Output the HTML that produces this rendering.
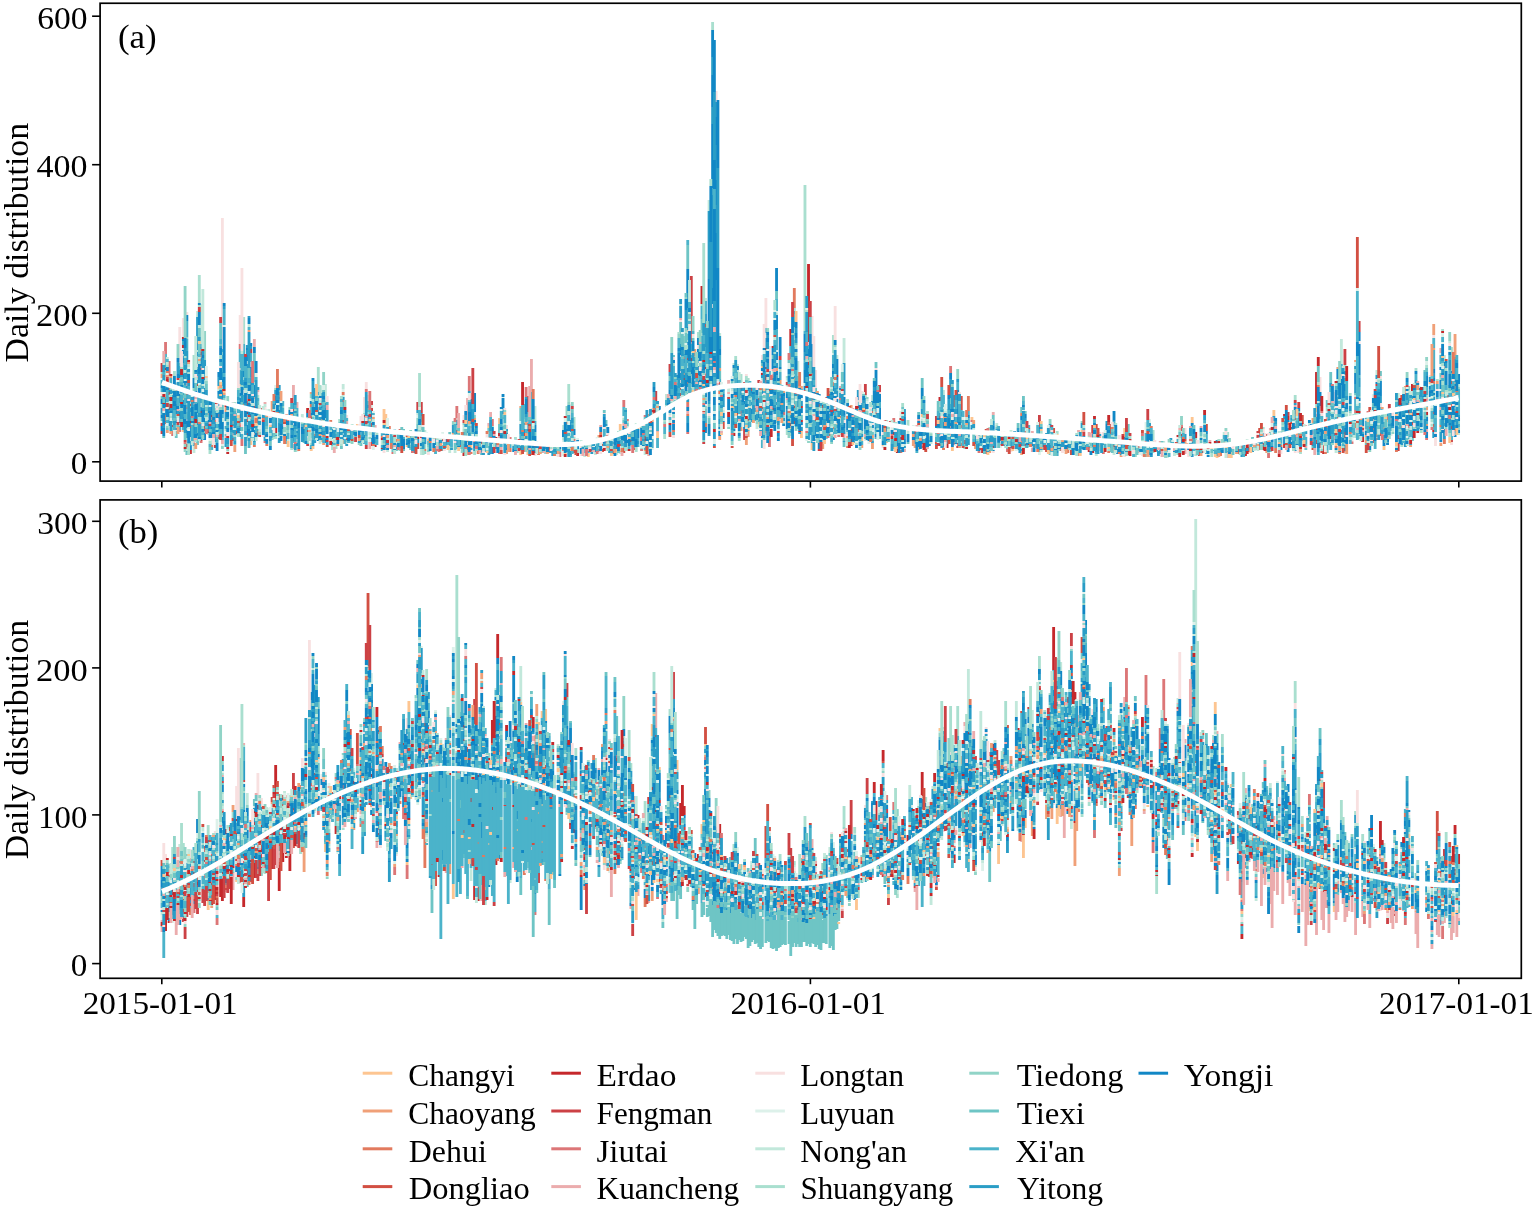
<!DOCTYPE html>
<html lang="en"><head><meta charset="utf-8"><title>Daily distribution</title>
<style>
html,body{margin:0;padding:0;background:#fff}
body{width:1534px;height:1210px;overflow:hidden}
svg{display:block}
text{font-family:"Liberation Serif","DejaVu Serif",serif;fill:#000}
</style></head><body>
<svg width="1534" height="1210" viewBox="0 0 1534 1210">
<rect width="1534" height="1210" fill="#fff"/>
<g transform="translate(162.00 0) scale(1.77616 1)" fill="none" stroke-width="1.6">
<path stroke="#FDC591" d="M12 398v2m0 30v2m6 6v2m4-74v2m4 45v2m6-29v3m8 32v3m4-40v2m6 52v7m10-33v2m20 13v2m4 20v2m12-27v2m6 14v4m8-20v4m16-14v11m0 4v2m12 14v2m4-15v7m8 0v2m24-15v2m0 17v3m8-11v5m2-16v2m6-10v6m0 17v3m12 6v5m2-19v2m2 12v5m24-13v2m0 4v3m10 2v4m16-8v3m2-28v6m0 21v1m6-24v3m4-4v2m32-73v1m22 50v2m8-3v2m0 20v2m6-8v5m2-61v2m4 26v3m12-8v2m0 35v3m6 2v7m6 5v7m14-27v2m12-17v3m2 26v4m12 4v1m2-5v2m18 4v3m2-36v3m28 0v3m18 23v1m2-10v7m28-7v2m8 2v2m6-10v3m0 5v3m10 4v2m2 1v3m6-2v2m2-9v2m4-16v9m26 9v1m12-30v3m0 0v3m14 33v2m8-6v6m24-48v6m0 5v2m24-16v5m22 3v4m4 7v2m4 15v3m8 0v4m2-30v2m24-40v2m12 26v2m2-30v2"/>
<path stroke="#F0A078" d="M0 374v4m8 12v1m6 16v2m8-54v3m6 59v3m2-20v2m6 5v5m26-11v11m22-20v2m4 13v3m2 9v4m0 17v2m38-12v2m16 2v3m20-4v5m8 12v5m4-37v2m18 30v4m8-48v2m44 27v5m26 10v1m2-37v2m2 4v2m18-49v2m6-26v7m2 23v2m12-13v3m0 65v4m12-13v4m4 0v6m14-61v2m2-10v3m2 9v4m2 4v5m4 18v4m2-37v2m0 36v1m4-31v3m2 2v3m10 48v7m2-26v3m2-8v2m10 16v2m2-33v5m4 3v2m2 30v3m6-13v3m0 5v6m2-31v2m6 17v2m4 8v2m2-3v3m10-4v3m16-32v3m18 25v5m8 2v2m6-22v3m2 1v2m10 14v4m8-10v3m22-11v2m16 2v2m6 4v2m2-5v3m2 8v2m36-16v3m4 3v2m16-6v3m4 0v2m22 3v2m12-31v3m14-7v5m0 15v4m8-17v3m6-61v2m10-9v2m6 73v2m0 3v3m6-9v3m0 1v2m4-13v2m2 8v2m8-13v2m2-42v7m2 10v3m6-5v3m4 3v3m0 14v2m4-102v11m0 13v2m2 31v3m2 59v3m8-112v23m0 29v3"/>
<path stroke="#E27A5E" d="M2 397v2m0 16v6m0 1v2m20-75v3m6 93v2m18-43v5m6 15v2m0 19v2m2-16v5m16-22v5m14-15v3m2 27v2m16-44v3m22 41v2m4-12v3m4 10v3m16 7v2m6-16v4m18 1v2m2 10v2m4-4v4m18-6v4m8-5v5m4-3v6m4-6v6m6-3v1m10-31v2m60 6v2m8-50v2m0 18v2m0 10v2m10 7v4m8-36v3m20-9v3m22-100v20m2 85v3m8-23v2m8 24v3m2-2v2m2-20v4m0 27v2m0 12v2m4-13v2m4-2v3m0 27v2m4-23v2m26 23v3m24-6v3m10-7v3m4-50v15m2 20v2m28-20v3m0 25v2m26 4v6m16-19v3m54 1v4m16 10v4m2-14v4m32-1v2m24-2v1m18-23v5m44-47v3m4 41v2m2 12v5m4-46v2m2-43v2"/>
<path stroke="#D24F42" d="M4 388v2m10 2v3m2 9v2m10-8v2m4 2v2m0 16v2m4-33v3m10 31v2m42-3v2m12 13v3m36-11v2m4 1v5m6 6v6m14-14v2m10 8v2m26-6v2m10-2v2m6 1v3m18-4v3m4 4v3m16-9v2m0 3v3m2-15v2m4 12v3m6-6v5m4-13v2m2 6v2m6-10v2m14-10v5m6-49v2m0 3v3m24 26v7m20-31v2m18 23v3m2-5v3m14-20v3m4 19v2m2 6v2m16-7v3m8-21v2m26 10v2m4 23v4m6-10v2m0 1v4m10-54v12m4-11v14m2 30v3m12-14v6m0 14v5m24-26v1m10 18v5m4-24v5m0 13v2m4 1v2m6-1v5m14-31v5m8-5v10m10 17v4m8-25v3m24 6v2m12-17v7m18 18v5m12-26v6m0 11v3m0 0v2m8-17v5m10-16v2m6-9v8m6 25v2m14-33v2m16 26v8m2-46v5m2 28v3m4-10v3m12-41v5m28-19v3m0 20v3m2 22v2"/>
<path stroke="#C5282B" d="M2 368v2m2 22v3m0 13v2m8-73v2m0 6v3m2 96v3m2-26v2m0 27v4m4-70v2m2 25v2m2 13v2m2 3v2m2-18v2m4 20v2m4-38v6m8 18v2m4-15v2m0 5v3m16 6v5m10-24v2m6 7v3m2-13v5m0 17v2m2-16v3m18 1v2m2 16v2m10-25v2m4 25v4m2-1v2m4-9v2m0 8v1m20-12v2m26 13v4m18-19v2m2-6v3m14-3v3m2 6v1m12 1v7m16 2v3m38-20v4m14-17v2m8-47v2m2-22v2m2-2v3m6-75v18m2 63v2m8 13v2m8 49v3m2-23v2m4-33v4m2 33v2m8-48v2m2-27v2m0 25v5m4-34v2m0 60v2m10-81v17m2 60v2m4-2v2m0 12v2m2-32v1m2-127v78m0 20v3m8 40v3m2-11v2m6-24v2m8 62v7m4-40v2m18 13v4m2 7v3m2 14v4m2-35v2m0 17v2m8-10v5m14-37v4m0 15v3m0 25v2m4-2v4m20-15v2m0 13v5m6-7v2m20-4v1m34 2v5m2-1v2m8-13v2m4 3v2m4-5v3m4-1v2m6-4v6m16-5v3m6-11v2m2-3v2m8-4v6m4 13v2m4-11v2m4 1v2m16 7v2m10-13v2m0 1v4m2-16v2m10-22v2m0 28v4m2-32v4m6 8v2m2-7v3m8-54v32m0 24v2m4 16v8m4-18v3m8-20v1m0 16v2m8-27v2m2 24v5m26-32v3m0 12v3m2-44v7m0 24v1m0 6v3m8-13v3m4 9v3m0 3v2m8-37v3"/>
<path stroke="#CC4145" d="M0 363v7m0 0v2m0 51v3m0 5v3m6-9v2m10-1v2m2-4v2m4-74v3m0 13v2m0 70v1m2-13v3m2-2v2m4 14v3m10-10v3m2-10v3m6-33v4m0 28v2m2-86v4m2 53v3m4-1v4m26 32v2m20-46v2m16-1v4m0 3v3m0 12v5m10 1v1m16-28v8m0 22v2m2-32v11m0 22v3m12 1v2m4-4v3m4-10v2m4-12v3m10 18v3m26-48v16m6 36v1m24-6v2m22-1v2m10-21v2m8-17v2m2-21v10m8-37v8m12-96v66m6 39v2m2-59v3m20 61v1m2 40v11m4-55v6m4-11v3m2 24v2m2-42v2m0 44v2m2-26v2m6-35v4m4 22v3m12 9v3m4-4v2m0 24v2m2 28v2m18-22v2m8-47v11m6 17v2m2-29v7m32 24v10m12 17v5m4-5v1m34-13v3m0 10v2m8-31v12m30-2v9m30 7v3m20-17v4m10 21v4m24-10v2m2 0v2m2-2v4m4-12v2m18-30v4m4-16v3m0 15v2m2-18v6m10 32v4m2-1v5m14-99v16m0 67v4m8-115v11m2 96v2m4-3v2m4-45v2m0 26v3m12 20v4m0 4v8m20-39v2m6-15v1m4 26v3m0 11v2"/>
<path stroke="#DC7677" d="M2 342v12m2 7v15m2 9v3m0 43v5m4-6v2m12 9v2m10-29v3m12-73v5m0 69v3m10-13v3m4 30v2m72 9v2m26-18v2m0 11v3m10-46v12m8 20v2m2-1v3m10-23v4m0 0v3m4 26v2m2-16v4m4-5v4m28 11v5m2-7v1m2-20v3m4 5v2m14 8v3m4-13v4m10-43v7m2 12v2m8 16v4m0 8v2m2-36v2m16 6v1m6-67v2m2 45v3m0 25v2m8-44v2m2-18v2m20 35v5m14-36v3m0 48v2m2 3v11m8-35v3m16-17v3m2 15v3m12-16v2m2-7v2m12 15v1m2-7v2m16 7v4m16 24v2m16-82v7m2 69v3m4-20v3m6-8v2m4 29v2m16-4v3m40 1v3m2-20v2m12 14v2m22-21v3m2 8v2m20-21v2m34 16v3m62-4v2m2-47v2m0 11v3m10 15v2m8-14v4m10-27v2m4 17v3m8 23v2"/>
<path stroke="#EBACAD" d="M2 375v2m0 17v3m12-14v3m4 17v2m0 35v3m2-67v2m0 14v2m14 46v4m2-8v2m4-36v2m0 29v3m8-41v6m2 16v2m2-80v8m0 50v2m0 19v6m0 9v2m2-45v2m4 10v2m16-19v18m0 41v5m2-47v6m22 17v3m6-7v4m2 0v3m14-3v4m50 8v2m2-41v23m2-28v6m10 24v3m6 10v2m16-17v2m2-64v33m52 31v3m14 25v5m12-58v2m6-82v2m4 10v2m0 79v3m2-72v2m0 48v4m8-23v1m28 25v3m0 3v3m4 1v3m2 21v2m4-66v2m0 3v2m4 20v2m4 0v2m4 4v2m8-46v2m6 48v4m6 19v1m6-48v2m2 46v4m4-28v2m4 22v2m2-25v2m2 21v3m22 12v3m6-8v1m2-26v2m2 23v2m2-25v1m0 5v3m10-18v2m4 12v2m0 5v3m24-24v3m12 30v4m6-24v2m4 4v4m0 0v2m0 11v4m10-24v2m4 6v2m12-8v2m6 0v4m6 0v6m22 9v2m6-21v2m0 21v2m6-16v3m8 1v6m6-3v6m2-8v2m12-8v2m10 10v6m10-17v4m2-4v6m2-7v2m8 3v4m2-21v2m14-25v2m0 17v2m0 2v2m6-5v2m0 19v2m4-17v3m2-20v3m6 0v2m4 17v4m4-66v2m2 75v1m4-11v1m6-12v2m6-13v3m10-4v2m4-12v2m0 10v2m2-16v2m14-10v3m0 28v3m6-33v4m2-55v5m0 54v3m2-44v2"/>
<path stroke="#F8E0E0" d="M0 392v4m10-69v36m2-45v19m2-25v3m0 104v2m6-57v3m0 27v2m6 22v2m4-14v2m2-2v2m2-190v131m6 77v4m2-20v3m0 21v2m2-121v29m0 24v2m2 20v3m4-31v5m0 34v3m2 0v2m2-14v3m4 12v6m10 3v1m0 18v3m6-15v2m2 14v2m4-20v2m2 13v2m2 0v3m4-37v3m6 14v4m4 15v2m6-27v3m4 17v3m4-22v8m2-27v13m2-15v6m0 27v2m16 7v2m14-6v2m0 3v3m4-7v5m0 13v3m20-40v5m4 8v2m0 6v2m0 12v2m2-40v3m4 29v2m14-21v4m16 24v3m10-12v6m8 2v3m2-51v16m2 15v2m4 8v3m0 6v2m4-8v3m8-11v4m6 0v2m4-7v1m0 6v3m2-8v2m2-8v5m2 5v2m18-37v2m4 3v2m2-60v3m0 50v2m0 6v2m0 15v3m4-118v2m0 33v2m0 14v2m0 7v3m0 13v2m0 0v4m2-16v2m0 9v3m2-13v3m4-11v2m2-36v4m2 24v2m2 29v2m2 7v3m2-112v4m2-217v11m14 296v2m2 0v1m4 6v2m4-17v4m2-41v5m0 11v2m0 7v3m2-85v30m0 7v3m0 27v2m2-21v25m0 16v2m2 23v5m2-18v3m18-60v3m2-29v28m2 26v18m4 39v4m4-25v3m0 3v2m4-17v2m4 21v3m2 11v2m4-27v6m4-24v12m4 15v6m2-7v1m0 5v2m2-57v2m2 22v2m2 29v2m0 7v3m0 11v2m14-21v4m18-26v2m0 28v2m30 14v2m6-22v4m4 13v4m12-6v2m8-5v2m4-4v2m14-9v5m12-7v2m2-2v4m8 11v2m4 5v3m2-8v2m4-9v2m4 8v4m4-16v2m8 1v2m8-8v2m2-8v3m2-6v6m0 10v4m2-5v3m0 4v7m8-11v2m14-11v2m2 4v5m18-19v4m0 8v2m4-13v2m0 7v3m6 8v4m4-29v3m2 17v2m2-17v5m0 16v2m2-7v7m4-19v3m4-3v2m2-24v2m2-37v15m0 16v3m2 31v3m2-34v2m2 26v3m2-50v12m2 2v2m2-32v3m0 49v2m0 4v3m2-36v3m0 48v2m4-21v2m0 5v1m2-11v2m2-91v3m6 95v4m4-64v3m2-6v3m0 24v4m4 2v3m12 19v3m0 5v7m6-17v2m4-21v2m2-37v2m2-42v3m2 51v2m2 51v1m6-1v3"/>
<path stroke="#DDF1EA" d="M0 378v2m0 41v2m4-43v3m0 18v2m2-15v3m4-5v2m0 2v4m0 12v4m2-62v2m2 99v2m2-14v4m4-55v1m0 3v2m2 0v4m0 7v4m2-24v5m4 50v2m2-36v2m4 38v2m2-25v5m0 5v3m2-32v2m4 4v2m2-14v2m2-5v2m2-34v3m2 65v2m2-32v5m0 24v2m2-15v2m0 10v2m8-1v2m2-45v3m0 17v5m2-7v2m10 24v2m0 15v6m8-54v3m0 29v3m0 8v2m6-57v4m0 45v3m6 1v3m4-4v6m2-55v3m0 41v2m2 7v2m4-19v2m4-3v2m2-16v3m2-1v3m0 8v2m2-20v3m2 25v4m10-6v5m2-6v3m0 0v4m0 5v2m4-9v2m8-22v3m12 20v2m2-8v3m0 2v2m0 2v3m8-26v2m6 18v2m0 2v3m2-21v2m10 16v2m2 0v3m6-50v1m0 21v4m10-2v3m0 17v5m4-6v2m16 12v2m4-16v3m0 8v5m4-24v2m4 4v2m10 0v6m2-6v2m2 4v3m2-17v3m4 1v6m2-9v2m4-19v2m2 10v3m8 14v3m6-40v2m0 2v3m0 21v3m0 9v2m10-54v2m6-11v1m4-56v2m0 32v2m6-5v3m14 41v3m6-29v3m0 11v4m0 10v2m2 11v6m6-37v4m0 6v3m6-14v2m2 2v2m2-34v3m0 4v2m2 54v2m2-10v3m2-109v2m0 37v2m0 8v3m2 57v3m4-43v2m0 21v3m4 18v2m2-38v2m2 8v3m0 12v2m0 10v2m10-13v2m2 23v3m4-40v4m2-53v2m0 36v2m4 28v2m2-28v2m2 17v2m10 23v2m2 0v3m2-14v2m8-8v2m4 4v2m0 3v4m4-28v7m2 30v1m10-32v2m12-12v2m6 28v2m2-16v2m8-3v3m12 23v2m4-9v3m0 1v3m12-2v3m2-20v2m8 21v3m6-22v4m4 1v3m12 4v4m2-16v3m2 5v4m2-1v2m2-5v2m10-3v3m2-9v3m6 14v3m2-14v4m10-22v11m0 20v1m2-35v4m8 28v4m20-12v2m2 3v3m2-3v2m4-6v6m0 1v3m4-15v4m10 0v2m14-7v3m16-17v3m0 13v2m6-6v2m10 2v2m2-16v4m2 9v3m4-28v3m2 6v2m0 20v8m4-85v3m0 4v3m0 45v2m0 13v2m4-3v3m2-78v4m0 62v2m2-29v2m2 11v3m6-23v4m6 22v2m4 9v5m4-30v2m0 33v2m2-35v2m6-11v3m0 7v3m2 16v1m2-43v2m0 31v2m4-60v4m2 19v2m0 11v2m6-46v2m0 9v3m0 3v3m0 16v2m2 35v3m6-22v2"/>
<path stroke="#C2E8DB" d="M2 377v6m0 9v2m2-18v2m0 0v2m0 15v2m2 26v2m2-42v7m2-12v2m0 43v3m2-72v2m0 27v2m2 18v2m0 4v3m0 26v6m2-42v2m0 2v2m2 38v7m2-142v6m0 33v2m0 35v3m2-86v40m0 73v6m2-43v3m2 32v3m0 15v2m2 5v3m2-1v3m2-56v2m0 31v2m2-6v4m10-36v3m0 2v2m2-16v3m2 8v4m0 30v3m4-43v3m0 24v2m4 1v1m2-9v3m2 2v2m4 3v2m2 20v2m10 3v2m2-24v1m4 18v3m2-13v2m2-14v3m0 12v3m2-39v2m2-7v3m2-9v17m0 17v2m4 6v3m6-45v5m0 6v2m4 31v2m12-2v5m0 2v3m4-9v2m2 9v5m2-14v3m14 9v2m4-32v2m2 10v2m0 3v3m0 8v2m0 6v6m2-25v3m14 13v7m4-19v2m4-11v4m2 4v3m2-6v2m10 12v2m6-8v3m2-18v3m2 17v2m10-2v3m6-40v15m16 4v5m0 7v3m2 1v2m2-9v2m6 4v3m2 4v2m0 4v4m2-15v6m4 4v3m2-13v1m4-17v6m0 3v2m6 15v3m2-6v2m0 1v2m4-28v2m0 15v8m10 0v4m12-61v6m2 13v2m0 5v3m2-27v1m4-93v2m2 82v3m2-51v2m2 10v3m0 21v2m6-45v3m2-38v3m0 68v4m0 15v2m2-190v11m6 122v3m0 58v3m0 3v3m0 26v2m2-21v3m0 5v3m6-58v2m0 66v2m2-69v2m0 4v2m6 42v5m2-14v2m2 5v3m4-37v2m0 6v2m0 50v2m2-107v2m4 36v3m2-61v2m4 106v2m2-45v2m2 38v3m2-91v3m0 3v4m2 21v12m0 0v3m0 31v3m4-27v3m2 38v3m2-16v5m2-16v2m2 5v3m4-8v3m4-26v3m0 19v2m0 32v2m2-82v4m0 69v2m2-15v1m0 2v3m0 12v2m2-97v25m2 69v2m0 8v4m6-46v2m2 11v2m6-20v6m0 4v3m0 5v4m0 11v2m16-7v3m0 9v2m2 7v2m2-15v3m6-9v5m2-11v2m2 1v3m0 10v3m8-37v4m2-15v5m2 14v7m4-9v2m2 31v3m2-20v2m2-5v3m0 13v4m6-9v5m2 0v7m8-8v2m2-14v2m0 5v4m8-4v5m14 1v2m2 3v3m8-11v3m0 7v3m4-9v7m2 5v2m6-1v5m2-23v2m2-6v2m8 7v3m0 14v2m2-9v4m2-6v3m6-20v3m0 20v4m18-7v2m4-10v2m6-1v2m0 5v3m2 1v6m4-6v4m4-6v4m24-22v3m2 8v3m10-1v3m12-12v2m16-18v4m4 17v5m4-23v2m2 11v2m4-32v2m0 3v3m0 5v5m4 18v3m2-29v3m2-12v2m0 8v2m2-40v2m2-42v25m0 80v5m2-29v3m0 20v2m6-50v2m0 24v2m6-4v2m6-51v5m2 38v3m2 1v3m0 12v3m2-13v5m2-17v2m4-19v6m0 14v3m6-26v2m2-1v5m10 6v2m6 13v2m2-64v7m2 30v3m0 10v2m0 16v3m6-42v3m0 46v2"/>
<path stroke="#A9DFCF" d="M0 372v2m0 30v4m2-38v5m4 18v2m2 28v5m6 0v2m0 17v2m4-94v21m0 0v2m2 0v2m4 15v3m0 17v3m4 25v2m4-37v4m2-60v3m0 31v3m2 40v2m8-42v2m2-74v27m2 94v3m2-33v2m2 6v2m2-23v3m0 26v3m10 9v3m2-32v3m4 15v3m0 2v6m12 5v2m2-8v3m0 5v2m2-41v3m2-40v25m0 31v2m8 21v4m2-8v7m2-30v3m6 18v3m2-4v3m4-10v3m2-22v2m0 16v2m4-12v2m0 10v2m8-9v3m0 17v1m12-10v2m8 7v2m2-4v5m2-2v3m18-3v2m2-20v3m6-5v2m0 22v4m8-23v2m2-8v1m12 13v6m2 2v5m32-36v12m0 8v2m0 8v3m2-1v4m8-2v1m4-5v2m4-3v3m8-19v2m2-14v2m2 1v2m8 25v1m2-25v2m0 19v2m12-42v2m4-44v3m0 31v4m0 13v4m4-28v3m4-48v4m0 14v3m0 24v3m2-19v2m0 8v4m4-56v6m0 20v2m0 29v4m2-89v2m4 110v2m2-396v8m2 355v4m8-4v2m2-8v2m2 18v2m2-27v10m2 33v4m2-43v4m2 15v5m2 0v3m2-9v2m2 17v4m4-16v2m4-18v2m0 16v2m0 13v3m2-54v3m2 43v3m2-42v2m0 7v2m0 3v2m0 8v3m0 26v6m2-2v1m0 0v2m2-128v3m0 16v3m0 44v2m6-191v146m4 77v3m2 28v2m8-50v3m2-59v18m0 45v3m0 14v4m0 6v2m0 2v3m2-20v3m2-25v3m0 12v4m4-10v4m0 35v4m6-10v2m4-39v3m4 20v3m8-1v4m2 1v1m6-6v3m4-3v7m6 12v2m6-11v7m6-26v2m4 20v3m8-8v4m0 9v2m2-20v2m8 6v2m2 6v2m0 2v3m4-19v4m4-6v2m6 19v2m2-13v4m8-12v2m0 13v2m4-7v3m6-5v4m8-8v3m6 3v7m2 1v3m10-12v3m6 3v3m2 6v1m6-26v2m8 7v2m8 3v2m6-12v10m6 15v2m18-19v2m0 10v6m6-13v2m12-13v5m0 11v3m20-24v2m10 2v2m4 6v3m2-13v3m2-37v5m10 28v3m2-27v3m4 27v5m2-32v4m0 8v2m0 15v3m2-32v3m0 0v3m0 6v2m2 10v2m2-38v2m4-32v3m0 14v2m0 20v3m0 5v7m6 13v6m6-24v2m2 20v3m6-60v2m2 33v3m8 8v2m0 12v2m2-18v3m0 19v2m2-24v2m4-5v2m2-54v3m2 28v2m0 10v2m4-48v3m0 27v3m4-7v2m2-14v2m4 39v3m2-38v2m0 0v5m2-45v24m0 47v2m2-28v3m0 27v3"/>
<path stroke="#91D4C7" d="M2 407v2m4 18v4m2-17v3m2-54v3m4-29v2m0 30v1m0 35v2m0 5v2m4-26v5m2 20v2m4-84v29m0 71v2m6-25v3m2 20v4m2 11v3m14-35v3m4-6v2m10 25v2m2-52v2m0 43v2m4-29v2m2 20v2m2-23v3m10 7v3m2-26v4m0 35v2m4-10v3m4-27v2m6 29v2m6 6v2m4-4v1m6-6v2m10-4v2m2-8v1m8 22v3m6-21v4m0 11v2m4-29v6m2 3v3m2 21v3m2-9v2m0 3v2m14-31v4m2 0v5m4-7v2m0 14v5m4-12v4m2-21v3m0 7v2m0 2v3m4 7v2m0 5v2m12-34v3m12 2v4m2 11v6m10 9v5m6-9v3m6-42v16m4 23v2m6-6v2m12 0v2m2-9v3m18-17v6m4-10v2m4-14v2m10-7v2m2-23v3m4-47v18m4 24v4m6-21v3m2 33v4m0 5v3m8-21v3m22 27v2m4-26v3m0 18v4m2-18v2m0 20v2m12-66v4m0 58v2m2-90v3m0 51v2m8 12v3m0 37v2m2-21v2m2-17v2m0 27v2m2-18v2m2-23v6m2 16v2m4 0v2m2-10v3m14 13v3m18-6v2m2-6v3m16-14v8m2 16v3m0 2v2m4-10v3m6-7v3m2-35v6m4-35v10m0 51v2m4 12v5m14-2v3m6-6v1m16 0v2m8 0v3m4-31v5m8 14v2m6-1v3m2-3v2m2-20v2m4 19v2m8-8v2m6-7v3m12 16v7m10-6v2m16-37v9m8 15v5m6 0v3m26-6v4m2 2v2m16-31v2m8 9v3m8-10v2m4 7v4m2-12v2m18-57v4m0 40v2m6 14v2m0 6v3m2 10v2m18-31v2m4-37v4m0 2v3m0 39v2m6-46v2m2 10v4m2-49v4m0 54v2m4-22v2m4-20v3m0 50v2m6-53v2m0 9v3m2 16v3m2-25v2m0 32v3m0 3v3"/>
<path stroke="#6EC5C5" d="M0 396v3m0 19v3m4-18v5m2 12v3m2 8v7m2-58v6m0 2v2m0 13v3m0 4v2m2-47v9m0 21v3m2 16v5m0 33v3m2-43v4m4-60v8m0 3v2m0 56v8m0 3v9m8-46v3m6-2v7m0 0v3m2 24v2m6-23v5m4-32v4m4 20v4m2-61v29m2 19v7m10 2v4m2-24v2m0 13v2m0 25v4m2-7v6m8-2v6m4 2v2m2 0v1m2-37v6m0 6v2m12 23v2m4-24v2m2-9v5m10 15v4m0 3v4m4-45v4m0 3v4m0 13v3m4 15v2m6 3v2m4-2v4m2-8v3m0 2v2m2-20v3m2-5v6m0 14v2m4-17v2m0 11v3m2-9v5m2-22v8m2-10v3m2 8v4m2 4v4m8 0v6m4-19v5m4 8v4m18-21v4m6-8v9m0 11v8m2-35v2m0 7v6m2-1v2m2 8v4m6-37v13m2-17v15m0 19v3m0 5v1m2-35v9m0 10v3m4-2v4m4 15v2m10-9v3m0 2v3m26-32v4m2 15v2m2 1v2m0 2v5m4-19v7m2-19v3m2 0v3m10-9v4m2-5v2m0 26v7m6-41v1m4-4v3m2-34v5m2-26v2m2 26v3m2-64v22m4-99v24m0 65v6m2 42v2m2-16v2m2 5v4m2-60v14m0 25v3m0 3v5m2 7v3m0 30v7m2-12v3m0 11v6m6-53v8m0 26v6m0 13v3m8-59v4m0 12v3m0 38v4m4-34v3m4 10v2m8-47v3m0 30v11m2-36v4m0 22v3m4-45v4m0 26v3m0 9v3m0 10v2m2-121v8m0 95v5m0 8v13m2-36v2m0 25v5m2 7v1m4-48v10m0 20v5m2-71v7m0 33v3m2-7v5m0 36v3m2-29v3m0 21v5m4-28v2m0 27v3m0 3v5m2-57v3m0 54v3m2-47v5m0 4v3m6 5v4m0 24v6m6-50v2m0 40v3m2-7v3m2-13v3m0 18v3m0 1v5m6-20v9m6 1v2m4-7v3m0 3v3m2-79v6m0 46v4m0 2v2m0 9v3m2 2v1m0 0v2m8-17v6m0 11v2m4 1v5m4-5v2m6-32v3m2-37v10m0 11v10m0 12v4m2 0v2m6 2v5m2-27v4m2-2v3m0 7v3m2 14v3m2 1v4m2-23v10m6 3v2m2 1v2m14-24v6m2 6v2m4 11v3m2 5v1m4-12v7m2-21v5m2-21v6m2-2v3m0 7v4m0 21v2m6-4v1m2-9v5m0 3v3m6-17v3m0 18v4m16-14v4m0 4v4m2-12v4m2-6v2m4 6v4m10-3v4m10-28v11m8 1v4m2 14v3m2-31v3m4 22v1m12 0v3m42-18v3m8 9v2m2-19v7m0 10v3m6-9v2m8-4v4m2-34v2m2 25v3m2 3v2m0 2v2m4-4v2m2-14v6m6-40v7m0 43v3m2-81v11m2 21v3m0 4v3m2 18v4m2-12v4m2-50v4m0 16v3m4 20v4m2-32v2m2 1v2m0 10v3m0 6v2m0 16v4m4 4v2m2-13v4m2-33v4m0 30v3m2-51v2m0 35v8m2-63v5m0 31v6m2-3v4m4 6v3m4-13v3m0 19v3m4-22v6m2-24v3m0 30v3m2 7v3m4-25v3m2-29v6m2-28v4m0 33v2m8-34v4m0 50v3m2-62v26m2 4v7m2-32v3"/>
<path stroke="#4BB3CA" d="M0 380v6m0 2v4m0 21v2m2-61v14m2 29v4m0 9v2m4 5v3m2-54v4m0 56v4m2-89v4m0 18v2m0 20v4m0 38v3m2-109v16m0 2v12m0 26v4m2 11v5m0 0v5m2 3v13m0 27v1m2-50v7m0 12v5m2-50v18m0 0v4m0 31v14m2-15v4m2-26v8m2 16v3m0 2v4m0 14v3m2-36v6m0 8v3m2-12v3m2-73v3m0 3v17m0 10v4m0 28v4m0 19v3m2-14v3m2-25v1m2 19v2m0 10v2m2-32v2m0 17v3m2-79v19m0 2v10m2-36v27m0 9v2m0 13v7m2-34v20m0 4v3m0 40v3m2-85v9m0 42v4m0 19v2m2 13v3m2-47v3m4 12v22m4-15v5m2-9v2m2-5v3m0 2v5m2-22v5m0 2v8m2 25v1m0 0v2m4-19v3m0 13v2m2-35v6m0 5v10m6-2v3m0 2v4m2-15v5m0 19v3m2-24v4m0 11v2m2-44v7m0 10v9m0 5v4m2-34v3m0 2v3m0 2v3m0 12v5m2 4v7m6-5v3m2-13v2m2-20v9m2 3v3m0 11v6m4-11v5m6-15v4m0 17v6m4-26v3m2 16v2m4-6v3m0 9v3m0 1v2m6-15v12m4-10v10m2-11v2m4-3v7m6-27v6m0 26v1m8-3v8m6-9v3m2-8v4m8 0v5m2-28v10m0 5v2m4-16v3m2 12v6m2 9v3m2-13v6m0 0v1m2-15v4m0 8v6m8-20v6m4 7v3m4-7v5m2-12v7m2-16v4m4-37v44m0 0v13m2-28v4m4 19v5m8-1v3m6-27v5m0 8v4m2-5v6m0 2v4m0 7v2m8-8v4m2-2v2m2-13v3m8 2v1m2-3v5m4-13v3m2 2v4m2-37v9m0 27v5m4-17v9m0 2v3m2 2v1m2-10v3m0 3v3m4-21v10m0 6v3m0 2v3m2-21v10m2-24v5m0 19v9m2-47v5m0 2v6m6-14v5m2 12v3m2-54v30m0 36v3m4-78v14m2-17v3m0 6v6m2-129v5m0 63v19m0 45v3m0 18v4m2-53v8m0 3v3m0 30v4m2-35v3m0 21v4m2-25v3m0 22v4m2-83v13m0 34v5m0 17v3m0 5v7m2-89v13m0 33v20m0 19v2m0 28v7m4-235v7m0 192v3m4-35v13m0 11v3m0 29v8m2-28v3m6-22v7m0 20v8m2-35v5m0 9v2m2 12v11m0 10v2m2-31v8m0 4v10m2-17v4m0 9v4m0 7v2m0 7v1m2-17v5m2-31v11m2-16v4m2 53v8m2-29v8m2-56v16m0 4v3m0 33v5m2-39v4m0 23v3m0 3v2m2-129v12m0 18v21m0 25v12m0 2v5m2-34v7m0 5v8m0 6v10m0 2v7m0 11v3m6-73v13m0 6v4m0 22v15m2-92v7m0 39v2m0 0v12m0 9v4m0 9v8m0 4v8m2-35v7m2 1v2m2-60v3m0 26v3m2-18v4m0 7v4m0 8v4m0 25v4m0 3v2m2-5v7m0 16v3m0 8v7m2-29v3m0 5v5m2 5v12m2-23v5m0 6v4m4-37v2m0 14v4m0 10v5m2-78v9m0 4v3m0 48v4m0 9v3m2-10v3m2-28v5m0 18v4m0 3v3m2-30v5m2 22v2m2-14v11m2-14v6m0 19v3m2-41v4m0 5v2m0 2v7m2 19v4m2-34v4m0 14v5m2-8v3m0 3v4m4-14v3m0 0v2m0 2v2m0 6v2m2-37v6m2 27v6m2-10v6m4 4v6m2-20v3m14-5v2m4 13v2m4-5v5m2-10v3m2-40v12m4-3v5m0 4v10m2-11v5m2-35v8m2 20v2m0 4v7m0 14v4m2-16v9m2-23v4m0 3v4m8 19v2m0 3v2m2-13v8m0 4v2m2-18v7m0 5v4m2-5v4m4-12v3m2 7v2m8-9v2m0 4v5m2-28v4m0 8v5m2-3v2m2-11v3m0 1v8m6 13v2m4-15v6m2-6v8m2-9v5m0 7v3m0 0v5m2-3v1m0 0v2m8-16v5m0 3v2m6-5v2m2 1v2m6-21v5m0 18v2m4-16v3m4-7v6m0 3v5m2-27v5m0 11v5m6 0v2m0 3v4m2-14v3m0 6v3m6-1v3m4-18v8m0 5v2m0 2v3m2-11v10m2-10v9m4-7v7m4-1v2m6-13v9m8-21v11m2 7v4m6-15v9m0 7v4m2-10v3m4 0v6m4-18v7m2 9v1m16-10v6m2-11v2m4-1v3m8-8v10m2-19v11m2 1v3m0 3v6m2-33v3m0 2v2m0 10v8m2 5v5m2-17v13m2-13v3m2-9v5m0 5v7m2-19v2m2-2v3m4-14v5m4-6v4m0 11v8m0 9v5m2-63v20m0 6v3m0 5v2m0 20v7m2-27v8m2-42v6m0 2v4m0 7v9m2-53v10m0 11v9m0 0v24m2 7v3m4 2v3m0 2v2m2-38v11m0 9v2m2-46v3m0 9v9m0 7v5m0 5v4m2 15v2m2-18v3m0 2v8m2-7v5m2 6v4m2-51v3m2 27v8m2-2v5m2 0v3m0 12v1m2-14v2m4-4v5m2-32v3m0 7v7m0 13v8m2-43v11m0 13v4m2-25v2m2 5v4m0 16v6m2-57v6m0 10v8m2-6v3m0 9v7m0 10v8m4-42v8m0 26v3m2-25v3m2-64v10m0 2v19m0 49v6m0 3v3m2-46v5m0 8v2m2-44v9m0 32v8m0 15v6m2-18v13m0 3v3m4-50v3m0 5v3m0 13v4m0 3v3m0 19v11m2-51v3m0 33v4m0 4v2m2-46v26m0 9v3"/>
<path stroke="#2A9DC6" d="M0 408v5m2-30v6m0 24v2m0 6v1m2-5v6m2-32v2m0 6v21m2-29v4m0 3v6m2-34v5m0 23v5m2-25v5m0 6v6m0 11v11m2-66v18m0 1v7m0 11v4m0 3v6m0 34v3m0 13v1m2-44v4m0 4v5m0 20v5m4-129v26m0 26v7m0 44v3m0 12v1m2-92v3m0 53v3m0 34v3m2-80v7m0 0v13m0 23v7m2-2v5m2 0v2m2-4v3m0 17v11m2-65v9m0 8v9m0 9v2m0 3v2m0 8v4m0 4v2m2-65v7m0 50v8m2-25v9m0 17v9m4-35v9m0 9v3m2-15v7m0 3v3m2-51v4m0 25v5m0 13v4m2-49v4m2-41v3m0 2v5m0 9v4m2-22v3m0 28v5m0 8v11m0 18v8m2-14v3m0 19v7m2-55v3m0 21v4m0 2v7m0 5v2m4 6v4m4-29v8m0 5v3m0 2v8m2-48v6m0 22v6m0 0v4m0 7v1m2-51v5m0 2v5m0 2v4m0 20v9m0 6v3m0 0v2m2-21v4m4-10v3m2-16v6m0 2v12m0 8v4m0 0v6m2-27v5m4 15v3m0 0v4m2-21v7m4-39v9m0 31v3m0 10v2m2-51v3m0 37v7m2-46v5m0 3v2m0 35v2m2-37v5m0 12v12m4 1v6m4-3v2m2-41v3m0 2v4m0 16v11m2-5v4m0 12v2m2-16v5m8-10v6m2-26v3m4 31v4m6-9v6m0 7v1m12-9v4m4-4v2m0 5v3m0 0v4m2-43v3m0 26v4m2-30v3m2 23v5m6-5v3m2 2v5m4-6v2m2-1v2m2-21v8m2-13v2m4 10v5m2-6v2m0 14v3m2-2v2m2-18v2m0 14v3m6-2v3m2 0v3m4-8v2m6-20v2m0 2v8m0 4v3m4-2v3m4-25v10m2-11v2m2 18v5m4-1v5m6-5v2m2 2v1m2-2v1m0 0v5m6-13v7m2-16v3m0 9v6m2-32v2m0 29v4m6-2v1m6-11v4m0 2v2m0 1v2m4-11v4m4-23v2m2 22v5m4-11v3m6-14v4m4 6v6m2-6v3m2-9v2m2-16v3m2 0v5m0 10v5m4-30v2m8-44v4m0 5v9m0 17v2m0 21v2m2-29v7m2-35v5m0 6v2m0 3v11m0 0v2m2-105v5m0 2v12m0 26v2m0 27v7m0 3v4m2-28v4m0 17v6m0 5v6m2-37v3m0 21v3m0 10v5m0 14v7m2-56v3m2-10v8m0 2v9m0 6v6m0 1v3m4-59v17m0 16v4m0 5v3m2-67v4m0 0v6m0 3v20m0 43v4m2-183v68m0 122v3m0 30v2m2-379v18m0 32v17m0 71v65m0 0v28m2-186v15m0 28v35m0 25v28m0 47v105m2-49v13m0 70v5m2-37v4m0 6v10m6 4v10m2-44v9m0 32v4m2-6v3m0 4v4m2-37v2m2-3v2m0 13v2m0 17v5m2-35v4m0 5v3m2 3v4m0 7v2m2-21v5m0 15v2m2-62v3m0 12v3m0 10v3m0 21v3m0 6v5m0 0v3m2-101v5m0 5v10m0 2v12m0 29v3m0 6v5m2-8v4m2-23v5m0 5v2m0 10v2m2-39v5m0 34v3m4-9v16m0 6v3m2-34v3m0 2v2m0 15v6m2-52v2m0 8v3m0 10v3m0 40v4m2-122v3m0 7v6m0 20v13m0 16v2m0 14v4m2 14v7m0 3v3m0 0v6m2-28v5m0 21v4m2-79v8m0 3v7m2 11v6m0 19v15m0 11v8m2-62v3m0 4v5m0 26v6m0 5v5m0 10v1m2-48v2m0 5v5m0 2v4m2-16v4m2 7v3m2-2v5m2-20v4m0 27v3m2-54v5m0 24v7m2-30v9m0 2v6m0 8v3m2-15v5m0 11v2m2-48v32m0 20v2m0 11v6m0 7v1m2-35v7m4 7v4m2-35v6m0 29v4m0 7v4m2-21v5m0 0v7m0 3v3m2-39v5m2 26v3m2-31v4m0 16v2m0 18v2m2-16v2m12 1v8m2 1v3m2-33v8m0 7v15m0 7v2m6-6v2m2-14v9m2-30v5m8 30v1m2-32v3m0 3v8m0 16v1m2-30v2m2 0v14m0 9v5m2-65v19m0 38v4m2-31v3m0 19v6m2-58v3m0 50v8m2-28v4m4 6v15m0 2v6m2-20v3m8 15v4m4-26v5m0 3v6m0 2v5m2-13v1m6 11v5m4-15v3m0 0v3m0 7v1m2-17v3m0 17v2m2-26v3m0 0v5m0 5v4m0 2v3m0 3v2m2-33v3m2 16v7m4-6v3m2-8v3m0 11v3m4-17v4m2-13v4m4 23v2m2-9v3m2-7v9m6-1v2m4-27v5m0 19v2m2-4v3m2-9v3m4 8v2m2-18v2m2 7v2m2-24v3m0 14v2m8 13v2m2-18v5m6 2v6m4-8v8m4-27v3m0 3v3m0 20v3m4-12v7m0 0v1m8-13v7m0 0v1m6-10v4m2-6v5m4 5v3m0 6v4m2-8v1m2-5v7m8-2v1m2-11v5m0 8v3m2-10v6m6-4v4m6-4v3m0 0v6m2-5v2m2-7v1m2-1v5m4-18v3m2-4v5m4 4v7m2-33v5m6-5v3m0 2v3m2 4v8m2-18v2m2-17v2m0 9v4m0 8v2m0 22v1m2-32v9m2-2v7m2-1v2m4 8v4m2-29v8m0 5v4m2 8v1m2-13v4m0 5v3m4-59v4m0 36v13m2-27v2m0 22v3m2-55v8m0 12v5m0 13v4m0 2v4m0 13v3m2-24v3m0 13v6m2-72v4m0 16v7m4 18v5m0 4v5m2-64v3m0 15v9m2-15v9m0 32v8m0 5v2m8-27v9m0 6v2m0 6v3m2-58v4m0 12v2m2 3v7m0 21v9m2-4v3m0 3v4m2-9v7m2-25v6m0 5v6m4-7v3m2-8v4m0 17v2m0 0v5m2-39v3m0 16v4m0 2v3m0 4v9m2-34v12m0 11v3m2-43v3m0 3v3m0 26v5m2-56v10m0 8v6m0 16v8m0 1v2m6-59v4m0 25v4m2-28v3m0 9v2m2-18v5m0 6v4m0 0v3m0 6v12m0 5v4m0 14v6m4-47v5m0 8v3m0 3v7m0 15v8m2-46v5m0 33v7m2-25v6m2-27v5m0 22v6m2-67v23m0 17v8m0 13v2m0 9v2m2-18v2"/>
<path stroke="#1187C5" d="M0 386v2m0 11v5m0 11v3m0 8v5m2-42v3m0 7v8m0 2v4m2-30v5m0 2v2m0 20v5m0 6v3m2-31v4m2-4v3m0 6v10m0 6v3m0 5v2m2-55v3m0 16v4m0 14v11m2-84v2m0 9v4m0 2v7m0 11v4m0 22v6m0 11v10m2-112v6m0 60v2m0 3v2m0 13v2m0 18v7m0 2v5m2-12v3m0 2v9m0 9v4m2-72v10m0 5v7m0 0v3m0 15v6m0 2v12m0 5v2m2-102v7m0 2v4m0 24v4m0 19v4m0 0v6m0 10v2m0 8v2m2-88v2m0 9v8m0 30v4m0 7v4m0 2v4m2-29v7m0 3v5m0 7v5m0 3v4m0 11v1m0 0v6m2-20v9m2-27v2m0 0v6m0 0v3m0 7v4m0 3v2m0 4v5m2-16v6m2-56v5m0 14v3m0 9v3m0 18v3m2-48v3m0 10v8m0 10v4m0 8v7m6-25v8m4-19v3m0 2v11m0 5v4m0 3v2m0 9v5m2-66v6m0 25v2m2-56v2m0 5v6m0 44v7m0 5v2m0 6v8m2-90v3m0 21v10m0 5v8m0 24v3m0 14v7m2-91v6m0 32v12m0 29v2m0 2v3m6 2v2m2-26v1m4-16v9m2-8v2m0 11v3m0 3v2m2-1v5m0 4v3m2-10v6m0 11v5m2-31v5m2 13v3m2 0v2m0 10v3m4-23v4m0 2v5m2-21v4m2-16v3m0 9v3m0 10v2m0 20v1m2-52v7m0 3v9m0 3v3m0 14v3m2-29v4m0 25v2m2-35v2m0 3v8m0 9v7m2-27v10m0 21v4m4-14v4m0 9v2m2-16v4m2-6v2m0 0v8m2-1v5m2-15v3m2 7v5m2-8v3m4-9v6m0 7v3m2-21v4m0 10v3m2-23v8m2-12v7m0 20v4m2-13v4m6 7v6m6 1v2m2-15v4m2 1v10m2-6v2m8-2v3m2-9v2m6 3v3m2-5v4m4-8v7m6-21v3m0 7v2m0 2v9m2-8v2m0 0v6m2 4v3m2-7v2m2-48v12m0 0v13m0 16v5m2-52v12m0 0v7m0 8v2m0 12v5m0 3v6m2-5v7m2-2v4m4-14v4m2-15v17m0 3v5m0 0v2m2-15v8m4-53v3m0 1v16m2 34v2m4-1v3m2-6v2m2-2v4m2-21v4m2-10v8m0 17v2m4-25v7m0 4v8m0 8v1m2-9v4m2 1v2m2-7v3m6 4v3m2-7v2m2-19v7m2-8v2m2-9v10m2-3v4m0 0v2m0 6v4m2-5v7m0 0v2m2-1v5m2-10v4m4 0v2m2-3v6m8-11v2m4-5v4m0 3v4m4-23v15m2-1v3m4-16v2m0 0v12m2-12v6m0 0v3m2-10v7m0 6v4m4-25v4m2-2v14m4-30v4m0 1v3m6-24v6m0 4v7m0 2v4m0 12v5m2-70v3m0 49v2m0 6v3m0 1v6m2-42v3m2-45v9m2 14v4m0 2v3m2-109v39m0 19v3m0 12v3m0 4v9m0 10v4m0 3v7m0 25v4m0 12v9m2-71v6m0 3v4m2 17v1m2-54v7m0 4v9m0 8v9m0 6v4m4-6v7m0 8v3m0 4v3m0 23v6m2-154v30m0 0v92m0 6v6m0 11v5m0 0v5m2-404v27m0 18v32m0 17v64m0 100v16m0 4v17m0 0v62m2-270v16m0 0v12m0 35v25m0 28v47m2 69v6m0 29v4m0 9v3m0 3v2m0 22v2m0 2v5m2-42v3m0 16v5m0 3v1m6-57v3m0 19v8m0 26v4m0 4v2m2-65v4m0 18v11m0 2v12m0 2v3m2-34v4m0 1v6m0 24v2m2-35v4m0 11v3m0 10v3m0 4v8m2-47v4m0 0v3m0 6v2m2-6v2m0 16v5m0 5v3m2-7v4m2-32v3m0 15v13m2-50v3m0 12v3m0 5v3m0 25v2m0 8v9m2-55v8m0 14v8m0 14v4m2-26v13m0 0v5m0 9v4m2-88v7m0 4v10m0 14v2m0 5v3m0 9v6m0 15v3m2-158v5m0 0v18m0 24v14m0 23v8m0 11v4m2-38v2m0 0v17m0 11v2m0 36v6m2-18v3m0 28v2m2-32v4m0 8v3m0 6v5m0 0v9m2-60v4m0 42v3m2-29v3m0 25v4m2-31v3m0 3v11m2-13v4m0 10v5m0 9v3m2-91v18m0 18v13m0 3v4m2-41v7m0 9v3m0 4v9m0 6v5m2-48v29m0 8v4m0 5v8m2 28v10m2-42v3m0 4v3m0 12v4m0 2v9m0 12v6m2-38v9m0 5v2m0 8v4m2-25v7m0 7v5m2-24v3m0 8v5m2-61v4m0 3v3m0 12v5m0 2v5m0 12v3m0 24v3m2-81v16m0 2v3m0 19v4m0 5v4m0 6v5m0 7v1m2-43v2m0 21v4m2-18v6m0 5v7m0 8v5m2-25v4m0 12v11m2-18v6m0 13v8m2-3v4m2-44v4m0 22v3m2-22v8m0 5v3m2-16v6m0 6v14m2-5v2m0 10v5m2-33v3m0 14v3m2-58v42m0 22v3m2-43v8m0 6v28m2-11v7m0 9v4m2-19v5m0 8v2m6-3v8m2-20v9m0 12v2m2-32v7m0 15v5m2-10v8m4-8v3m0 0v5m2-27v4m0 2v2m0 18v6m2-59v11m0 28v17m2-14v5m0 3v10m2-4v2m4-20v3m2-2v5m0 5v6m2-21v12m0 0v7m0 0v6m4-74v6m0 30v4m0 10v3m0 2v5m2-16v4m0 18v3m2-52v33m0 2v5m2 2v5m4-22v3m2 10v3m2 5v8m2-11v3m0 7v3m0 0v5m2-16v4m4-1v5m0 7v1m2-25v3m0 21v1m4-14v4m2-4v3m4-1v9m4-17v6m0 2v4m2-27v4m2-6v4m0 18v2m0 0v4m4-2v6m2-5v3m2-17v6m2 6v8m2-2v2m2-2v6m4-10v10m2-4v2m4-5v3m4-5v6m8-2v1m2-13v7m0 2v4m2-7v3m0 0v5m0 0v2m6-26v14m4-27v2m0 0v8m0 21v3m2 4v3m0 0v2m2-9v8m2-9v3m10 3v2m4-18v6m6 11v3m2-9v3m2-2v4m4 1v1m2-4v3m0 0v1m2-12v9m0 0v1m4-2v2m2-27v4m0 15v2m0 5v4m8-22v3m12 5v4m6 2v4m4 1v2m8-13v6m2 0v1m2-5v4m4-22v10m4 14v3m2-15v4m0 0v5m2-24v2m0 26v4m2-25v2m0 13v3m2-38v7m0 21v6m2-33v3m0 2v6m6 1v3m0 4v2m4-4v3m2-36v14m0 18v8m0 4v4m4-19v4m2 17v1m2-24v4m2-54v6m0 0v4m0 50v3m0 4v6m2-63v6m0 33v3m0 9v4m2-50v7m0 16v5m0 16v4m0 8v3m0 2v6m6-78v11m2-52v9m0 3v22m0 0v9m0 23v3m0 26v5m2-15v9m0 8v3m2-6v4m2-23v10m0 7v3m0 14v4m2-52v3m0 0v2m0 13v3m0 5v4m2-46v2m0 9v19m0 3v11m2-45v15m2 43v7m2-34v4m0 23v3m0 1v2m6-46v7m0 10v4m2-17v3m0 22v2m2-21v4m0 16v2m0 3v4m2-38v3m0 3v4m2 6v4m0 16v2m2-67v3m0 30v16m2-32v2m0 5v4m0 14v3m2-29v3m0 6v6m2-26v11m0 30v4m0 5v3m0 3v6m2-58v2m0 4v3m0 2v6m2-28v4m0 5v3m0 12v2m0 14v3m2-21v6m2-30v3m0 10v9m0 51v2m2-80v4m0 34v7m0 22v3m2-25v7m0 6v3m2-52v2m0 14v3m0 22v6m2-34v2m0 9v4m0 13v8m0 15v2m2-63v8m0 0v2m0 33v4m0 9v3"/>
<path stroke="#FDC591" d="M21 341v3m4 32v2m8 4v3m0 9v2m2-5v2m8 22v3m10-2v2m0 5v3m8-1v2m10 14v6m10-22v2m4 19v3m2-65v12m30 23v2m8-12v11m0 3v2m2 6v2m12 3v2m22 7v5m6-19v2m0 14v4m4-31v4m12 27v2m10-41v3m30 29v3m4 6v1m26-1v3m10-19v2m16-7v6m20-87v2m0 37v2m6-8v2m10 26v4m0 17v2m6-29v2m2 5v3m6 9v2m10-40v4m16 0v2m2-82v11m16 118v4m8-27v2m8 23v3m6-37v2m18 37v5m24-32v4m8 23v4m18-19v5m2 15v3m14-6v2m8-14v2m8-18v3m0 5v2m4 19v4m18-1v3m8-31v3m8 19v2m58-5v5m2 5v3m6-14v5m2 6v4m12-11v6m16-11v2m10-35v7m4 24v4m18-15v4m0 10v3m18-27v3m10-5v2m6-5v2m0 26v4m8-33v2m2-17v2m16-44v2m0 34v2m4 43v6m2-50v3m2 32v7"/>
<path stroke="#F0A078" d="M3 375v2m0 53v3m2-57v2m0 53v3m4-7v7m6-72v2m4 79v6m2-90v2m12 24v3m2 5v2m6 50v7m8-122v2m10 82v3m8-26v10m6 13v3m10 13v2m6 2v2m2 7v2m20-7v3m8-24v2m8 16v3m6 1v2m24 2v3m16-25v3m0 21v2m4-10v1m18 6v3m0 0v5m10-30v3m0 8v3m8 16v2m4-11v4m0 5v2m6-3v3m24-17v2m4 7v2m4 1v4m22-40v4m2-11v2m26-10v2m24 38v7m4-25v3m2-13v2m6-27v3m0 29v2m4-33v4m2 27v4m2-18v2m0 13v5m4-2v2m6-37v2m10 3v2m4 32v2m34 1v4m2 5v2m14-5v3m0 3v6m4-8v3m14-24v1m0 4v4m6-4v2m2 5v3m0 14v2m4-25v2m4-5v4m38 23v2m6-1v3m6-11v2m2 7v5m16-16v2m30 10v7m10-12v6m12-8v2m8 8v3m10-3v4m10-5v2m10-9v2m2-3v2m2-12v2m4 4v2m16-12v5m2 14v3m14-21v3m8 12v5m4-7v10m8-38v4m12-13v2m16 36v2m4-62v5m8-46v32"/>
<path stroke="#E27A5E" d="M3 371v2m14 27v2m4 20v2m32-6v5m4-5v2m2 24v2m4-52v7m2-32v19m0 24v4m4 0v6m0 14v8m8 5v2m14-16v2m4-17v3m4 21v2m20-2v2m10-3v6m22-8v2m2 5v4m16-20v3m14-4v3m6 5v6m14-15v2m4-6v3m2-40v10m12 55v2m10-9v4m16-19v3m12 13v4m18-44v2m30-23v4m2-4v3m14 5v2m14-9v2m6-3v3m10 21v2m6-41v14m20-9v3m0 21v2m0 1v3m20 32v3m54-32v7m20 23v1m16 3v3m4 2v3m32-7v2m8 4v2m2-26v2m4 23v2m14 0v3m4-31v2m18 9v2m8 7v2m44 0v5m14-19v2m10-51v2m4 65v2m6-8v2m2 4v2m6-22v2m26 16v2m32-100v22m2 17v1"/>
<path stroke="#D24F42" d="M9 414v2m6-36v3m18 16v2m6 39v6m4-25v2m26-1v2m18-14v2m6 33v2m12-19v3m2 8v2m4-6v3m24 8v7m8-6v7m4-40v11m10 24v2m2-5v2m16-29v3m2 1v3m14 24v4m12-3v3m4-30v2m0 28v2m20-24v2m4-5v2m2 11v3m0 5v5m18-17v2m6-7v3m16 10v8m2-33v2m26-50v5m4 33v1m6 34v2m10-2v2m2-24v4m6 8v2m8-32v2m8-73v2m10 102v7m14-29v3m4 7v3m2-42v8m4 13v2m8-5v2m0 34v3m8-35v2m12 14v2m32-51v10m4-2v10m0 45v4m4-54v5m4 51v2m6-6v4m20 1v7m2-17v2m0 7v3m40-37v13m8 3v7m6-13v3m10 20v4m12-18v3m8 15v2m8-9v2m12 4v2m36-27v6m12-11v4m2-17v5m0 33v2m2-1v4m18 3v2m2-34v3m0 0v3m2-22v2m8 43v5m8-216v51m0 133v2m12-77v32m20 7v3m18-29v2"/>
<path stroke="#C5282B" d="M1 394v3m0 6v1m2-25v4m2-9v2m0 21v4m0 3v4m6-39v6m0 27v2m0 18v5m2 20v2m2-89v2m4 57v4m4-74v2m0 26v2m8 22v3m4-15v2m2 45v2m0 9v2m0 3v2m2-29v2m10-28v2m2 23v3m12-16v3m30 22v2m2 3v2m0 0v2m4-8v3m4-33v3m10 11v2m12-3v3m60 14v4m8-10v3m8 5v3m2-60v23m6 16v2m0 20v2m0 6v4m18-39v2m0 36v3m10-16v4m8-5v2m2-7v2m2 11v3m2-16v3m12 11v2m14-41v2m6-4v2m22-50v2m0 68v2m2-52v3m2-31v2m2 75v3m8-20v5m8-32v2m2 29v3m10-19v2m4 27v8m14-46v3m2 37v1m4-46v2m2-14v2m22 69v3m4-42v3m8 7v2m8 2v3m0 24v3m4-14v3m2-1v3m4-29v2m0 21v5m12 3v7m20-18v2m4 13v2m20-12v3m4-3v2m4 0v3m4 6v6m40-38v3m2 16v2m4 11v4m2-37v6m0 0v1m8 14v6m4-3v3m0 9v5m4-13v3m10 3v3m14 1v4m2-18v3m0 9v4m4-7v3m6-6v5m2-40v5m2 31v3m4-8v2m2-2v2m16 1v4m0 3v3m2-14v4m8-8v2m0 9v4m4-24v3m4 24v3m6-34v7m6-17v8m0 15v2m0 9v2m2-5v3m8-90v9m2 30v15m2 14v2m2-18v2m4-30v2m6-17v15m2 41v2m4-13v2m10-3v2m14-14v7m6 35v4m2-13v7m2-25v2m0 16v2m2-46v3m2 9v3m10-71v2m4 74v3"/>
<path stroke="#CC4145" d="M3 377v2m0 24v4m6-29v2m0 42v3m4 15v2m8-135v5m6 112v2m6-109v6m0 111v6m14-86v3m2 58v2m6 18v2m2-17v2m16-24v5m16 0v2m4 35v2m16-5v5m6-21v3m0 21v4m2-35v3m10 23v3m4-8v2m30-1v6m14-74v36m12 27v3m0 13v6m14-5v3m2-1v1m4-22v3m0 11v2m6 1v3m18-43v3m10 40v3m12-3v2m4-7v3m20-35v1m28-37v4m0 62v2m14-47v2m2-14v2m8 3v3m12-24v3m0 53v2m6 4v2m8-131v15m10-16v16m6 125v9m6-41v2m6-23v2m0 42v4m34-18v2m14-7v5m6 24v3m24 2v2m4-20v2m8 12v2m10-2v3m4-26v7m10 17v5m4-25v2m18 5v4m22-2v2m2-18v14m2 1v3m10-27v11m62 11v2m0 2v3m8 9v4m22-10v4m14-12v2m2-6v3m2-30v3m14 38v7m4-61v2m0 4v3m8 6v6m10-25v2m10 4v3m4-15v4m8 18v2m6 8v2"/>
<path stroke="#DC7677" d="M13 442v2m4-28v2m8 11v5m20-28v2m0 31v7m6-85v22m20 32v6m4 21v2m8-34v8m24 8v3m8-40v3m2-1v19m16 37v3m8 1v2m14-4v2m10-33v4m6 25v2m2-73v15m0 61v3m4-9v3m28-62v10m8 47v2m26 3v7m6-5v3m20-9v8m6-20v2m6-38v3m6 24v3m6-45v3m12 4v5m2-7v2m2 14v2m6-44v2m4 32v2m6 36v2m22-60v5m10-27v7m0 24v3m2-18v2m8-29v4m0 85v2m12 3v2m6-3v2m22-47v2m8 42v2m4-10v2m22 3v3m18-4v3m10-5v2m14 2v2m4 0v2m8-1v2m14-2v2m16 10v3m48-5v2m8-1v1m2-8v2m44 12v5m6-8v4m24-43v2m0 9v2m6-40v2m20 25v5m8 18v6m8-21v2m16 11v3m4-8v3m10-15v4"/>
<path stroke="#EBACAD" d="M1 351v12m0 45v3m8-2v2m10-16v4m0 39v2m8-18v2m2 10v4m2-3v2m10-23v2m48 6v2m4-19v5m4 37v6m18-37v2m2 24v1m0 0v6m10-4v3m2-18v4m2 11v2m24-1v3m4-12v2m8-26v15m12 22v3m6-41v5m2 17v2m2 9v2m2 0v3m8 1v4m8-69v31m0 31v2m8 1v2m22-4v7m6-6v2m4-27v2m12 25v4m2-32v4m18 3v1m6-38v4m2 1v2m2-5v3m2 0v4m8-10v2m2-13v2m2-42v2m2 68v2m4-56v2m2-33v5m0 35v3m2 13v2m2 46v2m4-53v4m0 8v2m6 25v2m4 13v2m6-30v4m2-29v3m0 47v5m6-30v3m2-41v4m18-16v3m4 55v2m12 19v3m10-30v4m0 3v2m4-7v3m32 12v7m4-5v3m2-6v3m0 20v2m10-9v2m4-28v3m4 17v2m18 6v2m16-8v6m36-12v2m4 1v5m10-13v1m28 18v2m0 0v4m2 1v6m10-29v2m6-4v2m6-2v2m18 16v3m22-30v6m2 3v3m6 17v4m6-15v2m8-2v3m2 10v7m10-54v2m14 25v2m2-5v2m26-3v2m6-45v2m0 17v2m14-27v3m2 51v7"/>
<path stroke="#F8E0E0" d="M9 420v2m2-71v13m0 0v3m4 32v2m4-27v3m0 22v3m4-34v2m0 54v2m6 12v7m2-41v2m0 2v2m0 8v4m2-56v2m0 36v3m4 25v4m6-74v26m2-120v83m0 57v3m0 13v3m6-33v2m6 39v2m4-25v6m0 5v2m2 3v3m6-7v3m4-18v3m16-14v2m2 25v2m2-31v6m14 27v2m4-7v4m2-14v7m2-39v7m10 46v2m0 13v3m18-13v4m4-19v2m0 5v3m6 0v2m0 2v2m2-1v2m4-3v3m0 7v2m6-10v2m6-38v6m2-15v4m8 51v2m2-19v3m8-7v3m0 8v3m2-36v2m0 43v2m2-21v7m24 8v2m4 3v3m2-14v2m16 2v2m6-10v4m0 8v3m2-41v1m0 13v2m0 17v2m2-15v2m12-3v2m8-12v4m4 2v2m22-106v2m0 67v4m2-63v2m4 25v2m0 4v4m2 4v1m4 10v1m2-17v3m2 8v2m2 41v2m4-42v3m10-13v2m0 7v2m0 8v3m6-11v5m2 21v3m2-90v24m0 45v2m0 10v2m0 33v9m2-48v2m2-19v3m0 41v1m10-20v2m10 17v3m2-30v3m2-68v31m0 20v5m0 10v3m0 11v4m0 21v1m8-16v1m4-121v34m0 58v3m0 6v2m0 25v1m4-44v3m8 3v5m0 0v4m2-22v19m6 4v2m0 2v2m12 11v4m2 2v2m26-16v2m0 16v2m2 6v2m0 1v3m4-36v2m2 0v3m2-25v2m10 38v7m42-9v2m6 15v6m28-31v5m4 8v5m8 10v2m4-8v3m8-7v3m4 0v2m20-5v6m16-15v4m4 12v2m12-8v4m2-12v2m4-2v3m2-3v2m12 0v2m18-24v3m2 34v2m2-60v9m0 0v2m4 3v2m0 2v4m6 21v2m2-13v3m4-10v4m6 12v3m2-4v2m0 6v1m12-31v6m6 9v3m6-28v3m0 20v4m4-23v4m8 24v2m0 3v9m4-49v2m0 30v1m2-31v2m2-58v3m0 59v2m2-28v2m0 23v2m0 24v6m2-41v1m0 21v2"/>
<path stroke="#DDF1EA" d="M1 392v2m0 17v2m2-40v2m0 32v2m0 14v3m2-8v3m2 9v6m2-56v2m0 36v2m4-41v2m2-14v2m0 60v2m2-38v4m2-17v3m2 0v2m2 4v3m2-26v10m2 29v2m0 31v3m6-61v2m2-57v2m2 124v1m6-39v2m2 7v2m0 7v3m2 1v2m2-46v3m2 38v5m2-64v4m2 48v4m4-20v2m0 26v2m4-8v2m2-30v2m2-4v2m10 15v3m6-3v5m6-8v2m2-32v5m2 44v2m4-8v2m2-5v7m2 3v2m2 0v2m6-13v3m6-11v3m2 14v2m0 2v3m2-31v2m0 2v2m0 29v4m8-32v9m4 20v2m14-42v3m8 31v2m18-16v2m2-36v3m2 38v6m4-2v3m4 7v2m8-41v2m14 14v4m0 10v2m4-18v3m10 18v3m8-29v4m2-1v4m4 20v4m10-3v1m2-10v3m2 3v3m14-13v2m2-8v2m8 17v2m2-7v3m2-25v2m0 11v2m0 6v2m10-35v2m8-77v2m0 53v2m2-46v2m2-19v5m2 5v2m6 55v2m0 12v4m4-27v2m2 25v3m0 6v3m0 16v5m4-62v6m0 38v5m4-37v3m0 13v2m0 12v3m2-51v3m0 12v3m2 22v2m2-4v2m2-25v2m0 29v5m2-20v2m0 5v2m8-13v3m0 22v2m2-80v4m0 48v3m2-56v2m2 29v2m0 0v2m0 10v2m2-86v2m0 6v2m0 94v3m2 12v2m6-68v6m2 34v2m2-6v2m6-93v2m0 129v2m2-62v2m2 24v4m4-10v4m0 22v2m0 4v3m4-11v3m2 6v2m2-54v3m0 11v2m0 25v3m4-60v8m0 10v2m4 44v2m2-5v2m2 14v2m2-40v2m0 8v2m2-23v2m0 21v2m2-16v3m2 19v3m4-18v5m0 19v3m0 0v5m4 5v2m4-19v2m6 14v3m6-22v4m6-11v3m0 15v3m8 3v1m4-39v7m0 33v1m4-28v3m2 24v2m4-29v3m10 26v2m2-11v2m0 4v2m10-12v2m4 11v1m4 2v2m4-41v1m6 31v2m2-22v3m0 9v3m4 3v3m2-18v3m0 9v6m2 9v4m2-23v2m6 8v2m12-6v5m10-14v3m8 12v2m2 7v2m6-4v2m4-2v3m4-12v2m0 0v3m2-7v7m10 2v3m2-13v2m2 2v3m2-7v3m4 2v1m2-5v2m2 8v3m4-11v2m2 3v5m16-11v2m14-1v1m6-9v3m2-15v4m0 5v2m12-13v2m2 22v5m2-24v2m14 18v4m4-40v2m0 7v3m4-18v3m0 10v4m2-47v2m0 32v3m8-123v3m0 108v5m8 6v5m0 6v3m4-14v3m12 6v3m2-5v2m2-32v2m0 2v2m0 20v2m0 11v3m0 7v2m2-37v4m0 15v2m2-14v2m0 6v4m2-30v2m8 4v2m0 6v4m0 14v2m2-24v4m0 0v2m4-73v4m0 5v2m0 22v3m2 46v3m2-68v2m0 58v2m4-12v2"/>
<path stroke="#C2E8DB" d="M1 363v2m0 18v3m2-29v2m0 3v3m2 29v1m0 6v3m0 9v3m4 0v2m4-48v3m2-9v3m0 60v2m2 12v4m2-109v34m0 7v3m2-55v3m0 29v2m0 80v2m2-152v60m0 25v3m0 7v2m0 36v2m2-46v3m0 24v2m0 10v4m6-15v2m0 14v2m0 8v3m6-25v2m4 16v2m4-79v3m2 36v3m0 24v2m2-95v3m0 92v2m2-18v3m0 32v3m2-4v4m2-36v7m0 7v2m0 8v3m2-26v5m6-2v2m6 21v2m2 5v2m8-27v6m4 8v2m4-18v3m0 23v2m2-40v3m0 7v2m0 28v4m4-20v2m2 11v2m0 0v2m2-3v2m0 5v2m4-8v5m4-11v2m8 6v2m4-13v5m2-16v3m8 16v2m0 10v2m4-2v4m14-29v5m4 2v3m8 3v2m8 10v3m16-5v3m2-14v2m10-10v2m16-5v3m2 19v6m18-43v4m0 16v2m0 3v2m2 0v3m10-1v7m12-9v3m8-10v2m4-7v3m2-6v6m6-7v2m2 23v2m4-41v3m0 0v4m8-14v1m2-3v1m4-5v4m0 0v2m4-121v22m0 10v2m0 5v2m6 61v3m6-13v4m2-25v2m0 41v3m2-18v2m6 8v3m2-3v2m4-19v8m0 41v2m4-38v5m0 37v2m0 3v2m2-28v2m4 16v5m4-31v2m2-28v2m0 3v3m0 10v3m0 10v3m0 9v2m4-80v3m0 77v3m10-45v2m0 19v2m0 2v3m0 8v2m0 11v2m2-12v2m6-28v2m0 23v3m0 4v3m2-27v2m2 14v2m2-14v2m0 30v2m2-26v3m0 3v3m0 21v2m4-36v2m2-19v2m0 37v2m2-81v3m0 24v3m2 56v2m12-5v3m0 13v1m4-48v2m0 8v2m2-2v2m0 17v3m2-20v4m8 14v3m2-12v4m6-15v3m0 2v2m0 24v2m10-6v2m2-17v2m4 19v2m6-32v4m2-5v2m0 20v2m2 0v2m2-5v2m0 3v2m8-22v3m0 15v3m4-10v3m4 1v4m4-2v2m2-17v6m18 21v2m2-20v4m2 5v5m6 8v2m8-11v2m2-6v5m2-4v2m4-3v7m2-6v7m0 0v3m2-11v2m2 5v2m2-21v3m4 13v2m0 5v3m2-17v2m6 5v3m6-1v3m0 4v3m2-13v2m10 4v2m2-1v2m12-2v2m4-7v2m4 3v3m0 3v2m2-30v3m0 10v2m6-4v3m8-7v2m0 3v2m2 4v3m0 3v2m0 3v1m10-2v2m0 0v3m8-12v3m4-10v2m4 7v3m2-5v5m2-19v2m4 4v2m2-10v2m4-1v4m0 12v3m4-11v4m6-27v2m4 6v7m8-30v2m2 42v4m4-44v4m4 41v3m2-54v2m0 6v2m2-43v2m2 32v3m0 9v2m0 3v2m2-6v3m2 19v3m2-34v2m0 9v2m2 19v5m4 0v2m4-31v3m2-37v2m0 43v2m0 4v5m8-6v4m2 14v2m4-61v7m2 50v2m2-55v4m0 31v4m0 7v3m2-57v2m2 26v2m2 14v2m2-32v2m0 7v2m0 2v2m4-29v2m0 41v1m8-35v4m2-55v2m4 62v2"/>
<path stroke="#A9DFCF" d="M3 365v2m0 35v1m0 14v3m2-25v2m0 19v2m2-47v3m0 0v2m0 13v2m4-24v2m2-13v2m2 14v2m0 70v11m2-32v2m2 15v2m2-167v28m0 2v2m0 54v3m0 53v5m2-25v2m2 12v2m2 28v3m0 6v4m2-56v3m2 9v3m0 15v2m2-75v4m4 60v3m4-20v7m0 26v2m2-3v3m4-49v2m2 27v2m0 17v2m10-9v3m2 1v3m2 1v2m4-4v1m6 12v2m8-31v4m2 9v4m0 0v5m2-42v3m0 13v2m4-32v11m0 28v2m2-6v5m4 5v2m2 8v3m4-47v3m0 31v2m0 12v2m4-20v2m2-4v2m6 2v2m0 10v1m8-12v6m10-4v4m0 2v6m14-70v34m2 42v6m6-18v2m2-4v5m0 2v4m10-24v2m6 25v7m6-22v3m0 1v3m0 8v2m10-8v4m6-24v2m2 16v3m4-7v2m6 6v1m8 3v3m2-8v2m4 1v2m4-2v2m6-65v18m0 45v2m8-4v2m2-4v3m12-4v2m2 2v3m4-18v2m2 13v2m2-1v4m6-4v5m8-26v2m4-24v2m4 14v2m0 12v5m8-107v2m4-3v2m0 12v5m4 11v2m0 24v3m2-20v3m4-130v80m0 28v3m2 10v3m0 11v2m2-201v7m0 178v2m0 4v2m10 15v2m2 13v2m2-48v4m0 44v2m2 25v2m0 5v3m4-65v4m0 39v4m2-25v2m2-17v3m4 4v2m4 17v3m4-112v10m0 42v2m8 74v3m2-60v4m0 4v4m0 10v3m2-51v4m0 47v3m6-89v2m0 47v3m0 28v3m0 9v2m2-28v3m0 25v3m0 18v2m2-27v2m2 18v2m4-22v4m4 20v2m2-23v1m2 1v6m6-3v2m4 33v2m2-24v2m6-21v5m2 2v2m2 17v2m10-8v4m4-23v4m14 4v3m2 16v4m8-5v4m12 13v1m8-11v2m4-6v2m6-1v2m2 0v2m2 5v2m0 2v2m2-9v2m8-17v3m2 5v3m0 4v4m2-9v3m6-6v6m4-3v3m4 9v3m8-1v2m4-17v2m0 16v5m10-20v2m2 3v2m2-3v2m4 7v2m2-16v2m2-14v2m6 24v2m0 1v4m2-20v3m0 3v3m2 2v3m26-20v2m6 19v5m6-20v2m2-15v2m4 28v4m4-18v2m12 2v3m0 6v3m10-17v3m2 3v1m4 7v1m2-19v2m6-11v2m6-17v9m0 29v3m4 1v2m10-72v3m4 57v4m4-34v2m2-31v3m0 28v3m2 9v3m2 17v2m2-34v3m2-24v3m0 8v2m0 31v3m2-26v5m0 2v2m2-10v2m0 8v5m0 2v3m6-17v3m4-11v2m2-30v3m4 27v7m6-17v2m4 38v1m2-12v2m6-36v5m0 15v6m2 9v3m2-47v5m4 17v3m0 8v3m0 2v2m6-97v2m0 32v3m0 15v4m2-17v3m0 19v2m2-1v2m0 40v4m2-22v5"/>
<path stroke="#91D4C7" d="M3 426v2m2-43v5m4-46v14m0 38v2m2 10v3m2-125v52m0 52v4m0 50v3m0 2v3m6-29v4m2-42v3m2 38v3m0 6v4m2-58v3m8 4v2m0 17v3m2-12v6m2-8v6m0 47v2m6-63v2m0 28v3m0 12v1m2-49v2m10 27v3m0 15v3m14-8v5m2-2v3m2-16v3m0 5v3m2-19v2m0 5v2m0 32v2m4-32v4m8-26v3m2 28v3m2-60v13m10 17v5m2-7v5m0 0v2m4 34v3m4-1v2m6-8v2m2-10v2m6 12v2m8-4v2m8-11v6m2 0v2m2-10v2m14 3v2m10 12v4m4-29v2m8 13v6m2 5v1m10-41v2m12 34v6m4-12v3m2-2v5m18-44v3m2-3v4m20 34v2m0 6v3m8-20v5m20-21v3m4 4v2m4-87v16m0 49v5m2-30v2m2-45v4m2 28v3m2-72v2m0 29v3m0 62v6m4-83v15m2 21v15m2-37v12m0 21v4m2 6v2m0 20v3m0 2v3m0 37v2m2-121v7m0 39v2m2 12v3m4 2v3m2 3v3m0 27v2m4 3v2m2 12v4m10-25v2m4-10v2m0 6v4m6-96v2m0 0v2m0 91v2m6-44v2m6 22v4m0 4v3m0 16v6m2-105v2m0 32v2m0 29v2m2-48v4m0 71v4m2-15v3m4 14v3m2-79v4m0 32v3m0 16v3m0 8v2m4-29v4m0 38v5m4-35v3m4-22v3m0 42v2m0 6v2m2-99v2m14 68v2m0 30v3m4-53v2m0 12v2m2 13v2m2-9v2m2-18v3m0 16v2m6 2v3m16 10v3m4-46v4m0 15v3m2 1v2m2 13v2m12-52v3m2 43v2m2-31v3m4 21v2m0 3v2m6 7v2m6 1v2m0 5v2m4-19v6m6 6v1m6-3v2m2-12v2m12 3v4m0 3v3m10-5v2m0 2v2m0 1v2m4-14v3m14-2v3m0 5v2m18 0v3m14-24v2m10 22v2m0 2v3m2-19v3m6-6v2m2-10v5m12 1v3m10 2v7m2-18v3m0 10v2m2-5v2m0 0v2m14 5v1m4-19v3m0 13v5m10-10v2m2-20v3m0 5v2m2 0v2m0 11v1m8-25v2m0 9v2m6-7v2m6 20v2m6-8v2m4-84v22m2 39v4m4-15v2m12 11v2m0 17v3m2-26v1m2 13v1m4 5v3m2-8v4m2-7v2m4-5v3m4-60v6m4 49v2m10-31v1m6-5v3m0 2v2m0 9v4m2 13v2m2-97v9"/>
<path stroke="#6EC5C5" d="M1 399v4m0 33v2m2-10v2m4-12v3m2 4v2m2-50v5m0 11v2m0 24v3m2-28v4m0 35v7m2 3v1m2-26v3m2-38v8m2-63v9m0 7v10m2 40v3m0 2v9m2-24v6m0 17v4m0 4v2m0 9v2m2 1v3m0 15v3m4-13v2m2-116v16m0 5v2m4 56v3m2-3v4m2 3v2m0 33v1m2-22v3m2-24v4m0 21v4m2 15v8m2-86v10m0 5v2m0 16v2m2 34v1m8-12v3m2 12v5m2-13v4m8-12v5m4-17v3m6 7v2m4-8v3m4-15v2m2-17v2m0 10v3m10 41v3m4-18v2m4-4v3m0 4v1m6-13v3m0 9v5m2-29v2m2 11v4m6 0v3m0 8v3m10-16v6m10-1v1m2-6v5m0 7v3m16 5v1m2-5v7m2-22v3m0 2v2m2 5v9m2-20v12m2-41v2m6 41v4m4-4v5m10-23v4m6 10v3m4-6v3m4-22v3m2-1v2m0 27v2m12-3v2m2 0v2m8-42v4m2 36v1m6-4v2m10-38v3m2 31v2m6 5v2m4-45v2m2 19v3m2 0v5m6 4v4m2-27v4m0 8v7m2-7v2m14-32v5m4-71v13m0 9v3m2-66v4m0 36v10m0 48v2m2-79v5m0 53v4m2-38v3m4 3v8m8 71v6m4-21v4m0 4v6m6-41v4m0 2v2m0 9v4m2-29v5m0 19v7m0 14v4m4-29v2m2-15v3m0 40v2m2-29v2m2 16v6m4-28v4m0 25v4m2-30v3m0 9v4m0 11v13m0 3v2m4-31v2m0 11v3m4-40v7m2 25v1m4-58v3m0 53v3m2-62v7m2-21v2m0 56v10m0 5v2m2-19v10m6-92v17m0 27v13m0 36v2m4-5v4m2-5v2m2 22v6m2-27v2m2-34v10m0 34v3m0 12v2m2-14v4m4-56v10m0 2v5m4 50v3m4-27v3m2-1v4m0 12v3m0 3v3m2-48v2m2 17v4m0 9v4m0 5v1m2-5v5m2-58v3m2 5v4m4 42v5m2 3v2m4-1v6m4-40v2m14 12v3m6-23v10m2 32v3m4-14v3m6-10v4m8 5v5m6 12v3m4-7v4m4-8v5m4-11v5m2-1v5m2-7v3m2-6v3m4-43v5m2 34v2m6 2v5m2-20v3m8 23v6m12-17v4m4 0v4m4-4v3m2-4v3m8-4v6m2-18v3m0 10v5m0 0v6m2-17v7m8 2v6m4-3v7m4-3v2m10-13v2m10-11v4m8-11v4m2 21v5m2-23v4m0 4v3m0 7v2m2-10v6m4 1v4m2-10v7m10-1v6m2-11v7m4 0v3m12-16v9m10-14v3m2 0v3m4-20v2m2-3v3m0 16v7m2-16v4m8-15v4m2-55v16m2 61v2m6-42v3m4 15v5m2-15v3m0 28v2m4-10v3m2-14v5m8-6v4m6-13v10m0 2v4m2-17v5m2 2v9m12 10v3m2-43v3m4-9v3m2 6v3m2-34v2m0 30v4m0 2v2m0 2v7m4-43v3m2 36v3m4-33v7m2 4v3m2-11v3m0 39v3"/>
<path stroke="#4BB3CA" d="M1 372v3m0 22v2m2-40v3m0 28v12m0 18v3m2-45v7m2 25v8m0 7v5m2-32v8m2-24v3m0 10v7m2-44v7m0 20v5m0 8v7m0 9v5m2-33v4m0 5v4m2 26v3m0 0v11m0 0v2m2-39v2m0 6v2m2-58v3m0 36v20m2-27v3m0 43v3m2-22v2m0 6v2m0 5v1m2 15v3m2-46v16m0 7v3m2-3v4m0 11v4m2-104v5m0 18v4m0 63v5m2-125v16m0 48v4m0 18v3m2 27v3m0 16v3m2-35v2m0 18v3m2-24v3m0 23v4m2-51v7m0 3v2m0 3v8m0 13v2m2-74v17m0 63v5m2-73v12m0 48v5m2-104v3m0 48v5m0 58v7m2-63v9m0 20v6m2-43v3m0 48v5m6-16v9m2 1v6m2-32v3m0 10v14m4-16v7m4 14v6m2-36v6m0 29v10m2-43v4m0 20v6m0 2v5m4-18v3m2 0v14m4-39v5m0 24v9m2-44v2m4 7v5m0 17v4m0 6v6m2-41v3m2 18v7m2-7v5m0 15v2m2-13v5m2-38v3m0 12v6m2-7v11m0 15v1m0 0v4m2-3v2m2-12v8m6-16v5m2 4v4m0 5v4m2-35v2m0 5v2m0 2v5m2-13v2m2 24v6m8-11v9m2-14v2m2 1v7m12-29v9m6 16v3m8 4v4m2-4v3m2-5v7m2-23v4m0 0v4m0 0v9m2-6v11m2-11v5m4-14v7m2-29v5m0 23v2m2 10v2m8-29v3m0 11v4m0 0v2m2 1v5m4-32v8m0 5v3m0 17v3m2-32v8m0 11v9m6 2v5m2-8v6m2-43v25m2-13v5m0 7v4m0 8v4m2-25v4m14 20v3m0 5v2m6-13v5m2-31v6m0 12v3m0 2v9m2-34v5m0 5v2m0 6v7m0 13v3m14-12v9m4-22v3m0 0v4m4 15v2m2-17v2m2-2v5m2-1v6m2-34v9m2 13v3m0 9v3m2-8v4m6-19v4m0 5v4m2-15v6m4-38v5m0 3v4m2 14v13m0 7v6m0 0v4m4-21v7m4-45v6m2-16v3m2-44v10m0 40v5m0 3v3m2-40v7m0 23v6m2-40v18m2-71v6m0 13v3m0 37v2m0 20v10m2-62v3m2 44v4m0 5v2m2-13v4m0 9v4m2-58v9m0 74v3m2-68v11m2-4v4m2-175v20m0 168v7m0 21v6m4-10v4m6 25v3m0 2v6m2-73v5m0 5v14m0 30v2m2-44v24m0 0v10m0 22v2m2-33v5m0 3v4m4-36v6m0 13v6m0 16v5m2-41v6m0 8v5m2-10v4m2-3v7m0 11v3m2-63v8m0 29v2m0 18v11m2-65v2m0 29v2m0 3v8m2-5v3m0 16v4m2-107v6m0 12v5m0 5v5m0 18v3m0 15v5m0 9v10m0 19v1m2-23v5m0 3v7m0 8v4m2-40v5m4-20v2m0 6v2m0 3v10m0 5v3m4-35v11m0 45v1m2-8v5m4-92v10m0 35v5m0 26v2m0 13v5m2-47v3m0 0v9m0 5v3m2-21v5m0 35v15m6-31v4m0 6v5m2 14v3m2-20v5m0 17v4m2-59v5m0 23v2m0 0v3m0 12v6m4-18v9m4-4v7m4 0v8m4-33v5m0 4v3m4-2v3m0 2v5m2-20v6m2 15v4m6 4v5m2 2v5m2-18v4m2-2v8m0 0v7m2-27v3m0 2v6m6 2v3m2 0v7m0 12v2m2-24v3m2-29v12m0 24v4m2-16v6m6-22v3m0 0v4m0 16v8m2-55v23m0 8v16m4-24v4m0 23v3m4-40v9m0 8v5m0 16v5m2-39v13m0 19v9m2-34v3m0 0v3m0 3v9m0 4v13m2-19v3m4 9v3m2-1v3m2-1v3m4-10v6m2 2v3m4-21v3m4 4v4m4 5v4m6-45v4m0 2v3m0 17v19m2-1v3m2-6v2m2-7v2m2-14v9m2 7v3m2-1v2m4-18v3m0 2v16m0 3v1m2-17v6m14-4v4m2-13v2m2 14v3m4-28v4m0 5v2m0 10v2m2-5v4m4-8v2m0 9v4m2-15v8m2-9v3m0 2v5m4 0v3m2 0v3m2-16v6m4 7v2m0 7v3m6-14v6m0 0v3m2-32v4m0 0v3m0 21v2m2-22v6m0 17v2m10 0v4m2-15v3m4 0v8m2-20v4m6 2v12m4 1v1m2-33v3m6 27v4m2-11v3m0 4v3m4-5v5m10-7v5m0 3v1m0 0v2m2-16v3m2 0v3m12-5v4m2-22v2m0 6v11m0 0v5m2-13v2m2-10v3m6 4v7m2-20v9m4 1v7m0 0v2m6-19v11m0 0v5m2-3v9m0 9v3m2-39v6m0 2v5m0 12v2m2-9v5m2-28v8m0 20v6m2-39v4m0 7v2m0 15v3m0 0v3m2-54v4m0 18v2m0 7v3m0 15v4m2-38v3m0 10v3m2-19v4m0 32v4m0 6v2m2-65v15m0 13v3m2 7v3m0 18v2m0 0v2m2-16v7m2-144v51m0 14v41m0 9v5m0 22v4m0 0v3m2-20v5m4 1v7m2 4v3m2-34v2m0 33v1m0 0v7m2-66v6m2 35v6m2 8v2m2-26v10m0 2v6m4-30v7m0 12v5m2-4v3m0 0v4m0 6v3m2-37v10m0 30v2m2-43v3m0 31v2m2-6v7m2-47v6m0 24v3m2 3v2m2-31v4m0 19v3m2-51v9m4 4v5m0 21v8m2-1v14m4-95v5m0 19v2m0 15v3m0 33v2m2-31v5m2-44v4m0 5v5m0 10v4m0 19v12m2-24v5m0 3v4m2-38v5m0 8v12m0 12v3m0 1v4"/>
<path stroke="#2A9DC6" d="M1 365v7m0 3v8m0 42v3m2-45v5m2 2v4m0 14v3m0 10v10m2-34v4m0 5v4m0 11v4m2-63v3m0 0v9m0 8v4m0 25v3m2-39v2m0 11v5m0 18v8m2-71v8m0 9v5m0 3v6m0 4v2m0 39v9m2-64v3m0 11v3m0 15v20m2-24v3m0 2v5m2-35v2m0 53v7m2-97v4m0 33v3m0 0v6m0 30v4m0 7v13m2-86v4m0 3v10m0 24v2m0 14v2m2-20v15m0 18v3m2-27v3m0 5v4m0 15v3m0 3v3m2-15v4m0 3v5m4-86v2m0 48v3m2-93v3m2 99v2m0 7v2m0 3v3m0 13v6m2-38v6m0 2v11m0 5v2m0 3v5m2-24v12m0 2v5m0 6v3m2-47v3m2-29v14m0 10v7m0 9v11m2-44v4m0 3v3m0 15v8m0 8v7m0 5v4m0 2v9m2-130v2m0 14v36m0 53v8m0 9v3m2-58v2m0 11v2m0 22v4m2-44v27m0 19v2m2-7v4m2-11v4m2-7v3m0 18v2m0 9v1m2-8v5m2-37v5m2-14v5m0 11v1m2-6v6m0 7v5m6-4v5m0 5v5m2-40v10m0 6v2m0 13v3m0 15v6m2-29v2m0 5v16m0 0v4m2-14v4m0 0v4m4-19v5m2-47v18m0 23v5m0 13v6m2-31v14m0 4v5m2-31v3m0 7v5m0 4v3m0 9v2m2-48v4m0 3v3m0 29v4m2-25v11m0 21v3m4-15v8m4-31v3m0 10v6m0 6v3m0 2v2m2-8v6m2-2v3m6 3v2m2-13v5m0 0v2m2-45v24m2 10v4m2 1v4m6-10v4m0 3v3m2-8v4m0 12v2m12-7v2m0 4v4m2-7v6m0 0v4m2-7v3m4-5v7m4-6v6m6-13v2m0 2v3m0 3v3m2-1v1m4-1v2m8-35v5m0 4v3m2-36v2m0 9v10m0 21v9m2-33v10m2 9v3m4 22v2m4-35v11m0 10v10m0 0v3m6-21v2m2 8v10m10-21v4m0 8v6m2-53v2m0 15v3m0 19v3m2 11v4m2-25v7m10 15v2m2-4v3m6-18v7m2-36v6m0 38v3m0 0v5m2-39v5m0 2v4m6 18v2m6-9v6m0 1v3m6-36v3m0 19v5m0 2v3m4-11v3m0 3v5m2-1v4m6-39v2m0 9v3m0 4v3m0 12v4m4-18v3m2-3v10m4 0v2m2-31v8m0 19v2m2-30v3m0 0v7m2-37v5m0 17v4m2-7v3m4 6v10m2-22v5m2-50v36m2-16v4m2-26v2m0 25v10m0 5v3m2-68v4m0 18v6m0 13v15m2-74v18m0 45v7m2-17v9m2-19v8m0 2v4m2 0v3m0 14v3m4-64v12m0 9v7m0 3v6m0 2v3m0 5v3m0 13v7m0 12v2m0 7v4m0 14v8m2-112v25m0 16v9m0 5v2m2-143v17m0 0v78m0 17v4m0 8v4m2-278v23m0 0v45m0 141v26m0 5v19m0 2v3m0 17v4m0 14v3m0 22v4m0 12v7m0 5v2m2-278v90m0 0v10m2 137v3m6-4v2m0 5v19m2-70v8m0 38v7m2 3v3m2-32v4m0 11v3m0 5v3m2-13v4m0 5v5m2-25v7m0 12v12m2-26v6m0 5v9m2 0v6m2-12v3m0 6v4m0 4v3m0 2v1m2-59v15m0 48v3m2-103v3m0 4v7m0 14v6m0 11v2m0 24v3m0 3v3m0 16v5m4-91v7m0 2v9m0 27v2m0 13v3m0 3v3m2-31v2m0 7v10m0 19v4m0 11v2m2-53v4m0 16v5m0 4v3m4-20v5m0 29v1m2-97v22m0 7v3m0 10v2m0 4v8m0 14v2m2-79v5m0 5v5m0 13v2m0 36v2m2 36v2m4-138v12m0 4v10m0 0v10m0 14v8m0 39v3m0 8v4m0 2v3m0 23v3m2-32v3m0 5v5m0 7v2m0 0v6m2-68v13m0 5v2m0 7v6m0 42v1m0 0v8m2-29v10m2-29v3m0 21v4m2-12v6m4-30v3m0 4v8m0 18v4m2-82v15m0 0v9m0 14v6m2 17v6m2-23v9m0 4v9m0 9v2m0 3v3m4-23v3m0 24v2m2-22v3m0 13v3m2-27v3m0 6v10m0 8v5m4-41v3m2 14v2m0 14v2m4-48v4m2 22v5m4 5v3m0 11v8m2-21v2m2 18v7m2-19v6m4-11v8m6-3v2m6-4v6m8-9v4m2-21v2m0 28v3m0 3v2m4-49v8m0 0v3m0 4v4m2-38v4m0 3v22m0 25v3m2-42v5m0 9v5m0 10v6m2-36v7m0 16v5m0 23v1m4-8v8m4-22v4m0 3v3m2 10v7m6 0v1m2-27v17m2-4v6m0 0v4m2-19v4m0 9v1m2-2v3m4-10v3m2-3v3m2-5v2m0 10v5m2-7v2m0 3v3m0 0v3m2-42v13m6 20v4m2-4v5m2-22v2m0 20v1m4-22v6m0 9v7m4-7v3m4-4v5m4-3v4m4-13v2m2-5v2m0 0v3m0 9v7m8-6v4m2-8v8m0 0v3m2-12v7m0 0v4m4-27v4m4 16v4m2-3v2m2 2v3m2-3v1m8-10v2m4-15v2m2 17v3m0 4v2m2-14v6m2 2v5m6-12v2m4 4v3m4-8v2m4-19v2m0 0v6m0 7v5m2-14v5m6-24v5m0 19v3m8 4v4m2-4v4m2-15v6m2 1v10m6-3v3m2-9v3m2 2v3m8-15v8m4 3v5m4-31v3m2 13v3m4-6v2m2-6v5m2-6v5m0 7v6m4-7v7m8-39v9m0 22v9m2-45v3m0 24v2m0 16v4m6-33v7m2-12v3m0 5v12m0 6v3m2-23v9m4-61v4m0 54v8m2-38v4m2 6v5m0 5v3m0 8v5m10 7v2m2-26v6m0 13v3m0 4v2m2-28v5m2-31v3m0 3v2m0 38v5m2-23v7m0 6v4m4-10v2m0 6v3m2-9v2m2-35v7m0 9v5m2-9v3m0 24v3m2-24v4m2-33v3m0 8v7m0 3v8m0 20v3m2-39v3m0 7v3m0 0v5m0 31v1m4-37v3m0 17v3m2-41v7m0 11v8m2 3v11m4-37v3m0 3v5m6-46v3m0 8v4m0 34v3m0 10v9m2-66v5m0 35v2m2-45v10m0 49v4m0 2v5m4-70v3m0 44v4m0 8v6"/>
<path stroke="#1187C5" d="M1 386v6m0 12v2m0 0v2m0 5v12m0 3v8m2-69v4m0 17v2m0 19v8m2-6v2m2-37v13m0 2v6m0 4v5m2-48v4m0 12v4m0 8v7m0 0v3m0 10v3m2-24v3m0 16v4m2-70v5m0 0v5m0 33v2m0 22v4m0 0v5m0 5v5m2-50v6m0 10v5m0 26v6m0 4v12m2-36v9m0 5v2m2-53v2m0 19v4m0 9v6m0 2v7m0 15v4m2-135v2m0 7v13m0 39v10m0 14v5m0 44v2m2-84v3m0 12v4m0 5v5m0 26v12m0 7v3m4-30v3m0 6v2m0 0v9m0 13v3m2-21v3m0 12v2m2-21v5m0 12v2m0 11v8m2-103v7m0 4v3m0 6v12m0 10v4m0 7v3m0 6v19m2-126v3m0 21v46m0 4v12m2 16v3m0 4v5m0 11v4m2-5v3m4-28v3m0 23v5m2-46v8m2-38v9m0 16v3m0 8v10m0 8v6m2-99v6m0 61v6m0 3v5m0 4v12m0 14v7m2-38v5m0 3v8m0 13v5m2-71v5m0 0v7m0 34v9m0 17v4m2-25v2m0 3v2m2-8v3m0 8v13m2-1v3m0 2v4m2-25v5m0 23v1m0 0v3m4-62v7m0 5v3m0 2v6m2-8v3m0 18v11m0 1v5m2-7v2m2-15v4m2-13v2m0 14v2m0 5v3m2-20v8m0 9v2m2-14v5m0 20v1m2-22v7m2 7v3m4-66v3m0 26v8m0 5v2m0 5v4m2-30v9m0 19v4m2-37v2m0 14v3m0 17v2m0 2v2m2-42v3m0 11v10m2 1v3m0 2v8m0 4v2m2-8v5m4 3v4m2-34v4m0 12v4m2-20v3m0 11v7m2 7v3m4-9v4m2-8v7m2 2v3m2-13v5m4-10v3m0 10v9m2-9v4m4-2v3m0 5v3m0 0v2m2-17v2m0 13v2m4-7v2m0 4v1m2-7v4m2-14v4m0 0v9m4-13v3m0 4v4m2-6v3m2-12v5m0 0v4m2-19v6m0 8v2m2 0v4m4-1v3m0 8v2m2-8v5m10-11v3m4 6v1m4-36v4m0 26v6m2-35v7m0 0v2m0 21v3m0 2v5m2-30v10m2-6v2m0 3v3m0 7v3m2-3v2m0 4v3m2-5v3m2-9v4m4-7v2m2 9v1m0 0v5m2-46v2m0 10v5m0 3v3m0 5v6m8 1v3m0 5v1m4-12v5m2-45v15m2 18v11m0 2v3m2-49v20m0 17v4m0 5v3m0 2v1m2-5v2m4-2v5m2-4v5m10-30v10m0 14v7m2-28v6m2 10v6m8 1v1m8-22v5m0 14v5m2-34v10m0 14v2m2-16v6m4 5v7m0 8v3m2-15v3m0 3v4m2-15v4m2-5v8m2-4v7m2-9v4m2-2v8m4-17v3m0 12v1m2-7v2m0 3v2m2-23v3m0 8v6m0 2v5m0 2v4m0 0v2m2-68v5m8 11v4m2-12v4m2-14v11m2-48v3m0 2v25m2-31v3m0 34v3m2-88v11m0 40v5m0 25v11m2-83v4m0 19v30m0 15v7m2-42v10m0 16v20m4-35v9m0 10v5m0 4v2m0 3v2m2-22v5m0 10v4m0 37v9m2-45v2m2-201v56m0 95v15m0 24v5m2-341v4m0 0v48m0 68v29m0 20v92m0 55v5m0 2v4m0 17v7m0 6v8m0 9v2m2-316v2m0 0v66m0 100v111m0 6v1m2 2v4m0 5v4m4-2v11m0 7v7m2-45v2m0 13v4m0 10v3m2-19v3m2 28v8m0 2v3m2-41v7m0 15v5m2-26v4m0 4v3m0 22v3m2-45v2m2 3v2m2-4v5m0 4v7m2-22v4m2-40v2m0 12v10m2-40v3m0 3v4m0 9v6m0 2v4m0 11v3m0 5v3m0 34v4m0 4v4m0 5v3m0 0v4m2-53v4m0 5v7m0 5v4m0 4v3m0 3v3m2-108v10m0 36v2m0 4v9m0 11v3m0 13v3m0 9v4m0 1v6m2-53v3m0 26v3m0 23v3m0 2v3m2-47v6m0 0v3m0 7v4m4-45v5m0 2v6m0 37v2m0 2v5m2-111v16m0 74v4m0 2v11m0 2v13m2-117v6m0 5v5m0 11v3m0 6v12m0 11v3m0 0v7m0 20v3m0 4v8m2-38v11m0 10v7m0 8v7m4-77v2m0 6v15m0 5v4m0 10v6m0 14v4m2-86v23m0 63v3m2-31v2m0 15v3m0 23v6m2-48v3m0 6v5m0 4v6m0 17v4m2-27v3m0 3v8m0 9v4m0 2v2m2-31v3m0 22v4m2-44v8m0 2v3m0 2v12m0 4v6m2-41v3m0 3v4m0 10v4m2-76v5m0 51v2m0 18v5m2-2v14m2-30v4m0 20v3m4-17v8m0 9v7m2-25v3m0 5v5m0 2v6m0 3v6m2-30v3m0 30v3m2-43v5m0 13v7m0 6v3m0 3v4m2-50v4m2 4v5m0 10v7m0 4v3m0 3v4m2-4v3m2-58v6m0 4v12m0 12v4m2-27v11m0 3v2m0 10v4m0 8v2m6 7v1m2-10v4m4-13v5m0 17v1m0 0v9m2-11v2m0 3v5m6-15v3m2 2v9m2-19v4m0 5v3m0 0v5m2-49v3m0 20v4m2 6v14m2-11v6m4-24v2m0 4v3m2 9v4m2-27v4m0 1v4m0 4v3m0 6v5m2-45v4m0 19v14m2-23v3m0 8v12m0 7v8m2-15v6m0 5v1m2-22v3m2 4v4m2-13v3m0 9v3m8 3v5m2-4v4m0 2v6m2-7v5m6-14v7m10-8v2m4-31v2m2 36v2m4-6v3m0 6v4m2-15v2m4-3v4m6 9v1m2-6v2m0 2v1m4-9v3m0 2v4m4-1v7m2-12v7m0 0v1m2-10v3m2-8v7m0 4v3m4 1v1m0 0v3m2-32v2m0 5v4m6 1v6m2-11v3m4-8v11m2 13v3m2-10v3m2-7v7m4-2v2m4 4v3m4-18v9m2-9v7m0 12v2m6-10v2m2 6v2m2-9v4m6-7v2m2-3v3m0 2v3m6-21v5m4-6v4m0 6v2m2-15v7m2 19v3m0 1v2m8-7v3m4-1v2m4-3v1m12-11v2m6-1v5m2-11v4m0 0v2m0 4v1m2-29v3m0 8v3m2 12v3m2-15v1m2-23v22m2 5v7m2-21v6m0 18v1m2-4v1m2-22v3m0 12v2m6-16v3m0 2v6m0 3v3m2-4v2m2-52v14m0 5v20m0 0v4m0 2v2m0 9v5m2-19v12m2-14v4m0 8v3m2-16v13m2-53v15m2-11v16m0 33v2m0 0v2m0 5v2m2-67v16m0 10v5m0 18v7m0 0v7m0 5v1m2-80v2m0 2v22m0 7v3m0 6v8m0 16v4m2-39v6m0 10v16m0 2v7m2-48v8m2 15v2m2-79v14m0 41v2m2 28v9m4 0v3m2-13v6m2-41v4m0 3v8m0 15v13m0 0v7m2-49v3m0 2v13m2-1v3m2 16v10m2-28v4m2 2v10m2-10v3m0 7v16m0 6v2m2-42v11m0 19v4m0 0v2m2-50v7m0 14v2m0 2v6m0 3v12m2-62v4m0 7v2m0 20v2m0 2v3m0 0v6m0 17v3m2-29v5m0 2v4m2-38v2m0 6v2m0 5v5m0 2v6m0 13v2m2-48v2m0 17v6m0 13v5m2-10v4m0 3v4m0 2v1m2-49v5m0 8v3m0 33v2m4-42v3m2 13v9m0 19v3m4-93v12m0 17v2m0 26v6m0 9v4m0 10v3m2-72v2m0 8v14m0 20v10m0 3v9m2-75v3m0 19v14m0 24v3m0 8v2m2-51v5m0 7v3m0 7v8m0 2v5m0 0v4m0 5v3m0 0v7m2-67v5m0 12v8m0 0v3m0 11v3m0 8v4m0 8v3"/>
</g>
<path d="M162.0 382.4L169.1 385.1L176.2 387.7L183.3 390.2L190.4 392.6L197.5 394.9L204.6 397.1L211.7 399.2L218.8 401.3L225.9 403.2L233.0 405.1L240.2 407.0L247.3 408.7L254.4 410.4L261.5 412.0L268.6 413.5L275.7 415.0L282.8 416.4L289.9 417.7L297.0 419.0L304.1 420.2L311.2 421.4L318.3 422.5L325.4 423.6L332.5 424.6L339.6 425.6L346.7 426.6L353.8 427.5L360.9 428.3L368.0 429.1L375.1 429.9L382.2 430.7L389.3 431.4L396.5 432.1L403.6 432.8L410.7 433.5L417.8 434.1L424.9 434.7L432.0 435.3L439.1 435.9L446.2 436.5L453.3 437.1L460.4 437.6L467.5 438.2L474.6 438.8L481.7 439.3L488.8 439.9L495.9 440.4L503.0 441.0L510.1 441.6L517.2 442.2L524.3 442.8L531.4 443.3L538.5 443.8L545.7 444.2L552.8 444.5L559.9 444.6L567.0 444.5L574.1 444.1L581.2 443.5L588.3 442.5L595.4 441.3L602.5 439.6L609.6 437.5L616.7 435.0L623.8 432.2L630.9 428.9L638.0 425.4L645.1 421.6L652.2 417.5L659.3 413.3L666.4 409.0L673.5 404.7L680.6 400.6L687.7 396.9L694.8 393.8L702.0 391.3L709.1 389.4L716.2 387.9L723.3 386.8L730.4 386.0L737.5 385.4L744.6 385.2L751.7 385.1L758.8 385.4L765.9 385.9L773.0 386.6L780.1 387.7L787.2 389.0L794.3 390.5L801.4 392.3L808.5 394.4L815.6 396.7L822.7 399.2L829.8 401.9L836.9 404.7L844.0 407.7L851.2 410.7L858.3 413.7L865.4 416.7L872.5 419.4L879.6 421.7L886.7 423.7L893.8 425.4L900.9 426.8L908.0 427.9L915.1 428.8L922.2 429.6L929.3 430.1L936.4 430.6L943.5 430.9L950.6 431.2L957.7 431.5L964.8 431.8L971.9 432.0L979.0 432.4L986.1 432.7L993.2 433.1L1000.3 433.5L1007.5 433.9L1014.6 434.3L1021.7 434.7L1028.8 435.2L1035.9 435.7L1043.0 436.2L1050.1 436.7L1057.2 437.2L1064.3 437.7L1071.4 438.3L1078.5 438.8L1085.6 439.4L1092.7 439.9L1099.8 440.5L1106.9 441.0L1114.0 441.6L1121.1 442.1L1128.2 442.6L1135.3 443.2L1142.4 443.7L1149.5 444.2L1156.7 444.7L1163.8 445.1L1170.9 445.5L1178.0 445.8L1185.1 446.1L1192.2 446.2L1199.3 446.2L1206.4 446.1L1213.5 445.9L1220.6 445.4L1227.7 444.8L1234.8 444.1L1241.9 443.1L1249.0 441.9L1256.1 440.6L1263.2 439.1L1270.3 437.6L1277.4 435.9L1284.5 434.1L1291.6 432.4L1298.7 430.5L1305.8 428.7L1313.0 426.9L1320.1 425.2L1327.2 423.5L1334.3 421.9L1341.4 420.3L1348.5 418.8L1355.6 417.3L1362.7 415.9L1369.8 414.5L1376.9 413.1L1384.0 411.8L1391.1 410.5L1398.2 409.2L1405.3 407.9L1412.4 406.6L1419.5 405.3L1426.6 403.9L1433.7 402.6L1440.8 401.3L1447.9 399.9L1455.0 398.5L1458.6 397.8" fill="none" stroke="#fff" stroke-width="5" stroke-linejoin="round"/>
<g transform="translate(162.00 0) scale(1.77616 1)" fill="none" stroke-width="1.6">
<path stroke="#FDC591" d="M12 896v3m2-28v3m12 26v10m4-58v2m6 31v3m6-8v2m2-26v2m2 10v2m16-51v2m24-14v2m6 35v8m12-65v2m4 31v3m4-66v3m0 33v3m2 11v4m12 11v2m2 16v2m4-39v4m0 9v3m6-44v3m0 84v3m2-71v5m4-114v3m0 61v2m0 29v2m2-98v4m0 48v3m0 3v1m18 141v15m10-122v3m4-24v2m6 85v2m6-93v3m6 7v2m4 65v2m2-129v3m2 44v4m2 32v3m2-59v2m4-9v33m2-44v7m0 86v2m2-97v12m4 151v3m10-57v1m8 59v2m6-97v2m0 5v2m2-1v4m2-18v2m0 25v1m10 52v2m6 14v2m2 8v3m10-162v12m0 104v2m2 17v3m2-95v3m4 60v3m0 26v2m4-144v2m2 41v10m4 78v2m6 8v3m4-37v10m0 34v3m2-127v2m6 114v2m2 27v3m2-34v4m2 4v3m0 14v3m10-19v3m16 4v3m4 30v3m6-28v3m6-22v3m8 25v4m0 14v3m12-9v5m4-36v2m8-17v6m10-2v3m12-30v3m0 43v3m2-51v5m2 1v2m8 16v2m2-20v3m2-18v2m4 46v7m2-69v2m0 26v2m2-111v3m0 43v2m0 17v2m0 13v2m6 9v2m2-13v3m2-30v3m0 5v2m2-35v8m2 29v2m0 22v2m2-33v2m0 71v3m10-31v2m2 2v2m10-10v2m8-88v3m0 14v3m0 21v4m2 32v10m4-25v3m12-126v2m2 126v16m6-17v2m4-86v4m16 37v3m6 30v3m6-57v4m2-42v2m0 38v2m16 39v3m4 29v1m2-33v3m6-10v2m0 4v3m6-54v2m0 47v2m2-123v4m2 168v3m6-61v3m14 5v3m6 111v2m0 11v3m4-91v4m0 2v2m4 9v2m4 32v4m2-37v2m2-27v3m2 6v2m6 13v2m14 65v4m6-65v2m8 58v6m4-55v3m18 31v3m2-28v2m2-18v4m0 31v5m4 18v3m8-33v2m2 7v2m0 9v2m2-66v4m2 42v2m2 8v3"/>
<path stroke="#F0A078" d="M4 870v3m4 17v2m2-5v2m8-23v4m8 21v2m2 13v2m8-46v3m4-60v7m10 8v2m4 29v3m4 8v2m4-62v2m8 37v1m4-32v2m2-21v6m2 30v2m2-25v2m0 40v26m8-115v2m6 82v3m4-48v2m10 30v2m2-22v4m2-41v4m2-32v3m4 59v2m4-80v3m6 33v4m0 17v3m4 47v2m4-57v3m16 8v2m2-61v2m8-5v2m0 134v10m2-183v4m16-22v6m0 2v2m2 204v3m12-122v4m4 75v2m14-37v2m2 27v2m2-56v4m20 71v4m2 20v4m4-80v2m2-17v3m2-9v2m2-47v3m2-26v3m2 127v3m14-23v3m10 57v10m8-3v1m2-69v2m0 51v2m10-23v2m6 24v6m4-139v2m2 82v3m0 8v2m4 10v4m2 21v2m4-3v2m10-23v2m4 31v2m4-7v3m2-9v2m22-31v3m8 17v5m0 15v3m2-1v2m4-11v3m2-4v2m10-34v2m10-37v2m2 22v2m12 14v3m2-20v2m12 29v6m20-73v2m0 13v4m18-4v2m6-21v6m2-15v2m2-25v2m0 42v2m4 9v3m2-76v4m0 41v2m4-34v4m2 29v4m6 15v15m8-120v2m0 87v14m6-27v2m8-14v2m2 7v2m0 32v43m2-126v2m2 22v3m12-60v4m2 24v2m2 43v3m2-44v3m4 59v3m4-14v2m2 27v27m2-132v2m10 121v3m6-33v2m6-45v5m20 31v3m0 4v2m0 9v2m2 9v2m2-30v2m0 13v2m6-11v2m8 60v2m6-35v2m28-14v3m8 6v2m54 71v3m2 2v1m6-9v2m10-22v2"/>
<path stroke="#E27A5E" d="M16 908v7m2-19v3m24-35v2m18-29v3m18-55v4m2 33v3m14-30v2m4 12v4m4-45v2m10 54v3m6-99v3m4 1v2m2 12v5m0 0v3m4 44v3m6 0v3m12-29v5m2 31v57m14-125v2m12-8v2m4 103v2m8-101v2m4 5v2m14 119v4m6-140v31m6 113v2m20-11v5m14-162v2m0 106v3m2 0v2m8-33v3m6 20v3m6 27v2m0 13v3m0 34v9m6-84v3m26 40v2m4-21v3m38 19v4m12 32v2m22-24v3m6-30v2m8-1v4m8-17v2m6 32v3m2-15v2m10 8v8m6-65v3m6-16v4m4 1v6m18-14v2m0 2v5m8 26v2m2-56v2m8 28v2m6-56v4m6 5v3m14-21v2m2 53v3m4-91v1m4-17v4m8 80v5m0 18v3m10-9v3m10-56v3m6-2v2m6 52v4m4-73v3m12 24v3m2 56v4m0 10v3m6-89v3m6 52v3m2-162v4m8 124v2m26 62v3m26 36v2m6-10v2m10-12v4m14 24v3m18-10v3m12-70v4m2 28v4m10 48v3m6-14v3m8 7v2m2-27v2"/>
<path stroke="#D24F42" d="M0 860v6m2 30v2m8-9v4m6-20v3m4 2v4m8 13v5m6-89v2m2 75v2m2-15v14m2-71v3m8 37v2m2-17v3m4-5v2m2 2v4m2 18v1m4-71v5m0 27v4m4-39v4m0 0v2m0 44v2m0 16v3m4-40v3m4 7v13m12-75v2m8 22v2m4 4v2m8-76v6m0 34v2m4-38v31m2 40v2m4-213v67m6 173v2m6-39v2m4-20v2m16-57v3m6 145v15m16-56v3m2-86v5m8 5v3m10-37v2m8 56v2m16-10v2m0 76v2m6-91v2m12 30v3m6 8v2m14-46v2m0 98v2m6-18v3m2-104v3m4 71v3m2 27v2m8 11v2m2-2v4m4-6v3m4 29v3m2-146v2m12 80v4m8-107v17m8 95v6m22 57v1m2-29v2m0 26v3m2-79v32m2-31v4m6 38v3m12 28v3m20-45v4m2-28v3m4 12v3m2 21v2m10 2v2m2-20v2m6-100v2m0 51v6m2 36v2m2-41v14m0 44v2m2-15v2m2-11v3m2-2v4m2-29v2m8 8v2m6-6v2m0 30v10m4 10v3m40-165v3m0 90v2m6-45v2m2-66v2m16 14v3m0 71v3m2-71v2m4 49v2m6-113v3m2 42v2m4-83v16m2 99v4m2-4v2m2 4v2m6-1v2m2-35v2m2 30v5m6 49v1m4-106v2m18 65v3m10 49v2m4-43v2m0 5v2m4 3v2m2-38v2m0 9v2m4-41v2m8 70v2m0 11v2m14 10v2m2 22v4m6 11v2m8-58v3m2 32v2m14 63v2m2-70v3m0 3v2m0 16v2m10 13v2m0 1v2m42-25v2m6 20v1m18-76v39m8 6v8m2 5v2"/>
<path stroke="#C5282B" d="M0 922v4m2-18v1m0 0v22m2-41v3m0 28v2m2-35v3m0 2v2m4-2v2m2-11v3m0 5v2m0 5v1m0 9v3m4-15v3m0 3v3m2-45v2m0 9v3m0 24v2m2-26v3m0 4v3m0 5v2m4-32v2m4-8v2m0 27v2m0 15v5m2-19v14m4-144v5m0 111v2m0 5v22m2-72v5m0 22v2m0 7v2m2-40v4m0 38v2m2-5v2m2-49v2m4 27v3m0 3v2m0 5v2m0 11v3m0 6v2m0 12v10m4-47v2m2-51v2m0 9v3m0 21v2m0 8v2m0 5v15m2-73v4m0 36v2m2-22v2m0 22v3m0 2v4m0 9v1m2-4v3m2-34v4m2 10v22m2-104v36m0 5v2m2 24v3m0 30v26m2-96v5m0 4v2m0 27v2m0 8v19m2-39v2m0 8v4m0 15v2m0 2v2m2-44v3m0 21v33m2-54v2m0 3v3m6 8v6m4-56v3m0 2v2m12 2v6m2 28v8m2-38v3m2-26v2m4 22v4m2-20v3m4-54v2m0 32v2m0 15v2m0 17v2m4-86v3m0 67v1m2-13v3m4 36v3m4 8v2m6-14v2m4-71v2m4 21v3m6 0v2m2-24v2m0 9v4m2-35v2m4 38v3m2 105v2m6-104v2m8-50v3m0 11v2m4 57v4m2 84v14m2-125v2m0 110v14m6-143v2m2-40v23m0 64v3m2 49v6m6-140v6m0 26v3m4-89v4m0 92v3m0 35v2m2-29v3m2 4v2m14-22v3m4-26v3m10 15v2m0 61v2m2 4v4m4-86v3m0 56v3m0 66v2m2-29v2m0 7v3m0 13v3m2-85v2m4 32v2m2-20v2m2 35v2m2-88v2m0 31v2m2-46v2m0 116v2m4-30v2m0 14v2m2-27v3m6-31v3m0 53v2m0 11v2m4-56v4m4 53v3m4-88v3m2 20v2m0 50v2m2-64v3m0 76v3m2 6v2m2 6v2m2-70v2m2 48v3m2-34v2m2-46v22m0 6v3m2-28v9m4 36v2m4 1v4m4 35v4m8-73v15m0 53v2m2-2v2m10 2v3m4-16v2m0 20v3m16-20v4m2-20v2m0 8v2m0 21v2m2-11v3m6 4v2m2-2v2m10-41v2m0 35v2m2-27v6m2 9v2m0 20v2m2-8v3m2-23v3m4-28v2m0 4v3m0 37v2m2-9v1m12-24v2m6-33v2m2-48v19m4-70v11m0 64v5m10 41v3m4-39v7m8-70v24m0 18v3m0 14v4m2 19v2m2-46v3m2 49v3m8-102v5m0 29v3m0 25v5m4-2v4m0 23v8m4-75v4m2 27v4m2-91v2m0 86v3m4-52v2m4 59v4m2-33v2m4-61v6m0 48v2m2-24v3m6 55v3m6-109v2m2 25v3m0 51v2m4-45v2m0 23v2m2-31v2m4-76v2m0 58v2m0 33v2m4 15v3m4-176v43m0 103v1m2-34v2m0 34v3m6-82v6m0 106v2m2-146v3m0 138v3m2-117v8m0 121v2m2-90v2m0 18v2m2 7v2m2-33v2m0 23v3m2 38v2m4-42v2m0 24v2m0 17v1m2-31v3m4 13v2m2 13v2m2-77v4m0 21v2m6-35v2m2 42v2m6-10v3m2-42v10m0 51v3m0 4v3m2-67v2m4 91v5m2 3v3m0 45v2m0 3v1m4-79v2m2 40v2m4-46v2m2 4v3m6-60v2m2 73v4m0 30v4m2-67v2m10 48v5m2-22v3m8-21v3m0 15v3m4 35v3m2-23v3m0 90v5m2-138v2m2 12v4m2 29v2m2-24v2m6-19v5m2 25v3m4 18v2m10-21v5m0 26v3m2-30v4m12-70v2m0 80v6m2-6v4m0 25v2m6-44v3m0 19v2m8-5v2m2 26v2m2-5v2m4-41v2m4 0v2m0 14v3m4 17v3m2-73v27m8 49v2m6 13v2m20-43v6m2 18v3m4 3v3m2-79v9m0 39v2m2-21v10"/>
<path stroke="#CC4145" d="M4 875v2m2 14v2m4-8v2m2 30v5m2-25v20m4-34v4m2-2v2m0 9v18m4-68v6m0 38v16m10-125v2m2 94v2m6-46v2m0 24v2m2 10v12m2-103v2m2 88v5m2-48v5m0 31v19m4-8v7m6-36v3m0 4v49m4-57v1m0 0v20m6-37v2m4-57v22m0 13v2m4 0v4m22-33v2m2 14v2m20 23v2m2-70v3m4 12v3m4 20v2m8-9v3m12 76v1m16-148v1m8-19v24m0 0v1m4-37v2m6 83v2m8-14v2m8-6v2m4 4v2m2-49v3m4 155v10m4-110v2m2-2v3m2-27v3m0 42v3m8-114v14m2 128v4m6-55v2m0 19v4m2 55v3m4-77v3m14-25v3m0 23v1m0 75v5m2-32v3m2-32v2m14-9v7m4-69v2m4 120v2m0 31v2m2-35v2m2-64v3m2-126v27m6 128v3m0 29v3m2 22v2m12-49v2m2 13v2m0 20v2m4-29v2m16 28v3m6-17v6m6 1v3m12-25v14m14 41v2m20-105v34m4 53v3m2-29v3m0 9v3m2-36v2m4 23v2m2-16v2m4 21v3m2-68v4m0 24v4m16 45v2m2-30v2m4-2v2m2-2v4m2-16v3m6-55v2m4-4v2m8 18v2m2-36v3m4-25v2m0 0v2m6 36v3m4-15v4m2-38v18m18-61v2m2 46v2m0 32v2m4-105v2m0 49v3m0 28v3m8-66v3m0 43v2m4 1v2m6-123v13m4 96v2m6 39v2m2-49v3m0 45v3m2 12v3m8-77v3m0 8v3m6 12v2m0 75v3m2-45v3m2 7v2m2 12v2m2-101v3m0 12v2m2 52v1m8 1v4m2 29v2m2-29v2m0 19v3m2-13v3m2-27v2m6-70v2m10 89v2m8 29v3m2 13v2m8-15v3m2-20v4m4-8v4m2 56v3m0 50v2m4-74v3m8-13v3m20-9v3m2 34v2m12-93v26m6 79v3m4-30v5m2 0v2m14-19v2m10 26v2m0 3v1m0 36v6m4-10v2m6-59v4m0 2v3m0 48v2m4-31v2m18-38v15"/>
<path stroke="#DC7677" d="M18 904v9m6-38v3m10-17v2m0 15v1m2-40v2m12 36v2m8-41v2m10 18v4m8-32v2m6-26v3m8 2v4m10-38v2m4 6v4m8-25v2m4-42v2m8 102v2m6 8v2m8-33v12m2-53v2m0 97v14m2-105v2m6-9v2m16-19v4m14 23v3m20-11v3m4-48v2m2 40v2m4 10v3m2-26v3m2 154v3m16-121v3m2-31v5m8 66v4m6-20v6m2-35v3m12-40v3m14 110v5m8-103v2m0 65v2m4-4v5m2-17v3m0 58v3m4-168v2m0 151v3m10-22v2m8-98v3m0 7v2m4 118v2m2-39v3m30 2v3m18 49v4m2-38v2m2 6v2m0 7v3m2-38v4m2 13v3m4 4v2m2-4v2m8 15v4m2-39v2m24-66v5m0 54v2m2-16v2m2-40v8m6 32v5m10-19v3m4 8v2m12-24v2m2 27v2m10-22v4m10-78v4m8-4v2m38 61v2m4-68v4m4-59v3m6 49v4m10 45v2m10-14v2m4-4v6m4-112v30m4 137v11m2-81v4m2-48v21m2-70v41m2 121v4m4-38v2m6 8v4m2-11v3m16-30v2m14 115v2m0 7v2m2-46v3m4-13v4m14-38v3m0 38v6m4-98v2m0 36v2m10 38v3m4-57v11m6 31v3m4 66v3m26-10v3m2-3v3m2-47v2m8 54v2m6 6v7"/>
<path stroke="#EBACAD" d="M0 920v2m0 5v5m6-37v2m2 7v31m2-21v6m6-62v3m12 18v4m6-108v2m0 32v2m0 52v3m2 24v2m4-19v17m6-147v2m2 134v1m2-22v2m4-51v2m0 27v3m0 28v2m2-19v2m10-38v2m2-18v2m2-7v3m6 47v2m4-22v4m4-25v2m10-20v2m0 29v5m12-21v2m4-30v2m2 35v4m6-48v2m4 36v4m0 31v3m12-100v2m2 33v2m4-39v5m4-77v4m4 90v2m2-8v2m4-41v3m2 26v2m4-10v2m0 124v9m20 12v16m2-167v2m6 21v2m10 103v6m4-85v2m2-22v3m4 81v3m4-92v2m2 15v3m10-4v3m0 27v3m4-18v2m0 14v3m4 1v3m4 21v4m2-24v3m0 49v3m2-75v2m2 9v4m2 19v2m2-61v2m2-11v3m2-7v3m0 92v3m0 4v9m2-3v2m12 41v3m2-113v8m0 68v4m2-39v2m0 50v7m2-55v3m2 15v2m2 40v2m2-61v2m2-151v35m6 171v3m2-78v2m0 27v4m4-16v2m2 21v3m2-29v3m16 4v2m0 7v2m4 25v3m8-7v3m0 12v2m16-18v2m4 32v3m2-36v2m0 20v2m2-26v2m0 3v2m14 36v2m4-79v9m0 43v2m2-56v9m0 53v2m2-42v3m8 3v3m8-15v4m8 24v2m8-10v3m4-17v5m4-8v2m4 10v3m0 2v3m2-41v3m10 48v4m6-51v3m2-23v3m0 13v2m4-35v2m0 79v2m2-81v2m0 4v2m4-19v2m2 53v2m2-85v3m0 33v2m0 35v3m6-121v4m4 106v4m2-67v2m4 56v2m4-70v2m0 12v2m0 29v2m0 14v3m2-67v4m0 13v2m10 11v4m0 2v2m4-6v2m2-23v2m0 48v25m6-83v3m0 49v2m8-55v2m2 15v2m4-44v2m0 48v2m2 24v8m2-13v34m6-85v3m2-41v4m0 0v3m0 4v2m0 16v3m2-13v2m4 49v2m8-38v5m0 20v2m8-13v5m4-71v10m0 72v2m2-69v4m2 61v2m8 6v5m6 10v3m6 25v1m6-126v1m0 5v2m0 102v2m4-76v4m0 66v3m2-25v2m2 34v2m0 13v2m10-53v2m2-49v3m0 107v4m2-123v3m0 127v2m6 8v10m6-66v3m0 15v3m2 17v3m2-68v5m2 10v3m0 54v2m4 15v3m8-58v3m0 44v35m2-88v4m0 2v3m0 47v19m2-19v23m4-123v2m0 4v3m0 63v3m2 33v3m4-6v38m2-29v2m0 18v3m2-25v28m2-37v4m0 6v61m4-42v3m0 1v2m2-66v2m0 41v48m2-148v2m2 103v1m0 0v37m2-114v4m0 5v2m6 54v3m0 11v17m2-22v3m2 4v25m2-22v11m2-14v1m0 0v14m2-9v32m4-40v1m0 5v16m4-3v14m6-72v3m2 8v3m2 8v3m0 30v2m2-5v15m2-11v2m8-10v1m4-26v3m0 27v2m0 1v22m6-29v2m6 8v20m2-74v2m2 11v2m0 36v11m4-11v28m4-58v2m0 14v3m0 17v3"/>
<path stroke="#F8E0E0" d="M0 908v2m2-56v11m2 12v3m8-18v2m4-15v9m0 9v4m12-36v2m2-6v4m8 2v4m0 25v3m4-83v33m0 53v5m6-29v2m6-77v32m0 38v2m2-47v9m10-3v2m4 48v2m4-58v3m2-4v3m0 13v2m10-82v4m2 57v2m2-20v3m0 6v4m2-17v3m4 23v3m2-10v2m0 5v2m2 1v2m2-22v2m0 20v3m0 19v3m2-9v2m6-27v2m2-50v2m0 66v2m2-84v2m4 43v6m4 47v3m2-76v2m4 16v2m4 77v2m4-93v4m2-49v11m0 5v2m0 69v2m0 2v3m6-61v4m4-3v4m2 8v3m12-52v2m0 37v3m2-55v2m2 64v2m4-69v12m4 46v3m4-18v2m0 27v2m2-86v4m2 43v2m4 36v3m2-15v2m2-72v3m0 39v2m4 10v2m2-7v2m0 3v2m2-23v4m2 54v4m2-6v2m2-4v2m2 2v2m2-8v2m8-20v2m4-1v2m4 31v4m2-94v2m6 87v2m4 9v3m4-11v2m4 14v4m2 13v3m0 31v3m2-76v2m2-31v2m0 68v3m0 20v3m2-117v2m0 22v3m0 60v4m4-32v3m0 23v4m8-25v4m0 18v2m2 15v3m2-12v2m0 4v2m4 34v5m0 7v2m2-35v2m2-21v3m0 8v6m0 33v2m4-3v1m2-30v2m2-31v2m0 39v2m0 25v2m4-77v2m0 31v2m2-55v3m0 4v2m2 62v2m4 8v4m0 2v1m8-47v3m2-74v3m4 75v3m0 12v2m6 19v3m8-12v3m0 18v4m0 1v3m6-18v4m4 7v2m4-29v5m0 43v2m4-88v2m4 59v2m0 21v5m2-41v3m2-4v4m0 12v2m6-28v3m2 4v3m10-10v3m8-15v2m0 14v2m6 28v3m2-76v2m10 45v2m2-73v3m2 41v3m8-79v4m4 82v2m6-14v3m4 5v2m2-20v2m4-11v2m0 11v2m6-2v2m4 29v2m2-64v2m2 17v3m2-27v2m2-55v3m2 38v3m0 2v3m0 50v3m2-75v2m2 11v3m0 2v2m2-73v7m2 79v2m2 10v2m2 41v3m6-143v2m0 3v2m0 55v3m0 21v2m2-46v4m2-13v2m4 58v4m4 1v2m12-44v2m2-28v2m4-3v2m4-29v2m4 72v2m2-24v2m4-38v2m0 45v2m4-148v3m0 77v3m2 22v2m0 19v2m0 2v3m0 5v2m6-70v3m2 48v3m0 29v3m2-93v6m0 41v2m0 4v3m2-11v3m4-52v2m2 46v2m0 9v2m2 39v3m2-15v2m4-24v3m4-27v2m0 24v3m2 20v3m2-50v2m2 18v1m10 47v2m4-59v3m0 19v2m2 45v3m4-59v4m2 22v2m6-78v2m0 47v2m2 73v3m0 2v1m2-57v2m4-59v3m2 68v3m2-49v6m0 33v4m4 13v3m0 20v2m6-62v2m0 31v4m0 10v2m0 3v3m2-25v2m6 6v3m0 96v2m2-99v3m0 14v3m0 15v3m2-40v2m4-16v5m4-13v2m2 71v2m4-54v2m2 31v3m4-43v3m2 18v4m4-135v6m0 28v2m0 131v2m2 9v2m6 16v2m6-92v2m4 86v3m8-28v2m4 1v2m2 3v3m2-34v3m0 42v4m10-27v2m4 17v3m0 14v4m2-33v2m2 33v3m4-73v2m0 12v2m4-10v3m0 32v3m0 14v6m2-78v3m0 36v2m0 30v2m2-90v3m0 58v4m2-29v3m8 44v2m6-26v1m12 41v5"/>
<path stroke="#DDF1EA" d="M0 915v5m2-53v2m0 4v2m2-2v2m2 44v4m6-53v2m2-16v3m0 34v3m6-63v5m4 24v2m0 6v2m2 21v3m2-30v2m2-22v2m4-77v2m0 42v2m0 12v1m0 7v3m2 13v3m2-7v2m4-10v2m4-61v2m0 41v6m0 13v4m0 11v2m0 16v2m6-73v2m0 17v2m2-16v3m2-3v3m4-6v7m0 0v2m2 4v3m2-13v3m2 37v2m0 2v3m4-55v2m0 13v3m2-13v2m0 2v2m8-15v5m0 27v2m4-36v2m2-29v3m0 38v2m2-22v3m2-20v2m0 13v4m2-16v3m0 45v2m2-44v3m0 2v3m4 14v4m2 4v2m0 15v3m2-78v4m2 25v3m0 9v2m4-30v2m4-43v3m0 68v2m2 1v2m2-135v3m0 16v4m2-18v11m0 87v3m0 33v3m4-18v2m0 8v2m4-31v2m2 12v2m0 35v2m0 10v2m4-44v3m0 10v2m2-10v2m4-33v3m0 7v5m2 5v3m4-36v1m0 31v4m0 2v4m0 6v2m2-159v2m0 28v3m0 13v4m2 13v2m2 12v2m2 50v1m2-66v2m0 40v3m8-17v3m0 7v2m0 21v2m2-126v6m0 26v3m0 36v4m2 12v4m0 10v3m8 13v2m6-87v2m2 72v4m6 7v4m2-29v3m4 0v2m0 30v4m0 3v3m4-19v2m10-73v3m0 86v3m8-5v4m2-34v2m8-52v2m6 84v2m0 10v2m4 57v4m2-98v2m0 84v2m0 10v3m4-63v2m0 4v2m0 4v3m4-30v2m0 10v2m0 46v3m2-71v3m2 11v2m0 12v4m2-67v3m0 59v2m0 59v6m6-33v2m2-10v2m6 45v4m2-55v2m0 11v2m4-7v2m0 32v2m2-1v3m0 9v2m2-129v2m0 80v2m2-72v2m2 54v2m0 15v3m0 9v6m2-15v2m0 3v2m0 34v3m0 17v3m2-99v2m0 33v3m0 29v4m4-128v3m2 39v2m0 75v4m2-46v2m0 49v2m8-16v4m6-10v2m0 25v3m2-83v3m0 9v2m0 73v2m2-32v2m0 29v2m2-51v2m0 10v2m2-15v2m0 2v2m0 17v2m2 16v2m0 12v2m2-38v2m0 9v4m0 2v2m6-36v6m0 50v2m2-26v4m4 12v2m2-14v2m0 15v2m6-8v3m2-25v3m0 16v2m4-39v4m0 10v3m0 21v3m12-28v1m0 17v2m2-9v2m4-19v2m2 17v1m0 14v5m2-32v2m0 16v3m2-18v1m2 14v3m2-19v2m4-7v2m2-25v6m2 18v2m2 4v3m4-23v4m0 27v2m0 13v2m2-61v2m0 30v2m2-23v2m2 17v5m6-22v3m4-6v2m2-44v3m0 11v2m2-22v1m0 39v2m0 2v3m2-2v2m2-9v1m2-26v2m0 32v3m2 12v2m4-25v2m2 5v2m2-44v3m0 27v2m0 13v3m2-24v2m0 8v2m2-41v6m0 11v2m2 38v3m2-23v3m0 16v2m10-129v2m2 69v2m0 10v3m2 14v2m0 2v5m2-37v2m0 15v2m0 3v3m0 17v3m2-74v2m2 25v3m0 11v5m2-8v2m0 30v5m2-52v2m2-36v3m0 23v3m0 15v3m2-10v2m0 7v2m0 40v2m4 12v8m2-135v3m0 42v1m0 4v3m0 16v4m10-44v2m0 4v4m2 8v3m0 34v5m2-50v3m4-25v2m2-11v4m2-12v4m0 9v2m0 58v1m2-25v2m2-39v3m0 2v2m0 41v3m0 2v2m0 6v2m4-131v2m0 2v2m4 82v4m0 21v2m2-85v2m0 25v3m0 27v2m0 3v3m0 29v2m2-57v2m0 2v4m0 31v3m2-78v2m2 77v3m2-72v2m0 75v2m2-74v2m0 63v2m2-116v2m0 57v2m0 61v2m2-2v3m2-20v2m2-127v4m0 137v2m2-74v3m2-39v4m0 22v3m2 39v2m0 19v3m4 7v2m2-70v2m4-14v3m0 25v2m0 52v1m6-10v2m0 8v3m0 28v1m2-67v3m2-10v3m4-54v2m2 67v2m2-28v2m0 35v2m6-3v2m6-25v3m2 24v2m10 10v2m0 9v2m4-55v2m0 7v3m0 43v2m0 25v2m2-75v3m6 6v2m2 53v2m4-22v6m6-18v3m0 58v2m6-7v2m2 64v3m2-59v1m2-27v4m6-30v2m0 37v2m2-19v3m2-27v2m0 19v2m6-49v2m6 9v2m0 9v2m0 50v2m4-4v2m2 28v3m0 14v4m2-62v3m0 22v2m0 6v2m2-9v3m2-49v2m0 14v3m0 46v2m2-2v2m2-43v3m0 2v3m2-69v2m0 8v2m0 57v2m4-18v3m6 1v3m6-4v2m4 9v2m8 3v3m0 18v4m2-38v3m0 47v2m0 0v1m4-33v2m0 17v2m2-13v2m0 9v2m2 31v2m2-30v2m2-45v2m0 0v4m0 49v4m0 2v4m6-62v2m0 20v2m2 18v4m0 7v3m2-26v2m8-14v2m6 9v4m2 15v3m2-28v3m4 11v3m0 6v2m2-44v2"/>
<path stroke="#C2E8DB" d="M0 912v3m4 1v2m2-49v3m2-25v15m0 7v3m2-28v17m0 7v3m0 12v2m2-25v2m0 16v3m2-20v2m0 6v2m0 3v2m0 0v2m2-2v2m2-22v2m0 12v2m0 3v2m0 5v1m2-24v2m0 31v3m4-43v2m0 4v2m0 7v3m2 26v2m4-58v2m4-48v6m0 6v3m0 49v3m0 15v2m2-44v2m0 8v2m2 10v2m2-29v2m0 10v3m2-23v2m0 20v3m0 9v4m0 2v3m2-42v3m2 6v3m0 5v2m0 0v3m0 26v4m2-81v12m4 10v3m0 40v2m2-24v2m2 27v2m2-57v3m0 14v3m4-26v4m0 8v3m0 5v3m2-23v2m2-6v4m0 49v2m2-49v2m0 6v3m0 3v3m2-25v3m0 8v2m0 2v3m0 5v2m0 14v4m2-35v2m0 2v2m2-17v3m2 12v3m0 2v2m0 4v2m2-34v3m0 6v3m0 41v3m2-79v3m0 20v3m0 25v2m4-33v2m0 4v5m2-75v2m2 35v4m4 32v2m0 30v2m2-38v4m0 4v2m0 4v2m0 19v3m0 17v2m2-31v2m2-38v3m2 27v2m2-22v3m6-24v2m4-40v3m0 81v2m2-19v2m2-77v2m2 24v4m4-20v5m0 71v3m4-38v2m2-10v2m0 8v2m0 28v1m0 13v3m0 6v3m4-14v2m0 15v3m0 13v2m12-171v2m0 117v1m2-69v2m0 21v3m2-22v3m0 41v2m0 13v2m2-51v2m2 1v2m0 9v2m2-52v2m0 51v2m4-23v3m0 4v5m0 2v2m2-5v2m4-59v2m0 26v2m0 19v2m0 24v3m4-26v3m2-12v3m0 3v3m4-15v2m0 2v3m0 126v13m8-119v3m2 5v2m4-84v2m0 56v2m8 35v2m0 95v3m2-134v3m2 35v2m2-123v36m2 64v2m0 16v3m4-45v3m0 44v2m8-28v2m0 28v7m2-47v4m0 7v2m0 22v3m6-20v3m12 19v2m0 14v2m0 41v3m2 21v2m2-95v4m6 18v2m4-78v2m0 49v2m0 65v3m0 6v1m2-108v6m0 3v3m0 38v3m0 6v2m4-17v2m0 21v2m0 39v2m4-123v2m4 108v2m0 34v3m4-8v5m4-2v2m0 3v2m2-24v4m0 13v3m2-147v2m2 9v2m4 93v2m0 48v2m0 25v3m2-109v3m0 64v4m2-58v2m2 47v3m2-99v3m0 14v3m2 46v5m8 13v3m4-5v2m2-110v2m0 10v2m0 118v2m6-32v3m2 1v4m4 16v2m2 8v3m2-7v2m4-17v2m0 11v3m2 0v2m0 16v2m2-34v3m2-14v4m0 16v2m2-27v2m0 20v2m0 18v3m6-33v4m0 21v3m2-63v3m0 37v4m4 17v3m2-13v2m2-12v4m4 1v3m2-17v2m0 4v2m0 14v3m0 8v5m4-37v2m0 24v3m0 10v2m4-29v2m0 3v2m2 4v2m2-34v4m0 5v2m0 27v3m4-12v2m0 15v3m4-59v6m0 21v4m6-41v2m2 31v2m4 5v2m0 15v2m2-63v2m0 6v3m0 34v2m2-17v2m4-45v3m0 6v2m0 44v2m4-10v2m2-33v2m2-28v3m2-45v3m0 62v2m2-32v2m0 13v5m0 18v2m0 9v2m4 0v5m0 14v2m2 15v4m2-50v3m4 2v2m4-20v3m0 7v4m2-32v4m2-21v3m0 36v3m0 3v2m2-36v3m0 30v1m2-23v3m2-35v3m2 46v2m0 24v2m2-132v2m2-6v2m2 39v2m0 40v2m2-18v4m0 25v2m0 6v2m2-63v2m0 24v2m0 18v2m2-21v2m2 13v1m2-11v2m0 19v2m0 8v2m2-166v53m0 20v2m0 105v3m4-79v2m0 57v2m0 36v2m4-30v4m0 14v3m2-97v2m0 49v2m0 9v3m2-56v3m0 10v4m0 4v2m0 46v2m2-52v2m2 0v1m2-37v6m0 50v2m2-13v3m0 14v2m2-76v2m0 14v4m0 23v3m0 13v2m2-29v2m4 46v3m2-70v3m0 36v2m2-5v2m2-76v2m0 69v4m2-88v14m4-7v4m0 44v3m4-31v2m0 14v2m0 30v3m0 10v2m0 3v2m6-17v2m2-128v9m2 40v2m0 12v3m2 50v2m0 15v5m2-110v2m0 13v2m0 68v5m0 23v3m0 7v2m0 2v2m0 2v8m2-129v1m0 5v2m0 56v2m2-11v2m2-40v2m0 29v3m0 43v2m0 12v1m2-68v3m0 5v3m2-46v2m0 57v2m2-42v2m0 38v4m0 4v2m0 12v3m4-51v2m0 25v1m2 16v3m2-49v3m2 16v2m0 25v2m4-30v2m2-50v2m0 4v2m0 54v2m0 11v2m0 13v2m0 20v2m2-54v4m4-31v1m0 62v3m2-61v4m4 27v2m6-4v3m2 12v2m0 38v2m2-41v3m2-38v2m0 45v1m0 9v2m2-90v2m0 119v3m6-150v5m0 44v3m0 61v2m4-70v2m0 22v4m2-13v2m0 25v2m2-97v2m0 64v2m0 8v2m0 65v3m0 14v2m2-333v235m4 22v3m2-9v2m2 48v2m4-49v2m0 4v4m6 39v2m2-25v2m0 7v2m4 39v2m2-25v4m2-12v3m0 27v2m2-31v2m4 50v3m0 24v3m2-90v3m2-26v2m0 75v2m2-62v2m0 14v2m2-40v5m0 54v3m2-4v3m6-70v4m0 21v2m2-7v2m4 72v2m2-17v2m0 12v2m0 10v2m2-49v2m2-2v3m0 38v2m2-4v2m2-22v3m0 21v3m0 4v3m2-90v2m0 57v2m2-75v4m0 49v2m2 10v2m0 17v2m6-16v7m2 21v2m4-2v2m0 3v3m0 8v2m6-74v3m0 50v2m4 2v3m8 18v3m2-38v3m2-26v4m0 13v2m6-3v2m4 4v4m4-54v3m0 14v2m0 22v4m0 28v2m0 4v3m2-55v2m0 7v3m0 10v2m8 2v3m6 43v1m2-38v2m2-3v4m4-12v2m2-4v3m0 10v2m2 15v2"/>
<path stroke="#A9DFCF" d="M2 875v3m2 2v2m0 30v4m2-69v22m0 3v6m2-16v5m2-4v3m0 15v2m2-40v15m2 1v2m0 17v2m2-9v2m2-15v3m0 2v3m2-28v3m0 20v3m4-10v4m2-33v13m0 29v2m2-1v2m0 35v1m6-133v2m0 17v2m0 9v3m0 7v2m0 11v3m0 24v3m4 15v3m2-62v6m0 9v2m0 10v2m4 24v2m2-122v2m0 44v2m2 30v2m0 3v2m2 25v3m2-45v2m0 18v3m2-14v3m0 46v3m4-66v2m0 3v2m0 53v6m2-50v2m2 1v2m2-11v2m4 3v2m2-24v2m0 2v4m0 2v2m0 3v2m6-10v2m2 35v9m2-25v2m0 12v3m4-117v3m0 74v4m2-13v3m0 9v2m2-65v5m2 44v2m2 36v3m2-14v4m0 18v2m4-53v3m2 3v2m0 41v2m2-16v2m2-72v2m2 11v2m0 21v3m4-1v2m2 4v2m4-90v2m0 54v2m0 11v3m2-23v3m4-14v2m0 45v3m2-26v3m2 50v2m2-59v3m0 4v2m4-13v3m0 13v4m2-38v4m0 43v2m2-13v2m2 36v2m2-67v3m4-39v2m0 40v5m0 8v2m0 11v2m0 4v2m2-37v2m2-8v2m0 6v4m2-69v4m0 55v3m8-14v4m6-23v2m2-155v149m0 22v2m2-49v13m0 6v3m4 31v7m2-33v3m0 33v2m2 11v2m6-18v3m0 139v4m2-145v2m4-67v2m0 43v2m2-57v7m0 80v2m4-34v2m0 20v3m2 7v3m6-35v2m0 21v3m4-30v3m0 49v3m4 87v2m6-119v2m0 12v2m2-34v2m0 16v3m0 22v2m6-20v3m4-19v1m4 19v2m0 15v3m0 5v2m4 69v2m2-2v5m2-113v2m0 35v3m2-14v2m2-30v10m2 48v2m2-8v4m0 13v2m0 20v2m2-73v2m0 40v1m2-34v6m4 35v3m2-54v8m0 21v2m6-45v8m0 56v4m0 54v3m4-53v2m0 6v2m2-22v13m2-35v28m2 30v2m2-56v3m4 54v2m2 3v1m4-159v7m0 106v2m4-54v2m2 70v3m2 12v2m0 9v2m4-36v3m2 33v4m2-16v2m4-17v3m0 44v2m6-39v2m0 11v2m2-17v5m0 28v3m2 1v2m4 9v2m2-57v7m0 29v2m2-10v2m4-15v3m0 8v2m4-7v5m2 37v2m2-38v4m0 21v2m6 10v2m2-49v2m4-9v7m2 21v3m6-24v4m6-49v11m0 36v3m2 34v2m0 6v3m2-61v2m0 31v3m0 13v2m0 6v2m6-28v2m8-19v2m4-60v21m0 4v2m2 46v4m2-2v4m2-58v6m14-33v1m0 36v1m2-3v2m0 11v2m0 22v2m4-22v2m4 29v2m0 9v4m6-41v2m0 3v2m6-56v2m0 26v3m2-30v2m2-14v6m6-12v2m0 39v3m2-40v2m2-46v3m2 53v3m2-104v46m0 62v3m0 4v2m2-71v2m0 57v2m2-107v30m0 41v2m2-15v2m0 29v2m0 5v2m2-9v2m2-53v4m0 22v3m2-34v4m0 49v2m0 28v2m2-57v2m0 51v4m0 41v2m4-127v24m0 25v4m0 15v2m2-28v2m0 31v2m2-61v3m0 7v3m2 22v3m0 2v2m6-36v3m0 43v4m0 7v3m2-44v2m2-2v2m0 14v2m4-13v5m0 22v2m2-48v3m2-25v2m2-19v3m6-72v13m0 52v3m0 61v2m4-9v2m0 3v2m0 10v3m2-105v2m0 10v2m0 42v3m0 41v2m2-21v2m0 7v2m2-127v23m0 50v2m0 15v3m0 34v3m0 13v3m2-3v4m2-11v3m2-89v5m2 23v2m0 25v3m2-20v5m0 35v3m0 15v2m2-24v2m2-102v2m0 130v3m2-70v2m2-59v2m0 24v2m0 84v4m2-67v3m0 11v3m2-6v4m0 9v5m2 25v2m2-97v7m4 18v2m0 6v3m2 4v1m0 6v2m4 57v2m4-57v3m2-15v3m0 35v2m2-61v2m0 73v3m6-37v3m0 21v2m4-17v5m0 0v3m2-6v4m0 104v18m4-85v3m6-55v7m0 19v2m2 21v5m4-46v2m0 27v2m2-40v2m0 43v4m2 35v3m2-40v3m6-13v3m0 7v2m2-35v2m0 3v2m2-42v5m0 82v2m2 2v4m0 4v2m6-43v2m0 25v2m0 5v3m2-11v4m8-30v2m0 55v2m2-46v3m0 4v2m0 16v4m4-11v2m0 41v2m2-55v2m0 29v3m2-3v2m2-33v3m0 2v2m0 25v2m0 14v4m10-56v3m6-132v22m0 87v3m2-16v30m0 36v2m2-29v8m2 11v3m2-7v3m2 44v4m4-63v2m0 27v2m2 35v2m2-37v2m0 25v2m4-34v3m0 24v2m2-40v6m2-40v20m0 62v3m4-16v4m2-25v1m0 36v2m2-76v4m0 32v2m0 52v2m4-69v9m0 6v2m6-1v3m0 16v2m0 2v2m2-16v2m0 33v4m2-29v2m0 5v1m2-19v2m0 40v1m2-14v2m2-8v3m2-49v2m0 17v3m0 14v3m0 25v1m4-20v4m6-38v2m16 33v4m2-5v3m0 7v2m4-28v4m0 20v3"/>
<path stroke="#91D4C7" d="M0 896v7m4-35v2m0 18v2m0 3v2m4-28v2m0 32v3m2-38v2m2-10v2m2 27v2m12-51v2m0 37v1m8-117v4m0 78v3m0 28v2m2-40v3m0 7v4m2 1v5m2 12v4m2 5v3m2-122v59m2 20v2m2-34v3m0 17v3m0 47v2m2-36v2m0 19v1m6 5v8m2-72v4m0 52v2m6-34v2m8-35v4m0 22v2m6-22v2m0 37v2m2-23v3m8-71v3m4 21v2m2 52v4m2-18v2m2-44v4m4-24v2m0 23v3m2-80v3m4 97v3m2-38v5m2-47v3m0 69v2m2-80v4m0 40v4m2-100v2m0 9v2m0 74v4m6-8v3m0 12v2m0 19v2m0 7v2m0 0v3m4-32v1m2 21v2m0 10v2m4 11v2m2-56v3m4-10v5m0 41v2m0 6v2m2-26v2m4-38v2m2-21v3m0 18v1m2 38v3m4-51v3m2 20v2m4 99v7m2-99v2m2-33v2m0 56v3m2-107v3m0 32v3m0 22v2m2-30v2m0 22v2m2 6v2m6-15v3m0 20v3m2-48v2m2 32v3m2 13v2m4-23v5m2-7v2m2-53v3m8 40v3m0 14v2m0 16v5m2-81v2m0 19v2m0 4v2m8 8v2m0 26v2m0 93v6m2-145v2m2 55v3m2-2v2m2-5v2m6-28v3m8 57v3m2-15v2m0 17v4m2-17v3m4-8v2m0 38v4m6-76v2m0 7v2m0 13v2m0 17v2m2 1v3m2-38v2m0 31v3m2 6v5m0 19v3m0 4v3m2-104v3m0 40v2m0 4v3m2-63v3m4 64v2m0 12v2m2-39v2m0 44v2m0 15v2m0 11v3m2-168v33m0 67v3m6 60v2m0 25v2m6-40v2m2-25v2m2-89v2m0 112v3m2-91v4m2 96v2m4-59v2m0 42v2m2-77v2m0 73v2m0 4v2m0 18v2m6-12v3m0 7v3m4 7v5m2-20v2m2-13v2m2 0v3m0 19v2m2-49v2m2-94v3m2 41v8m0 94v2m2-55v2m0 15v2m2-60v29m4 29v2m0 32v2m0 5v3m6 0v2m2-3v1m2-36v4m0 0v2m0 2v2m4 1v2m6-8v2m2 21v2m6 21v1m12-24v3m2-6v3m2 6v2m0 3v2m2-54v2m0 52v2m4-43v2m0 0v2m6-5v7m2-15v4m0 20v3m0 7v2m0 21v2m2-29v2m6-1v5m2-64v2m0 61v2m4-13v2m2-25v3m2 31v8m2-43v2m0 7v2m2-32v2m4 19v4m4-46v2m0 16v3m0 35v1m2-99v2m0 64v4m2 24v3m0 8v2m2-36v3m0 27v2m2-54v2m2-13v22m2 54v2m2-56v4m6-1v3m0 17v2m2-50v2m0 35v3m0 8v2m0 4v3m0 7v2m8-59v2m2 48v2m2-132v4m4 55v3m2 17v2m2-60v5m2 25v2m2 40v5m4-109v2m0 93v3m0 10v3m2-90v3m0 24v2m2 14v2m0 84v3m4-35v2m4-81v3m4 20v4m0 6v2m4-16v3m2-15v2m6 7v2m4-39v2m0 2v2m0 47v2m4-57v2m0 24v2m0 40v3m4-119v2m0 66v4m4-23v3m2-35v3m2 15v3m0 48v3m2-80v3m0 65v2m4 3v5m0 9v6m2-44v2m2-101v2m0 62v3m0 13v4m0 33v4m4 37v2m2-7v2m2-170v2m0 73v2m2 20v2m0 21v3m2 33v2m2-31v2m0 32v2m8-63v2m0 17v3m0 43v4m2-68v3m0 17v2m4-20v2m0 49v2m0 9v2m0 25v2m2-88v3m2-34v3m0 80v3m2-42v2m2-37v2m2 47v2m2-23v4m2-16v2m6 115v3m0 18v3m4-144v3m0 32v2m0 16v3m0 3v3m0 26v8m0 6v2m0 8v2m2-83v1m0 10v2m0 51v2m6-124v3m0 89v3m4-38v4m0 40v2m2-82v2m0 89v5m2-117v2m0 39v2m0 29v4m6-50v3m0 65v4m6-11v2m0 27v2m2-31v2m0 20v3m0 55v1m8-30v3m6-1v2m0 68v3m0 5v2m2-103v2m0 29v2m2-57v3m0 39v2m2-37v4m2 20v3m0 13v4m4-52v3m0 29v3m0 36v2m2-14v2m0 4v1m0 4v2m6-60v3m4 15v2m2 46v2m4-134v2m2 111v3m0 65v2m4-83v3m2-40v2m2 78v2m0 13v4m2-55v2m2 5v2m2-35v5m12 17v4m0 27v3m4-45v3m10 13v3m2 14v2m2 35v2m0 4v2m2-64v2m0 21v2m0 20v1m6 2v5m2-64v3m0 21v3m0 2v1m0 17v2m4-39v2m8 24v6m12-23v2m2 1v2m6 43v2m2-72v4m0 11v3m0 11v3m2-2v5m0 36v2"/>
<path stroke="#6EC5C5" d="M0 926v1m4-63v2m2 17v5m2-11v4m2 29v4m2-50v6m0 5v3m0 9v5m2-38v2m2 5v3m2 27v3m8-50v5m4-7v4m4-63v2m0 48v4m0 29v6m2-22v3m0 30v2m2-54v3m2 38v1m4-53v2m0 29v5m0 14v1m2-84v4m2 49v3m0 37v7m4-88v7m4 34v5m4 5v2m4-11v3m2-32v4m0 30v5m2-43v6m0 21v8m6-42v2m2-3v8m2-16v6m6-8v2m4-90v7m0 54v11m4 41v3m0 24v2m2-43v2m0 4v4m2-6v3m2-29v2m0 35v10m2-50v5m2-6v3m2-48v3m4 42v6m2 5v4m2-55v8m0 78v3m2-48v2m0 33v21m2-81v2m0 15v2m0 17v4m6 25v3m10 20v4m2-80v3m2-26v3m0 24v2m0 4v4m2-6v4m0 20v4m0 38v6m0 13v3m2-68v3m4-134v4m0 99v2m2-92v3m0 67v6m0 1v7m2-64v5m0 51v3m0 39v4m0 4v4m2-53v4m0 7v3m0 3v3m2 119v24m2-158v8m4-7v2m4-41v11m2-28v2m0 47v6m0 5v3m2-31v2m0 29v5m0 5v7m2-68v5m0 83v8m2 46v4m2-99v4m0 133v3m2-150v4m0 21v3m10-5v2m2-18v8m2-61v13m2 20v3m0 3v3m4-1v2m0 19v3m2-11v3m2-40v3m2 7v4m0 30v4m0 51v2m2-53v4m0 106v17m4-164v5m0 28v3m0 14v2m2-92v3m0 26v3m0 2v4m0 52v2m4-12v6m6-44v3m0 35v2m0 5v3m0 108v36m2-180v4m0 48v4m6-86v3m2-21v9m0 89v3m2-77v2m2 51v8m0 30v2m4-38v5m0 49v3m0 12v7m0 3v3m2-59v6m0 75v4m2-118v2m0 12v3m0 23v2m2 9v4m4-3v3m2-39v7m2-117v4m2 117v3m4-80v20m0 36v4m0 25v7m0 10v4m2 14v4m0 12v5m2-119v3m0 44v8m0 46v2m4-31v3m0 35v3m2 10v6m0 2v3m2-10v4m0 3v3m4-8v2m0 2v2m2-66v4m0 4v13m2-59v12m0 19v8m0 8v8m0 11v3m0 30v4m2-77v3m0 11v4m0 2v4m0 56v3m2-105v3m0 53v6m0 2v7m2-1v2m0 80v6m2-123v2m0 4v2m2-73v8m0 6v14m0 10v2m0 79v7m0 13v4m0 2v3m0 0v1m0 0v4m2-172v10m0 46v25m0 39v6m0 34v5m0 0v2m0 0v13m2-32v2m0 19v29m2-85v8m0 30v5m0 10v3m0 0v5m0 0v4m2-64v3m2 13v3m2-6v3m0 10v3m0 20v3m2-13v3m0 19v4m0 0v29m2-42v1m2-54v4m0 9v7m0 28v5m0 16v14m2-138v10m2 38v4m0 65v8m0 0v2m0 0v10m2-66v2m0 45v4m0 4v32m2-110v3m0 49v2m0 21v5m0 0v26m2-77v3m0 41v3m0 6v30m2-37v2m0 5v4m0 0v22m2-33v6m0 2v29m2-82v3m0 0v9m0 15v5m0 24v27m2-33v2m0 0v5m0 0v30m2-39v4m0 0v5m0 0v1m0 0v29m2-70v5m0 10v3m0 21v29m2-64v8m0 12v6m0 2v4m0 0v3m0 3v21m2-69v4m0 17v6m0 13v3m0 0v4m0 3v1m0 0v29m2-30v24m2-104v11m0 0v7m0 36v4m0 24v24m2-69v12m0 16v5m0 0v3m0 0v2m0 0v3m0 0v4m0 0v27m2-37v3m0 0v2m0 0v2m0 2v28m2-30v26m2-30v2m0 2v25m2-76v2m0 3v3m0 5v2m0 14v4m0 11v2m0 8v29m2-44v2m0 5v3m0 5v1m0 0v30m2-63v6m0 16v4m0 0v4m0 0v3m0 0v26m2-62v2m0 24v4m0 0v4m0 0v2m0 0v23m4-69v2m0 28v4m0 4v2m0 0v5m0 0v1m0 0v35m2-77v3m0 13v3m0 13v4m0 0v6m0 0v22m2-33v3m0 0v5m0 4v22m2-76v2m0 2v8m0 31v7m0 2v27m2-99v3m0 24v3m0 32v3m0 7v2m0 0v20m2-31v6m0 0v2m0 0v25m2-92v3m0 4v5m0 12v7m0 26v4m0 5v25m2-31v5m0 0v3m0 0v27m2-39v5m0 0v3m0 0v33m2-74v4m0 9v3m0 24v4m0 1v23m2-49v4m0 12v2m0 4v3m0 0v2m0 0v23m2-91v3m0 14v2m0 26v5m0 11v4m0 0v1m0 0v29m2-88v5m0 43v5m0 3v34m2-40v3m0 0v16m2-86v3m2 19v2m0 16v5m2-28v5m0 8v6m0 6v13m2-39v3m2-10v4m0 10v2m0 12v3m4-17v4m0 10v3m2-41v8m2-38v7m0 40v2m2-27v9m2-5v2m2-17v6m0 5v3m2-52v3m0 9v4m4 30v8m0 15v5m2-37v3m0 4v4m8 31v4m2-15v4m0 3v3m2-47v4m0 27v3m2-40v3m2 38v3m0 22v1m4-53v5m2 27v6m2-56v3m2-40v5m0 46v8m2-94v2m0 21v2m0 46v4m4-22v5m0 6v4m4-56v7m0 21v3m4 37v3m2-29v3m2-27v2m2 9v8m0 22v2m4 22v3m2-33v4m2-25v2m0 57v3m0 12v30m4-114v3m0 11v2m0 4v3m2-25v4m0 22v3m0 5v5m0 26v10m2-93v4m0 34v4m4 6v5m4-46v3m0 69v1m2-40v4m2-80v7m0 5v10m0 17v5m0 43v10m2-16v1m2-67v3m0 2v3m0 38v2m4-93v2m0 21v6m0 39v6m4-1v3m0 2v8m4-86v8m0 101v9m2-111v4m0 13v3m0 6v3m0 42v7m0 23v2m0 6v3m2-67v6m0 5v3m2 7v7m0 40v2m2-101v3m0 66v4m0 14v3m2-23v5m2-74v5m2 16v4m2-73v6m0 12v7m0 27v3m0 80v6m0 10v4m2-172v7m0 93v5m2-20v2m0 72v2m2 4v2m4-59v5m0 18v2m0 17v5m0 5v2m6-94v4m0 55v3m2-24v3m4 41v2m0 33v4m2-114v6m2 64v9m4-94v5m0 23v2m0 71v2m10 20v9m4-65v3m2 27v4m2 59v3m4-59v2m2-82v2m0 35v13m0 34v2m6-54v4m0 4v3m0 45v2m0 3v3m2-24v2m6-59v4m0 82v2m2-90v11m0 13v5m0 17v2m0 15v4m4-50v5m0 30v6m0 23v6m0 16v4m2-106v9m0 7v5m6 89v3m2-60v3m4 28v3m0 20v8m4-54v3m6 76v3m2-74v4m2-25v6m2-2v4m0 40v5m2-47v5m0 59v5m2 11v3m2-56v6m0 9v5m0 15v3m4-19v6m2-9v3m4-116v9m0 12v3m0 51v11m0 30v3m2 2v4m0 6v4m0 51v2m2-48v9m2-10v3m2-46v6m0 39v6m0 27v5m2-51v2m0 41v6m2-98v5m2-74v3m0 0v8m0 50v6m0 55v4m2 20v8m2-41v4m0 18v8m4-28v2m0 13v12m0 33v3m2-14v3m4-63v2m0 0v2m2 7v6m4-23v2m0 11v2m0 37v2m4-21v5m0 23v3m4-59v12m2 4v3m0 9v8m0 21v3m2-34v2m2 14v3m0 4v3m2-30v5m0 4v5m2 5v4m0 13v4m2-14v2m0 3v4m2-48v3m0 8v3m0 13v4m0 33v2m4-54v3m0 14v3m0 15v2m0 4v8m2-67v14m0 18v2m2-50v2m0 7v5m0 6v7m2 21v6m0 20v2m2-9v5m6 2v3m0 12v1m6-54v2m0 5v4m0 7v5m4-8v2m0 27v6m4 2v6m2-67v4m0 26v4m0 5v2m2 21v6"/>
<path stroke="#4BB3CA" d="M0 903v5m2-43v2m0 2v4m0 19v4m0 2v10m2-42v2m2 47v4m2-47v5m0 15v9m2-40v2m0 8v6m0 18v15m2-38v3m0 6v3m0 16v9m0 3v4m2-27v4m2-10v5m0 18v2m2-61v9m2-15v3m0 51v1m4-32v3m0 5v3m0 3v5m0 0v7m2-39v6m2-8v5m0 16v4m0 0v5m0 6v10m2-47v4m4-29v3m0 4v3m2 40v4m2-52v2m0 7v3m0 4v3m2-23v6m0 4v3m0 10v9m2-30v10m0 13v6m4-105v14m0 32v17m0 41v3m0 9v5m0 11v4m2-45v2m0 13v5m0 2v6m2-34v9m2-5v6m0 9v5m0 4v3m2-47v6m0 3v5m0 3v3m0 18v13m2-53v11m2 5v30m2-34v3m0 11v5m0 3v2m4-49v3m2 2v6m0 6v2m0 15v3m2-36v2m0 26v3m2-3v3m0 9v10m2-53v5m0 13v4m0 2v13m2-11v5m2-13v4m2 8v6m2-43v4m4-96v11m0 21v12m0 24v9m0 22v5m2-67v5m0 3v5m0 5v8m0 2v5m0 13v14m2 11v3m2-14v5m0 7v2m2-26v7m0 37v4m0 3v6m2 6v4m2-51v4m0 6v4m0 4v3m2-38v3m0 13v3m2-20v6m0 17v5m0 25v3m0 25v2m0 0v10m2-106v3m0 26v4m0 15v7m2-141v6m0 37v3m0 17v8m0 5v17m0 12v5m0 4v11m0 3v7m2-80v13m0 5v8m0 8v10m2-11v3m0 9v12m2-25v2m0 2v6m0 9v4m0 4v10m2-56v5m0 3v4m0 2v3m0 17v7m0 25v3m2-95v6m0 14v16m0 4v10m0 20v3m2-101v16m0 35v2m2-20v7m0 3v5m0 8v6m0 35v3m4-57v3m0 22v8m0 61v4m4-49v12m0 14v6m0 15v2m0 0v2m2-50v5m0 7v4m0 26v3m0 18v4m4-84v4m0 49v3m0 13v4m2-99v2m0 16v7m0 0v10m2-69v5m0 11v10m0 29v4m0 9v4m2-28v8m0 17v12m0 24v5m2-79v9m4-82v2m0 51v9m0 48v5m2-91v25m0 10v3m2-36v11m0 26v3m0 30v4m0 31v8m2-108v8m0 18v8m0 17v2m2 20v14m0 2v59m0 0v13m0 1v20m2-165v11m0 18v3m0 18v5m0 0v6m0 0v21m0 0v41m0 0v28m2-123v6m0 38v38m0 0v36m0 0v9m2-115v4m0 14v20m0 4v48m0 10v4m2-76v39m0 0v31m0 0v6m2-107v10m0 8v24m0 3v60m0 0v2m2-202v8m0 19v2m0 13v5m0 0v4m0 23v11m0 16v7m0 6v11m0 0v44m0 3v26m0 0v10m0 0v14m2-131v4m0 23v34m0 0v9m0 0v10m0 0v22m0 0v15m0 0v22m0 0v3m0 0v2m2-173v26m0 11v4m0 9v7m0 0v19m0 8v75m0 0v11m2-181v9m0 45v3m0 6v27m0 0v7m0 0v13m0 0v7m0 3v21m2-70v12m0 0v16m0 0v19m0 0v24m0 0v16m0 0v17m0 0v8m2-143v6m0 13v2m0 6v18m0 4v21m0 0v45m2-99v6m0 5v9m0 0v29m0 0v26m0 0v7m0 0v8m0 0v27m2-151v4m0 7v10m0 5v9m0 20v9m0 0v10m0 0v33m0 2v13m0 0v30m2-204v4m0 15v2m0 80v38m0 16v17m0 0v17m0 0v13m2-157v6m0 8v6m0 17v3m0 13v10m0 0v31m0 0v20m0 0v45m0 3v11m2-127v4m0 0v13m0 0v14m0 0v12m0 0v20m0 0v6m0 2v40m2-140v2m0 38v16m0 0v6m0 3v66m0 0v13m0 0v7m2-206v5m0 37v3m0 15v7m0 2v3m0 31v42m0 0v13m0 0v11m2-159v4m0 25v5m0 11v5m0 8v7m0 9v9m0 0v72m4-107v4m0 20v2m0 10v67m0 0v20m0 0v5m2-128v6m0 31v67m0 0v28m2-217v8m0 33v16m0 17v12m0 8v8m0 5v11m0 13v11m0 2v9m0 0v31m0 2v13m2-105v3m0 21v2m0 6v22m0 10v8m0 2v18m0 0v28m2-149v4m0 3v5m0 32v9m0 6v70m0 0v8m0 0v13m2-119v4m0 5v6m0 3v2m0 8v10m0 0v9m0 0v65m2-123v4m0 39v18m0 0v20m0 0v33m2-165v12m0 9v2m0 55v2m0 2v2m0 5v3m0 2v18m0 0v10m0 3v25m0 3v29m0 0v11m2-119v7m0 0v2m0 3v2m0 11v40m0 0v12m0 0v19m0 0v11m0 2v6m0 8v18m2-157v3m0 28v7m0 0v19m0 2v7m0 0v27m0 0v22m0 0v3m2-155v3m0 47v5m0 33v7m0 0v28m0 2v8m0 2v6m2-136v12m0 33v5m0 12v2m0 13v14m0 0v47m0 0v18m2-143v7m0 5v3m0 17v3m0 5v2m0 20v15m0 0v37m0 0v9m0 0v19m0 0v11m2-108v6m0 0v7m0 7v17m0 0v13m0 0v21m0 0v11m0 0v9m4-122v7m0 50v67m2-152v6m0 35v4m0 8v8m0 5v6m2-88v20m0 34v6m0 5v12m0 8v4m0 13v4m2-89v5m0 37v13m0 24v16m2-36v5m4-37v2m0 17v2m0 10v12m0 24v11m0 38v2m4-81v4m2 4v3m2-20v2m0 0v3m0 2v5m0 11v10m2 22v6m0 14v9m0 5v10m2-102v2m0 31v2m0 19v3m2-156v27m0 0v5m0 7v6m0 10v21m0 30v6m0 9v4m0 3v3m0 10v3m0 4v6m2-34v3m0 3v4m0 16v2m0 15v12m4-85v6m0 17v4m2 25v2m0 39v2m2-120v3m0 3v11m0 19v8m4-8v5m0 12v6m0 78v4m0 6v15m2-53v9m2-2v5m0 4v3m0 3v2m0 8v3m2-41v3m0 7v4m2-29v4m0 5v8m0 36v3m2-44v3m0 0v2m0 10v3m0 8v4m0 5v4m0 5v10m2-152v6m0 2v5m0 22v9m0 21v5m0 42v6m2-133v7m0 2v10m0 28v17m0 3v8m0 13v3m0 45v2m0 3v3m2-28v6m0 16v11m0 5v2m0 1v3m2-37v4m0 53v3m0 0v8m2-55v3m0 20v4m2-158v7m0 10v4m0 14v8m0 22v4m0 5v3m0 4v8m0 10v3m0 3v8m0 23v5m2-72v3m0 3v5m0 34v5m2-70v8m0 37v9m0 13v14m2-6v3m2-42v6m0 6v5m0 15v7m0 5v6m0 5v5m2-37v5m2-9v11m2 29v2m0 4v13m2-36v3m0 3v19m2-42v4m0 7v2m0 7v3m0 21v16m2-126v2m0 45v2m0 20v8m0 11v4m2-17v8m2-2v4m0 8v4m2-44v2m0 0v3m0 0v11m0 22v6m0 12v4m2-20v6m2-14v7m0 35v5m2-21v5m2-20v11m0 17v4m2-23v3m0 12v3m4-8v4m0 6v10m2 1v3m2-36v3m2-10v8m0 13v2m2-31v6m0 14v7m0 9v6m0 2v11m2-22v4m2-13v3m0 5v5m2-44v5m0 24v4m0 14v12m2-59v7m0 38v5m2-27v8m0 19v2m0 6v4m2-47v2m0 10v3m2-24v5m0 25v11m2-18v7m0 5v4m4-26v2m0 17v3m2-26v6m0 3v3m0 20v6m2-31v9m0 5v5m0 19v4m2-52v2m0 8v2m0 13v3m2-20v21m0 8v3m2-48v10m0 15v3m0 12v6m2-5v4m2-24v6m2 0v11m2-28v3m0 26v2m2-21v7m2 3v4m2-48v6m0 15v3m0 16v20m2-28v3m0 8v7m2-52v9m0 4v13m0 3v4m0 12v3m2-27v3m0 4v9m4-42v11m0 3v4m0 26v9m2-59v6m0 3v2m0 41v8m2-17v5m0 2v2m4-69v2m0 30v7m0 9v3m2-46v8m0 10v6m0 14v4m2-36v5m0 15v6m0 14v6m2-29v3m0 4v2m2-58v3m0 29v2m2-68v5m0 52v5m2 35v5m0 3v2m4-60v4m0 11v4m0 52v4m2-45v5m0 5v3m0 12v4m2-11v8m2-50v3m0 7v3m2 15v3m2-50v8m2 32v2m0 17v7m0 8v6m2-14v7m0 9v7m2-69v11m0 32v16m0 1v30m2-82v2m0 22v5m2-25v3m0 11v7m2-17v13m0 3v4m0 12v4m0 0v2m2 3v3m0 0v3m2-143v3m0 44v4m0 9v9m0 8v6m2-89v3m0 2v7m0 28v6m0 19v9m0 10v6m2-51v18m0 14v3m2-34v7m0 24v3m2-60v3m0 11v6m0 7v21m0 12v3m0 24v3m0 19v1m2-119v10m0 7v2m0 8v6m0 22v6m0 2v3m2-28v12m0 18v8m2 23v7m2-113v3m0 41v5m0 13v4m0 2v2m0 6v2m0 16v5m0 28v3m0 3v10m2-93v8m0 3v2m2-29v4m0 16v3m0 2v10m0 36v2m0 17v2m4-39v9m0 11v2m0 8v2m0 5v7m2-114v5m2 35v2m0 4v4m0 2v6m0 23v3m0 21v1m2-74v6m0 4v3m2 0v3m2 11v9m2-57v5m0 38v2m0 14v3m2-91v6m0 16v14m0 68v2m2-70v11m0 36v3m4-74v13m0 20v2m0 15v16m0 12v9m2-114v18m0 17v7m0 17v10m2-21v2m0 9v2m0 10v3m2-78v8m0 57v3m0 10v4m2-56v3m0 61v2m4-73v9m0 3v3m0 19v3m0 22v3m4-68v5m0 4v6m2-35v3m0 25v7m0 3v2m0 53v2m2-127v10m0 16v5m0 18v6m0 15v5m0 34v4m2-102v5m0 7v6m0 10v4m0 29v3m0 6v9m0 19v2m0 13v4m2-113v14m0 4v14m0 39v5m0 15v5m0 0v3m0 2v6m2-86v5m0 17v2m0 7v4m0 6v8m0 7v4m0 11v7m2-42v6m0 2v5m0 45v4m2-153v14m0 42v3m0 23v3m0 4v8m0 71v2m2-113v6m0 6v3m0 6v4m0 58v10m2-54v2m0 14v7m0 21v7m2-135v8m0 37v9m0 5v9m0 25v6m0 5v17m0 12v4m0 9v5m2-171v10m0 15v9m0 7v6m0 21v5m0 17v3m0 34v6m2-80v2m0 10v8m0 20v12m0 22v7m2-50v2m2-9v4m0 3v4m0 66v2m2-44v5m0 9v3m0 23v1m2-85v12m0 6v11m0 3v6m0 5v5m0 8v4m2-27v3m0 11v3m2-79v5m0 21v3m0 3v9m0 5v3m0 10v8m0 45v5m0 14v4m0 0v8m2-68v14m0 19v3m4-78v9m0 24v3m0 5v9m0 25v4m0 12v6m2-90v4m0 55v5m2-63v12m2-8v4m0 28v4m0 43v4m2-82v17m0 6v27m2-39v3m0 0v3m0 8v3m0 16v8m2-53v5m0 18v5m0 28v2m2-62v5m0 13v7m0 28v5m4 18v12m2 20v7m0 29v3m2-93v3m0 13v11m2-84v7m0 41v4m2 17v14m0 48v5m6-140v4m0 2v5m0 3v17m0 6v4m0 13v5m0 13v8m0 19v6m4-63v3m0 26v5m2-46v3m0 40v8m2-147v7m0 30v3m0 2v12m0 64v8m0 18v3m0 14v3m0 11v5m0 0v3m0 10v4m2-73v2m0 30v5m0 5v12m4-63v11m0 3v13m0 10v2m2-56v9m0 5v8m0 43v5m2-46v3m0 18v3m0 26v2m2-47v8m0 8v17m0 14v5m0 18v3m2-89v6m0 18v6m0 54v6m0 4v3m6-73v8m0 5v4m0 7v7m0 26v2m0 3v9m0 12v3m2-81v9m4 39v3m2-27v7m0 3v2m0 36v7m0 5v2m0 6v16m0 28v8m2-120v4m0 14v8m0 3v5m2-48v3m0 24v2m0 18v5m0 3v5m2-33v9m0 5v7m2-36v3m0 22v3m0 2v2m0 39v13m2-63v3m0 5v4m2-39v8m0 3v4m0 13v8m2-52v9m0 24v5m0 15v3m0 11v4m2-65v10m0 39v4m2 22v1m2-89v23m0 50v4m0 8v4m4-91v18m0 29v6m0 8v2m2 6v5m0 8v8m4-162v9m0 26v6m0 12v7m0 54v11m0 12v7m0 2v3m2-34v12m0 22v4m0 7v2m0 0v6m2-50v5m0 2v3m0 2v3m0 11v5m2-4v3m0 24v2m2-73v4m0 6v2m0 2v7m0 34v4m0 4v10m0 6v3m0 9v6m2-48v8m2-65v7m0 2v14m0 15v4m0 17v2m0 17v6m0 0v1m2-142v8m0 58v8m0 39v3m0 6v14m0 0v3m2-56v3m0 0v12m0 5v8m0 15v3m2 5v7m0 8v3m4 1v3m2-17v4m2-68v3m0 7v9m0 26v7m2-23v4m0 2v3m0 23v3m2-32v12m2-27v2m0 29v12m0 3v2m2-44v6m0 7v8m0 22v3m0 11v3m4-37v12m0 7v4m0 3v5m0 1v4m4-57v5m0 5v2m0 10v3m0 6v4m0 20v16m2-61v3m0 19v9m2 22v4m2-16v11m2-20v11m0 0v4m0 1v3m2-22v5m2 3v4m0 10v4m2-26v2m0 10v3m4-42v10m0 24v4m2-84v4m0 48v2m0 9v8m0 15v3m0 8v6m0 4v2m2-58v13m0 24v4m0 4v2m2-71v6m0 2v2m0 26v4m0 6v3m0 2v5m8-31v2m0 0v3m0 34v3m6-45v3m0 49v4m2-57v2m0 20v2m0 4v11m0 11v13m2-56v5m0 23v3m8-8v9m0 25v4"/>
<path stroke="#2A9DC6" d="M0 877v3m0 7v9m2-18v14m2 3v17m2-15v18m2-34v9m2-13v4m2 13v2m2-13v4m2-9v5m0 5v9m2-10v4m0 3v2m2-43v6m0 5v11m0 12v3m6-41v2m0 18v8m0 6v8m2-54v6m2-8v5m0 17v9m0 0v4m0 11v5m4-121v6m0 6v4m0 19v3m0 43v7m0 3v2m2 0v4m2-18v5m0 9v8m0 8v1m2-41v5m4-14v4m0 15v7m2-90v19m0 76v3m0 26v12m2-81v7m0 20v5m0 2v3m0 13v4m2-24v9m2-47v3m0 16v6m0 15v3m2-21v3m0 34v2m2-62v4m0 47v7m4-48v3m2 13v14m2-39v3m0 28v2m2-3v6m2-19v5m4 6v2m2-35v5m0 4v5m0 2v3m0 10v3m2-12v9m0 0v12m2-9v5m2-58v7m4-78v18m0 15v15m2-74v29m0 0v8m0 20v3m0 5v5m0 20v8m2-86v5m0 32v9m0 31v17m0 9v8m2-15v2m2-15v3m2 20v2m0 6v6m0 16v8m2-33v3m2-22v2m0 22v3m2-27v7m0 7v3m0 9v15m0 3v3m2-77v5m0 25v2m0 3v3m2-93v23m0 12v2m0 39v4m2 7v3m2 22v4m0 3v5m4-85v3m0 29v6m2-47v9m0 43v7m0 10v4m0 25v4m2-176v6m0 16v5m0 4v7m0 23v3m0 6v13m0 14v11m0 4v5m2-86v9m0 3v25m0 10v3m0 19v3m0 5v3m4-32v2m0 3v5m0 5v10m0 13v8m0 34v3m2-63v12m2-3v5m0 58v6m2-56v3m0 27v10m0 21v12m0 4v3m0 1v20m4-102v4m0 37v6m0 3v4m0 13v5m2-108v4m2-29v11m0 15v6m0 37v8m2-67v5m0 92v5m0 17v8m2-94v4m4-92v9m0 51v4m0 18v3m0 11v8m0 21v3m2-154v25m0 6v5m0 4v4m0 47v3m0 29v4m2-64v3m0 30v3m0 25v6m0 17v2m2-105v7m0 38v11m2-5v8m0 2v9m0 123v4m4-135v15m2-5v7m0 79v10m2-120v3m0 24v3m0 0v2m0 2v14m2-43v3m2-92v3m0 11v6m0 10v3m0 44v3m2 2v8m0 24v3m4-23v5m0 15v6m4-47v6m2-9v5m0 20v10m2-29v3m0 4v5m0 26v3m2-103v3m0 42v8m0 8v12m0 8v6m4 11v2m2-23v4m0 13v4m2-20v2m0 18v19m2-92v5m0 17v3m0 5v4m0 26v3m0 7v4m4-17v5m0 21v3m4-121v3m0 91v3m2-31v4m0 10v3m0 4v10m2-48v5m0 11v3m0 14v3m2 8v6m0 15v3m0 4v3m2-32v4m0 13v9m2-33v10m0 64v3m2-56v5m0 14v11m0 90v8m2-134v11m2-50v12m0 126v6m2-88v4m2-36v3m0 9v4m0 5v2m0 23v7m2-34v7m4 6v16m0 4v4m2-96v10m0 13v9m0 3v19m0 8v8m0 8v5m2-59v14m0 55v5m2-52v9m0 2v3m0 20v3m2 26v3m0 4v8m4-30v2m0 10v6m0 11v2m2-64v4m0 14v2m0 7v6m0 8v6m0 29v6m2-86v4m0 2v3m2-8v6m2-1v2m0 3v5m0 20v3m0 17v7m2-43v5m0 22v4m0 8v3m0 7v2m0 6v8m2-100v4m0 11v8m0 21v13m0 1v3m0 6v6m0 17v7m2-136v5m0 11v5m0 42v7m0 10v3m0 20v6m0 24v6m2-75v12m0 26v4m0 5v3m0 8v6m4-41v3m0 12v3m0 30v10m0 2v2m2-70v19m0 7v5m0 2v8m0 14v3m2-87v11m0 30v5m0 2v10m4-45v6m0 61v6m0 14v11m0 2v2m2-69v6m0 11v7m0 39v2m2-50v9m0 2v3m0 12v3m0 6v3m0 28v4m2-53v5m0 17v10m2-35v3m0 14v2m2 43v6m2-152v2m0 7v8m0 24v7m0 24v4m0 0v7m2-83v15m0 39v3m0 13v4m0 10v4m0 2v2m0 2v12m0 11v3m2-77v6m0 13v10m0 0v3m0 26v3m2 8v6m0 1v8m2-23v4m0 4v3m0 8v4m2-96v11m0 11v5m0 39v5m0 23v3m2-178v9m0 47v22m0 28v3m0 13v17m0 20v6m2-92v7m0 23v4m0 30v5m0 2v4m0 16v6m0 6v15m2-65v4m0 53v5m2-46v3m2 28v8m2-16v8m0 2v10m8-135v4m0 19v3m0 0v2m0 55v11m0 11v3m0 5v3m0 4v2m0 21v1m2-72v6m0 4v6m0 29v18m2-18v4m0 6v6m0 19v4m2-57v2m0 43v9m2-39v5m0 35v6m2-40v4m0 21v3m2-39v3m0 0v3m0 5v6m2 17v7m0 6v4m2-52v8m0 22v5m0 10v5m2-51v8m0 5v3m0 5v10m2-1v3m0 10v3m2-14v10m2-1v8m0 10v3m4-47v3m4 4v3m0 24v5m2-10v5m2-69v2m0 5v6m0 34v8m0 24v2m2-54v3m0 35v7m2-31v3m0 2v3m0 12v8m2-31v5m6-17v13m0 10v3m0 6v2m2-6v2m4-31v2m0 19v10m2-65v21m2 2v12m0 23v2m2-17v6m0 15v2m0 20v5m2-29v2m2 13v4m2-2v7m2-52v3m0 34v3m0 13v2m2-54v3m0 13v4m0 0v3m0 11v2m0 5v11m2-49v4m0 15v4m4-33v4m0 20v7m0 12v3m2-68v4m0 6v12m2 10v8m2-11v6m0 7v2m2-18v7m6-58v3m0 25v4m0 37v5m2-51v7m0 27v12m2-76v2m0 14v12m0 32v4m2-45v16m0 24v1m2-60v6m0 8v6m0 49v4m2-97v8m0 3v5m0 50v2m2-45v3m0 45v4m2-2v2m2-19v7m0 11v3m0 5v3m2-31v3m0 14v2m0 19v8m2-3v8m2-63v4m2 36v3m2-49v10m0 16v11m0 7v3m2-40v9m0 21v4m0 29v3m2-37v5m0 18v5m0 0v2m2-72v2m0 2v3m0 29v8m2-41v13m0 4v10m0 7v2m2-33v5m2-29v24m2-20v11m0 13v2m0 35v7m2-105v4m0 28v5m2-50v8m0 8v7m0 11v12m0 0v5m0 15v6m2 0v6m2-66v13m0 0v3m0 11v5m0 18v5m0 32v8m2-85v2m0 46v3m0 22v2m2-54v3m2-23v8m2 10v9m0 11v6m0 21v2m2-109v5m0 38v3m0 44v3m0 16v7m0 12v4m2-110v3m0 45v11m0 25v2m2-72v3m0 46v11m0 4v8m0 4v13m0 2v2m4-89v3m0 16v6m0 4v6m0 4v5m0 40v5m2-119v2m0 3v7m0 46v4m2-32v2m0 14v6m0 54v4m2-82v8m0 5v3m0 26v2m2-35v5m4-9v4m0 4v5m2 0v3m0 3v5m0 8v8m0 2v9m0 23v12m2-63v2m0 11v8m4-53v11m0 10v4m2-52v10m0 70v6m2-83v2m0 27v9m0 2v7m2-4v6m2-59v3m0 3v2m0 19v2m0 16v4m0 2v3m0 0v11m4-115v6m0 91v9m4-62v4m0 58v3m0 5v5m2-98v7m0 53v12m2-59v11m0 38v12m0 16v3m2-60v3m0 14v3m0 21v7m0 28v2m2-58v6m2-24v4m2-28v2m0 22v8m0 38v2m0 26v3m2-110v8m0 5v3m0 35v15m0 46v4m2-99v4m0 48v6m2-44v5m0 37v12m0 16v2m2-122v4m0 4v16m0 34v12m0 36v4m2-163v9m0 43v4m0 9v4m0 3v7m0 15v9m0 31v11m2-86v6m0 87v6m0 4v3m2-48v11m0 16v4m2-74v8m0 5v8m0 13v13m0 13v2m0 7v2m0 0v13m0 2v10m2-46v6m0 5v6m0 9v3m2-17v3m0 12v7m2-55v3m0 9v4m0 3v6m0 13v10m0 3v5m2-97v17m0 45v4m0 23v4m2-48v3m0 36v19m4-87v4m0 17v3m0 2v8m0 16v3m0 18v8m0 31v6m2-72v4m2-32v4m0 17v5m0 15v4m0 2v7m2-42v6m0 18v4m0 4v3m0 13v4m0 2v11m0 16v3m2-95v4m0 54v6m0 5v2m0 11v3m2-60v8m0 11v3m2-7v2m2-57v11m0 12v4m0 4v5m0 7v9m0 9v3m0 14v2m4 8v6m2-8v9m0 19v3m0 16v8m0 8v11m4-138v4m0 43v8m0 5v3m0 24v4m0 17v8m2-117v3m0 4v19m0 11v4m0 0v6m0 30v7m4-33v6m0 2v7m0 0v3m0 7v5m2-80v3m0 91v5m4-55v9m2-53v7m0 43v6m2-126v5m0 4v6m0 2v5m0 5v3m0 21v8m0 7v3m0 8v11m0 2v7m0 26v12m0 14v3m0 5v5m2-53v6m0 4v5m0 11v4m0 32v6m4-92v4m0 8v11m0 39v16m2-76v4m0 57v5m2-33v4m0 0v6m0 2v4m0 16v9m0 14v4m2-62v3m2-22v6m0 69v4m0 2v7m0 15v3m0 11v3m0 5v14m6-70v3m2-17v3m0 13v16m4-21v12m2 13v7m0 3v6m0 14v6m0 20v7m2-47v3m2-80v3m0 3v6m0 12v4m0 28v6m2-30v6m2 25v19m0 29v2m2-76v11m0 18v2m2-63v6m0 8v2m0 8v3m0 4v7m0 30v4m2-63v2m0 34v6m0 7v7m2-62v3m2 40v5m0 9v14m2-58v2m0 3v4m0 20v5m0 2v8m4-34v6m2-17v10m0 42v6m0 13v4m4-130v12m0 7v19m0 51v2m0 24v3m2-59v11m0 42v5m0 21v10m0 11v4m0 2v8m4-63v8m0 11v2m2-74v3m0 24v4m0 3v5m0 51v2m2-45v5m0 8v8m0 20v2m0 10v1m2-124v5m0 40v4m0 2v5m0 23v17m2-141v6m0 8v26m0 23v7m0 12v6m0 4v3m0 5v7m2-38v11m0 24v3m0 10v5m0 6v4m0 16v3m2-70v5m0 6v7m0 14v7m0 41v5m6-60v13m0 30v4m2-18v8m2-46v9m0 13v7m2-16v3m0 12v3m0 6v2m0 13v12m2-61v9m0 9v9m0 24v5m2-80v8m0 5v11m0 41v4m0 3v5m4-49v3m0 5v2m4 15v3m0 11v6m0 4v6m2-42v3m2 53v6m2-59v5m0 41v2m2-33v4m2 25v5m4-75v2m0 39v8m0 7v5m4-22v3m2-58v4m0 5v3m0 21v7m0 23v6m0 16v4m2-57v7m2 20v2m2 24v7m6-34v10m0 2v5m6-1v19m2-47v5m2 36v8m4-35v8m0 6v3m2-40v9m0 18v3m2 0v3"/>
<path stroke="#1187C5" d="M0 866v11m0 3v7m0 23v2m4-30v6m0 30v3m2-43v5m4 37v5m2-9v1m2-54v6m0 11v3m0 13v1m2-33v3m0 33v3m2-26v5m0 19v3m2-85v14m0 11v9m6-13v4m0 13v10m0 11v5m0 15v2m2-57v6m0 7v10m2-12v3m0 13v11m4-96v7m0 25v6m0 17v3m2-2v3m0 23v6m0 6v4m4-30v9m0 0v4m2-31v6m0 11v3m0 11v6m2-55v3m0 9v15m0 14v7m0 2v3m2-86v3m0 23v15m0 9v3m2-29v3m0 0v5m0 14v8m2-16v5m2-9v4m0 20v4m2-32v2m0 31v4m2-24v11m2-23v4m0 0v8m2-7v4m0 5v4m2-25v8m2-2v4m0 2v8m0 2v9m2-19v12m2-15v3m4-16v2m6-3v7m0 4v13m2-58v13m0 14v3m0 10v8m0 22v4m4-151v3m0 0v5m0 59v9m0 9v6m2-59v9m0 30v2m0 35v7m2-98v25m0 9v3m0 8v3m0 39v4m2-21v6m0 17v7m2-26v2m0 7v3m0 2v18m0 3v7m6-38v2m2 50v3m0 2v20m2-100v4m0 15v2m0 21v12m2-128v11m0 32v6m0 2v6m0 8v3m0 19v3m0 14v2m0 13v3m2-77v4m0 13v5m0 8v4m0 14v8m2 5v5m0 3v12m2-35v5m2-38v4m0 17v2m0 12v3m0 20v4m2-88v2m0 54v8m0 7v3m2-125v6m0 2v3m0 37v2m0 5v4m0 13v6m0 28v6m2-99v7m0 9v3m0 43v4m0 33v12m0 3v7m0 5v5m4-85v2m0 42v3m0 10v5m0 16v2m0 14v4m2-57v5m2-14v5m0 10v13m0 12v14m0 10v3m2-21v3m0 15v4m0 31v1m4-91v3m0 14v4m0 5v6m0 6v3m2-58v6m0 23v14m2-46v6m0 0v2m0 0v4m0 33v11m2-71v17m0 48v4m0 7v7m0 12v6m0 6v5m0 11v3m2-108v5m0 10v5m0 2v7m4-119v4m0 20v35m0 15v9m0 12v4m2-42v7m0 32v2m0 2v3m2-53v9m0 3v9m0 6v3m0 34v4m0 2v4m2-77v12m0 2v2m2 37v11m2-61v3m0 16v11m0 0v5m2 20v23m2-21v7m0 20v4m2-59v12m0 2v10m2-37v8m0 29v4m2-118v3m0 3v3m0 14v3m0 3v4m0 27v5m0 4v4m0 31v3m0 10v3m0 58v3m2-110v3m0 2v3m0 25v6m2-42v3m0 29v6m0 6v9m2-52v3m0 3v11m0 5v3m0 8v12m2-4v21m2-42v4m0 20v3m2-38v20m0 10v8m2-40v3m0 45v13m2-97v9m0 2v11m0 8v8m0 12v8m0 9v14m0 2v8m0 38v16m2-100v4m0 6v5m0 4v2m0 9v13m2-19v6m0 117v2m2-134v3m0 12v4m0 5v8m2-88v3m0 16v16m0 3v5m0 2v4m0 41v6m2-89v13m0 3v3m0 46v3m0 83v4m4-128v9m2-19v4m0 0v11m0 0v5m0 13v3m0 7v5m0 6v3m2-122v4m0 15v27m0 29v6m0 15v2m0 29v11m2-60v6m0 3v4m0 13v4m0 4v10m0 33v8m0 58v5m2-177v4m0 5v11m0 7v3m0 10v11m0 2v5m4-22v7m0 8v6m2-53v6m0 16v11m0 16v11m0 0v6m4 2v4m0 2v3m2-53v10m0 0v25m0 12v24m2-83v2m0 12v24m0 32v2m2-12v5m2-31v5m0 11v10m4-35v4m0 7v11m0 33v3m0 70v2m2-158v4m0 15v3m0 19v4m2-37v3m0 14v9m0 1v7m0 23v6m0 14v2m2-77v23m0 27v7m0 3v12m2 1v5m0 11v4m4-69v17m0 2v3m0 103v3m0 0v30m2-140v14m0 2v7m0 23v26m0 10v2m0 6v2m0 22v2m2-115v9m0 20v6m2-35v7m0 5v3m0 2v5m0 5v4m2-32v3m2-3v10m0 15v4m0 2v4m0 19v4m0 22v3m0 12v2m2-116v8m0 11v5m0 45v2m0 10v5m0 14v2m2-91v9m0 62v8m2-86v3m0 8v6m0 12v3m0 27v5m0 17v3m0 15v7m4-125v19m0 6v5m0 10v8m0 1v4m0 24v3m0 15v6m0 2v4m0 16v1m2-52v5m0 37v2m2-123v7m0 33v8m0 39v6m0 0v10m0 2v5m4-57v12m0 13v3m0 3v5m0 3v4m0 6v7m0 6v2m0 5v5m0 19v3m0 25v3m2-96v6m0 3v2m0 7v3m0 3v8m0 3v3m0 28v3m0 9v2m2-42v6m0 20v3m2-30v7m2-2v7m0 7v2m0 21v9m2-90v4m0 15v14m0 5v8m0 20v2m2-136v3m0 101v2m0 23v16m0 2v4m2-119v3m0 51v7m0 8v2m0 12v4m2-86v19m0 6v2m0 3v8m0 21v2m0 43v2m2-33v3m0 10v2m0 15v9m0 9v11m2-89v7m0 5v2m0 3v11m0 3v4m0 18v3m2-156v17m0 58v4m0 15v4m0 21v3m0 28v3m2-161v9m0 14v7m0 0v14m0 61v4m0 0v2m0 19v3m0 13v4m0 6v8m2-82v4m0 14v19m2 23v5m0 0v2m0 3v4m2-49v3m0 6v3m0 17v4m0 22v3m2-27v5m0 3v8m0 2v8m2-17v6m2-8v5m0 21v4m4-27v5m0 10v11m2-122v5m0 24v7m0 0v6m0 0v22m0 2v6m0 25v3m0 11v14m2-87v9m0 3v9m0 23v5m0 13v6m0 18v8m2-51v4m0 37v5m0 2v6m2-21v5m0 2v5m0 4v3m2-17v5m0 13v6m2-27v10m2 10v9m0 6v2m2-41v4m0 36v4m2-62v6m0 8v12m0 17v3m2-44v3m0 8v5m0 18v8m4-33v3m0 7v6m4-8v3m0 12v9m0 2v2m0 4v16m2-60v7m0 9v4m0 2v5m2 2v6m2-12v6m2-24v5m0 7v12m0 9v4m2-62v5m0 6v6m0 10v5m0 7v6m0 8v12m2-45v3m0 28v3m0 20v3m2-8v5m2-51v3m0 22v2m2 15v8m4-23v3m0 0v3m0 5v6m0 4v4m4-21v2m0 5v4m0 4v3m4-57v8m0 5v7m0 26v6m0 8v7m2-48v6m2-30v2m0 43v6m2-24v3m0 27v4m2-27v4m0 16v2m2-21v3m0 7v8m2-42v2m0 3v13m0 24v6m2-49v4m2-8v6m0 12v12m0 29v3m2-45v9m0 6v5m0 7v5m2-64v4m2-6v6m0 18v4m0 23v2m4-56v5m0 13v3m0 13v3m2-25v4m0 18v10m0 5v4m0 8v1m0 0v4m2-35v4m0 5v4m2-8v3m2-62v7m0 7v4m0 2v3m0 23v9m0 3v6m2-56v4m0 15v3m0 14v4m2-56v7m0 0v7m0 26v4m2-7v4m0 11v5m2-22v23m0 5v3m2-76v4m0 5v12m0 16v3m0 17v22m2-67v4m0 4v5m0 5v14m0 6v3m0 24v6m2-31v5m0 11v2m0 5v4m0 2v1m2-59v4m0 20v6m0 18v6m0 8v2m2-35v3m0 8v7m0 14v3m0 5v5m2-53v7m0 6v4m0 12v5m0 11v3m0 2v3m2-67v3m0 9v3m2 4v2m0 7v4m0 13v8m2-68v5m0 10v12m2 10v2m0 16v8m2-49v6m0 2v6m0 10v3m2-50v8m0 47v3m2-54v4m0 39v3m2-17v3m0 15v8m0 4v5m2-52v18m0 20v3m2-37v13m0 7v15m0 11v7m0 8v5m2-145v16m0 4v9m0 7v8m0 44v8m0 0v2m2-84v3m0 9v5m0 50v8m2-41v4m0 29v3m2-46v4m0 56v4m2-94v4m0 68v3m0 3v2m0 7v3m0 10v3m2-96v8m0 6v3m0 30v4m0 0v3m2-23v2m0 30v8m2-93v51m0 13v5m0 23v6m2-97v8m0 6v19m0 14v5m0 13v4m0 25v2m0 10v9m2-100v12m0 5v4m0 2v7m0 29v14m2-22v5m0 50v10m4-98v16m0 16v4m0 7v6m2-87v3m0 19v15m0 2v13m0 28v4m0 6v9m2-22v14m0 3v4m0 3v5m0 11v5m2-101v6m0 14v3m0 27v4m2-25v3m2-12v4m0 2v3m0 0v13m0 3v5m0 24v7m2-77v3m0 26v3m0 4v10m0 2v3m0 7v4m2-82v14m0 22v8m0 16v5m0 38v4m2-59v4m4-56v10m0 66v4m0 2v6m2-32v2m0 4v5m0 0v3m0 6v3m2-90v5m0 22v3m0 7v5m0 20v3m0 3v6m0 2v2m0 13v8m2-101v6m0 5v38m0 2v6m2-34v8m0 18v3m0 22v5m0 17v8m4-152v5m0 18v13m0 6v6m0 7v4m0 15v5m0 32v3m4-56v2m0 13v9m0 21v6m2-66v15m0 15v5m0 0v2m0 3v3m0 14v3m0 5v16m0 4v4m2-111v6m0 5v4m0 23v5m0 2v5m0 5v4m0 20v4m0 27v3m2-117v3m0 13v4m0 13v9m0 7v5m0 66v2m2-137v14m0 14v4m0 14v17m0 6v5m0 16v15m0 19v6m0 4v4m2-96v10m0 11v3m0 4v4m0 21v6m0 12v2m0 11v3m2-87v15m0 10v4m0 13v7m0 0v10m0 8v10m0 21v1m0 0v2m2-146v5m0 3v3m0 2v9m0 2v5m0 19v10m0 56v19m2-74v2m0 4v4m0 0v9m0 10v8m0 10v2m0 3v5m0 22v15m2-86v5m0 17v6m0 37v7m2-123v2m0 16v3m0 14v3m0 9v3m0 17v5m2-136v5m0 28v15m0 13v3m0 20v5m0 35v3m2-49v8m0 17v8m0 2v3m0 12v4m0 5v8m0 25v5m2-80v10m0 4v7m0 39v6m0 11v9m2-94v5m0 12v3m0 4v2m2 8v3m0 34v8m2-61v4m0 11v3m0 28v3m2-43v4m0 20v3m0 3v3m0 12v3m0 5v4m2-22v10m0 9v8m0 15v5m2-66v3m2 7v6m2-54v4m0 14v2m0 10v9m0 17v4m2-62v4m0 6v3m0 6v14m0 13v6m0 3v5m0 4v6m0 0v2m2-63v3m0 16v5m0 15v5m0 16v5m0 14v1m2-55v12m0 13v9m0 24v4m0 12v4m2-116v8m0 73v5m0 5v3m0 2v3m2-43v5m2-32v4m0 3v5m0 11v5m0 2v14m2-60v5m0 11v2m0 26v6m0 3v7m4 1v3m0 6v7m0 18v3m0 14v9m0 3v2m2-66v10m0 17v12m0 10v4m0 17v5m0 14v2m2-118v14m0 3v8m0 6v8m0 16v5m2-75v21m0 17v2m0 29v4m0 20v6m0 12v3m2-119v4m0 19v10m0 15v7m0 26v7m0 0v5m0 10v4m0 12v3m4-82v4m0 24v3m2-89v5m0 59v4m0 2v4m4-40v13m0 22v5m0 13v7m0 7v5m2-81v8m0 5v3m0 11v9m0 2v3m0 20v4m2-129v2m0 5v5m0 22v2m0 8v7m0 3v8m0 24v5m0 36v7m2-52v7m0 20v9m0 10v3m0 8v5m4-70v3m0 0v5m0 38v6m0 22v1m2-40v4m0 0v8m0 7v3m2-7v4m0 24v3m0 9v2m2-95v7m0 5v19m0 36v4m0 17v5m2-93v7m0 17v6m0 2v4m0 14v8m0 2v2m0 46v4m0 8v8m0 4v5m6-78v5m0 31v4m0 16v10m2-67v4m4 31v2m0 15v8m2-29v9m2-43v3m0 2v11m0 12v6m2-44v3m2 17v9m0 6v4m0 23v5m2-40v9m0 7v6m0 43v3m2-76v2m0 7v6m0 14v5m2-40v3m0 43v11m0 4v3m0 4v5m2-73v4m0 12v2m0 49v4m2-66v7m0 6v3m0 3v14m0 10v3m0 5v12m2-42v9m0 8v4m0 16v4m2-44v6m0 10v2m4-41v7m0 14v4m2-42v8m0 4v7m0 12v16m0 7v12m0 21v3m4-147v10m0 51v2m0 14v11m0 0v8m0 14v2m0 19v7m0 10v2m2-70v2m0 11v4m0 74v2m0 26v7m2-96v2m0 32v2m0 4v7m2-46v4m0 3v9m0 17v2m0 10v2m2-39v13m0 24v4m2-39v3m0 46v3m2-111v6m0 14v2m0 14v4m0 27v5m2-64v5m0 25v4m0 55v1m2-68v4m0 59v3m2-58v4m0 14v5m0 21v6m0 9v3m0 0v5m4-20v13m0 3v8m0 3v2m2-63v2m0 16v18m0 0v3m2-56v7m0 9v18m0 28v5m2-37v2m0 12v9m0 11v8m2-18v11m2-39v6m0 0v2m0 9v2m2-6v14m4-30v3m0 6v4m0 17v4m0 20v1m4-73v3m0 29v5m0 23v4m2-8v4m2-27v5m0 2v23m2-14v3m2-33v6m0 17v2m2 21v10m2-34v2m0 0v8m0 15v2m0 5v3m2-74v3m0 53v3m4-47v5m0 28v3m2-57v5m0 6v2m0 55v6m2-85v2m0 8v7m0 50v11m2-34v10m0 30v12m2-24v3m0 8v9m6-31v4m0 10v2m0 21v4m6-62v4m0 11v6m0 10v5m0 3v2m2-23v3m0 28v8m0 13v2m0 0v3m2-40v5m4-20v4m0 0v3m0 21v3m2-63v7m2 24v9m0 0v4m0 19v4"/>
<path stroke="#FDC591" d="M1 874v3m2 12v2m4-23v3m8-17v2m6 19v2m14-39v2m26-14v3m2-22v1m10-12v1m2 29v2m6-7v4m6-65v2m0 35v2m4-22v3m4 6v4m0 0v3m4-11v2m6-69v3m2 109v2m10-127v4m4 63v2m18-70v11m0 108v4m8-73v2m4 1v2m6-13v2m12 90v3m4-1v2m0 20v5m8-118v1m0 24v4m4-15v5m0 67v3m4-60v3m10 2v2m12-60v2m8 150v5m4-111v4m6 14v3m0 24v6m14-22v4m6 56v6m2-30v3m4-45v3m12 98v28m6-48v2m0 9v2m2-53v3m0 2v2m0 18v2m0 12v4m2-161v2m0 164v3m2-54v2m0 48v3m4-35v3m0 7v3m4-21v4m12 12v3m4 12v2m2-52v2m10 33v2m10 7v5m18 23v2m4 4v2m2-7v2m18-16v3m0 35v2m2-40v2m0 9v2m4-17v2m8 45v2m2-19v2m2-50v2m6 40v11m12-73v3m2-9v2m2 36v2m2 23v4m8-63v2m12 13v2m6-63v2m2 57v2m6-31v2m8 12v3m6-49v2m0 35v3m4-42v2m6-8v1m4 65v19m2-48v3m8-38v2m2-15v3m2 1v2m0 61v23m4-107v3m0 16v2m4-20v3m4-2v2m8-44v2m0 92v11m12-48v3m2-113v2m0 100v2m4 22v1m2 32v3m4-64v2m0 25v3m2 1v3m2-3v2m4-36v3m0 59v2m2-91v2m2 1v2m0 25v3m0 9v3m6 8v3m8 23v2m18-31v2m2-5v4m8 29v2m0 34v9m10-149v12m0 78v3m4 14v3m16-5v7m4 22v2m2 10v2m4 5v2m6-19v3m16 40v3m4-75v4m0 94v3m2-48v4m0 17v5m2-105v4m0 68v3m0 26v2m8-18v3m0 18v3m6-9v2m6-22v5m4-7v3m8 28v2m14-15v2m8 7v3m6-23v2m6 10v2m0 28v2m2-14v2m6-17v3m0 26v4m2-71v2m0 63v3"/>
<path stroke="#F0A078" d="M27 898v2m2-65v2m14 6v2m10 6v2m2-32v3m14-25v2m2 0v2m6-20v4m14 29v2m0 8v1m2-15v2m0 26v2m0 18v4m2-56v2m4 7v4m0 28v2m4-124v3m2 33v3m2 33v3m0 13v2m6-41v2m4 4v3m2-33v2m10 69v2m2 39v3m4-114v2m2 50v3m2-49v2m6-106v2m2 86v2m2 77v5m2-96v3m2 32v3m18-12v3m4-55v12m14 56v2m10 0v2m12-73v12m2 27v3m0 117v3m2-92v3m0 6v2m8 5v4m2 60v3m8-18v3m4-14v2m4-28v2m4 43v3m4-28v3m2-17v3m0 57v3m2-41v2m12 28v2m4-23v2m2-8v3m10 25v2m4-16v1m8-11v2m0 38v3m14-29v2m4 21v3m6 14v2m2-20v2m0 6v2m18 23v3m4-43v2m4-10v3m2 41v3m2-3v3m4-14v3m2-4v4m0 3v2m26-8v2m2-18v4m2 12v5m6-30v1m4 9v1m2 0v2m2-25v3m10-11v2m0 28v2m0 7v2m20-14v3m2-30v2m6-23v3m0 24v5m2-37v4m6-50v2m2 15v3m0 2v3m6 46v2m2-78v2m6 43v2m2 0v3m2 31v3m2-110v5m14-2v4m0 2v2m2-5v3m2 2v1m6 45v3m2-48v4m2-50v5m6 32v2m0 60v11m6-14v11m2-69v4m2 57v9m4-9v23m4-146v2m2 39v5m8 27v3m6-6v2m2 24v2m2 13v2m0 24v3m0 43v8m6-129v4m0 41v2m2-21v2m0 40v3m2-53v3m2 10v2m0 4v2m2 23v2m14 6v2m12-75v2m2 59v5m10 10v2m0 32v8m2-6v2m14-32v2m8-32v4m4 50v2m6-3v2m4-20v2m16 13v3m2 39v2m10-37v2m12 23v2m4-21v2m4 50v3m6-50v2m4-8v4m2 31v3m2-21v2m0 25v3m6-41v2m24 38v2"/>
<path stroke="#E27A5E" d="M11 861v3m2 21v2m2-2v3m2-19v2m8-36v2m6 59v2m12-43v4m6 22v4m6-84v3m6 35v2m8-18v2m10 22v5m4-100v2m0 60v3m10 55v4m2-81v2m6-37v3m14-87v4m2 37v2m0 32v2m0 46v2m4-60v2m0 38v2m2-57v6m6 34v3m2 52v2m16-28v2m0 32v10m6-99v3m14 76v2m6-77v2m8 23v2m0 84v2m6-106v3m2 104v3m4-14v2m8-97v2m14 13v2m0 16v2m4 18v2m14-11v3m8 12v3m2-59v5m4 44v3m2-30v4m4-33v2m2-40v3m0 156v5m2-45v3m4-20v2m10 62v3m10-48v3m0 45v2m2 5v2m4-159v3m2 93v3m4 52v2m6 14v4m10-61v3m14 42v3m30-19v2m4 32v2m0 2v2m12-6v2m20-39v4m20-30v2m8-4v3m0 35v5m26-107v2m8 24v2m0 19v3m4-124v6m14 52v2m4 6v4m2 0v2m8 62v8m4-85v2m0 17v2m0 7v2m4-11v2m8 37v3m4-28v3m2-46v3m2-11v5m0 32v4m8-7v2m6-20v3m6-4v2m2 41v2m2-23v2m6 6v5m0 25v2m8-3v3m8-39v3m10-28v2m2 54v3m0 39v6m20-75v3m10 78v4m2-83v3m14 21v3m4-20v4m2 54v3m4 12v4m26 20v2m0 2v2m2-28v3m6-17v3m0 13v2m10 15v3m2-30v3m22 49v2m8-2v2m4-15v2m12 17v2m2-33v3m4-15v2m6-12v3m2-2v3"/>
<path stroke="#D24F42" d="M5 902v1m4-11v2m6-17v2m0 18v15m6-46v3m0 23v3m2-71v3m2 30v3m2-20v2m2 43v19m2-14v2m0 6v5m4-41v2m2 8v2m4-43v3m4 43v5m6-23v25m2-36v3m2-8v2m2-39v3m0 28v2m2 32v2m2-24v31m2-95v3m0 57v4m2-68v6m0 5v2m0 19v2m2 28v28m6-36v3m2-6v2m4-32v4m8-29v2m6 54v2m28-80v2m2-10v2m8 74v3m8-78v3m2 40v2m18 74v4m14-113v2m2 98v2m2-197v62m18 27v3m2 20v3m10-58v6m2 117v2m2-56v3m2-30v4m2 59v2m12-61v3m0 30v2m14-11v2m0 41v3m0 9v3m14-33v2m2 36v2m4-24v3m0 4v4m2-85v4m2 23v8m0 112v2m8-11v9m6-80v2m2-4v3m8-53v2m0 69v3m2-13v11m8 6v3m4-6v3m2 34v2m10-18v3m18-3v2m2-16v2m6-52v17m10 40v4m0 35v4m8-18v3m6-66v2m0 53v2m2 7v3m0 14v2m4-35v3m26-32v3m2-26v3m4 35v2m6 23v1m2-13v4m10-49v2m0 36v2m6-5v4m2-76v22m4-8v3m0 66v3m4-46v3m6 4v4m0 15v4m2-86v2m0 16v3m12 68v10m6-48v2m2-5v2m4-58v2m24-32v7m0 5v2m6 63v3m2-31v2m0 13v2m4-108v2m2 26v2m12-35v2m2 91v3m4-16v2m4 17v3m10 63v3m2-93v2m4-13v2m6 23v2m4-16v2m10 15v3m0 62v4m4-57v2m4-31v1m6-17v3m12 31v3m2 7v2m2-27v3m6 61v5m16-41v4m2 55v4m2-51v2m0 30v2m2-39v3m12 42v2m0 16v2m10-30v2m4 30v3m4-9v3m4 3v3m4 16v3m4-8v2m4-9v4m0 7v4m10-30v2m4 41v6m6-38v4m0 14v2m2-13v3m24 6v2m0 18v2m2-46v2m2 32v2m4-38v6m2-24v5m0 27v4m2 2v3m2 15v2"/>
<path stroke="#C5282B" d="M3 858v2m0 12v4m0 32v12m2-25v2m0 9v2m2-16v5m0 22v2m2-18v2m2-30v3m2 9v3m0 22v2m0 4v3m2-51v4m0 20v3m6-25v3m0 22v2m4-29v2m2 10v1m0 6v2m0 9v1m2-24v3m2-9v3m0 5v2m0 6v3m0 2v2m0 9v2m2-26v18m2-31v3m2 0v3m2-38v2m0 20v2m0 7v2m0 3v4m0 3v27m4-29v2m4 3v2m0 4v2m2-13v2m2-30v2m2-37v5m2 24v2m0 7v2m2 10v2m2-28v3m2 2v2m2-51v2m0 10v3m0 23v5m4-8v3m2-1v3m0 3v4m2-33v2m0 19v3m0 7v2m4-53v4m0 44v12m2-24v3m4-51v3m6 10v3m14 2v2m2-50v3m2-5v3m0 54v2m2 16v2m2-29v2m12-85v10m10 58v3m2-7v3m6-17v2m0 12v3m0 14v4m0 26v2m2-76v3m0 34v5m4-72v3m0 31v3m2-76v2m0 18v1m0 119v2m2-86v2m0 66v2m2-56v3m4 4v2m0 104v4m12-112v2m2-54v3m6 38v2m0 36v2m0 45v3m8 70v3m4-199v37m2-104v24m2 200v4m8-136v4m0 47v3m2-81v2m0 38v3m4 35v3m4-63v11m10 60v3m4-36v3m2 15v2m0 11v2m0 24v2m0 45v3m2-165v3m0 71v2m0 8v2m2-43v5m2 101v3m2-50v2m6 21v3m8 17v2m6 23v3m2-13v3m2-19v2m0 12v4m2-129v19m0 52v1m0 3v2m4 19v4m2-21v4m0 63v2m2-31v2m6-22v3m0 4v3m0 48v2m2-48v3m6 42v2m8-45v2m0 33v2m4-93v31m0 27v2m0 37v4m2-55v9m0 35v5m2 0v4m4-26v3m2 14v2m4-95v3m0 62v4m2-38v3m0 56v2m4 5v3m2-25v3m2 16v2m4 13v3m2-3v4m2-13v2m0 18v3m2-22v2m8-5v2m8-19v2m0 22v3m4-17v2m8 19v3m0 2v2m4-19v2m2-23v4m4 53v1m2-18v3m6-7v2m4-48v2m6 1v4m2-27v2m2-8v14m10 6v2m2 3v4m0 23v3m2-98v11m2 32v4m2-45v11m0 43v2m2 10v3m4-14v4m0 31v3m2-7v3m2-18v2m2-38v6m6-16v2m2-3v5m0 2v3m0 8v3m2-9v4m2-7v2m0 12v2m2-19v3m0 21v2m0 34v2m2 7v5m0 5v3m2-123v9m0 83v1m2-69v2m0 44v3m0 29v2m6-34v2m2-59v4m0 40v3m4-41v3m0 41v2m2-98v4m0 30v2m0 25v2m0 29v1m2-43v3m4-43v4m0 49v2m0 55v1m2-93v2m4 68v8m4-91v2m0 35v2m4 20v2m8-9v3m4-52v3m2 15v3m0 0v3m0 36v3m0 13v1m2-49v1m0 0v6m4-20v2m0 10v2m0 42v10m2-125v2m2 51v2m0 8v3m8 2v2m2-53v4m0 34v3m2-7v2m2-34v2m2-13v1m0 15v4m0 39v3m2-103v23m4 45v1m2-29v2m2 20v2m2 2v5m2-8v2m0 15v3m2-5v2m2-62v3m2 96v3m2-27v2m4 15v2m2 40v3m0 22v2m2-106v2m0 42v5m4-32v2m2 18v2m10-33v2m0 2v3m0 18v3m4 21v2m2-25v2m2-46v2m0 2v2m0 43v2m2-20v3m0 72v2m0 4v4m2-55v4m2-51v3m0 34v2m0 10v2m4-14v3m6-143v4m0 40v2m2 140v3m2-32v1m0 0v3m2-27v2m4-43v3m0 85v2m2-39v3m2 6v2m0 19v2m0 6v3m4-71v4m2 48v2m8-15v3m2 36v2m2 5v3m8-77v3m0 26v3m0 0v2m4 13v2m4-23v2m0 27v3m8-79v2m8 74v2m0 18v2m2 4v2m0 12v2m0 29v2m0 7v2m2-63v4m0 31v2m4-80v2m0 17v3m0 27v3m2-17v6m0 40v1m18-11v3m6-11v3m0 5v3m2-55v2m0 28v3m2-12v3m0 14v3m4-29v5m0 31v2m4 12v2m8-55v6m0 9v4m0 2v3m0 12v3m2-19v2m0 32v2m26-47v16"/>
<path stroke="#CC4145" d="M1 888v2m0 20v2m6-55v2m0 38v2m2-3v2m4-7v5m0 31v12m2-56v2m4 7v17m4-20v14m2-66v6m0 43v15m4-28v2m2-14v5m0 28v2m4-36v2m0 14v22m2-19v14m6-30v4m4-11v4m0 9v2m0 2v3m4-34v3m2 15v18m2-39v2m0 19v16m6-64v2m0 18v3m2-41v4m0 51v20m6-36v2m2-32v3m6 25v17m4-85v2m10 42v5m16-64v8m6-9v3m2-107v17m0 57v2m2-94v45m0 119v2m0 12v2m2 9v2m4-64v3m2 25v2m2-15v6m10 24v5m0 11v2m4-94v3m0 40v6m0 19v2m2-21v2m2-40v1m2 16v2m0 41v3m4-39v2m0 16v3m10-9v3m14 89v6m2 1v3m4 6v29m2-144v2m4 139v4m6-101v1m12-36v3m8-42v3m0 54v3m6 6v2m14-22v4m6-16v5m0 114v30m4-78v3m2-20v3m8 13v2m2-25v2m0 30v4m0 3v4m8 11v3m2-13v2m0 66v12m2-122v2m14 70v2m4-45v4m4-1v2m0 13v2m10-3v3m8 27v2m6-42v4m4 2v4m0 9v2m4-19v8m4 45v4m8-58v5m4 42v3m4-48v2m2-4v3m2 37v2m4-2v2m4-60v22m0 41v2m2-42v17m2 35v5m4-11v2m2-14v2m2-17v3m2-25v3m4 20v2m2-19v2m4-8v3m6-8v4m0 59v7m2-77v2m0 43v2m4-14v2m8-98v16m10 33v2m2 69v7m4-72v2m0 26v2m2 14v2m10 6v1m2-62v3m14-121v36m0 68v3m0 13v5m2-8v3m2 19v2m2-118v15m10 13v2m0 46v2m4-49v2m4 0v2m4-14v3m2 9v15m2 20v2m0 22v2m2-26v2m8 8v2m10-75v2m0 68v3m4-67v2m2-32v6m0 2v4m4-63v52m4 40v3m0 45v2m4-55v3m0 26v2m2-40v2m14 47v4m2-43v2m2-13v7m0 39v4m4-32v3m2-4v2m2 48v2m10-31v2m2 6v2m12 21v2m2-87v3m14 73v2m4-50v2m2-9v3m2 38v3m2 20v2m4 61v4m4-78v4m6 40v2m0 0v6m4-21v3m0 25v3m6-8v2m0 7v3m2-26v4m2-3v3m4-21v3m4 1v3m8 36v5m2-61v3m0 19v2m0 32v2m12 61v4m2-69v2m0 52v2m2-101v2m0 36v2m2-79v2m2 52v2m2 16v3m4 37v2m4-23v3m4-3v3m4 31v2m4-10v3m4 1v2m4-28v5m4-10v6m2 40v2m4-49v3m6 33v3m14-3v2m2 21v2m2-89v3"/>
<path stroke="#DC7677" d="M25 862v2m6 54v7m16-101v4m28-6v2m24 23v2m14-28v3m4-118v3m4 102v2m0 28v1m4-76v4m6 97v8m6-60v5m10-39v2m2-37v3m2 9v2m16 10v3m4-117v3m2 49v3m18-54v14m12 70v3m2 73v3m6-59v3m16 5v2m18 11v2m4 57v3m14 4v3m2-51v2m4 53v4m10 38v2m8-39v2m22 4v2m4 37v3m2-75v5m36 51v2m4-13v1m2-2v3m32-4v2m16-79v1m0 72v3m30-60v2m40-25v3m18-47v2m12 13v3m2-69v4m0 100v3m2-58v1m4 11v4m12 68v8m4-68v2m10-28v2m4-78v34m0 13v3m0 70v6m38-72v2m2 24v2m10 75v2m14 52v16m16-65v2m54 82v10m18-70v2m18 60v3m2-20v2m6-1v2m0 24v13"/>
<path stroke="#EBACAD" d="M1 894v2m4 7v3m0 2v15m4-76v10m0 3v7m0 22v3m0 13v20m2-8v2m6-53v3m0 26v23m10-59v2m4 5v3m0 5v3m0 8v2m2-62v2m0 34v2m2-20v3m4 30v1m4-18v4m4 15v2m0 2v2m4-57v2m2-36v2m0 40v2m2 11v2m2-11v2m0 25v2m8-24v24m4-25v10m4-13v14m2-57v2m0 29v2m4-36v2m6-72v3m0 58v2m6-7v2m6 22v5m2-29v2m4-31v2m0 69v5m2-106v3m4 93v2m4-25v3m6 23v3m2 19v6m2-87v3m0 28v7m0 6v2m2-11v2m10-35v3m2-17v4m0 41v3m0 29v19m2-81v2m4 2v2m4-23v2m2-5v2m0 73v3m6-57v4m14 97v2m10-154v3m10 44v2m0 7v3m2-90v2m0 74v5m2 108v5m2-118v3m4 108v2m6-149v2m2 43v2m2-34v5m2 23v2m2 12v2m2-32v2m14 30v3m2-5v3m6 49v3m2-59v2m2 30v3m4 51v3m2-77v2m2 0v3m4 79v27m4-91v3m0 56v3m10-30v2m0 2v3m4-32v5m2 73v3m4-50v4m0 5v3m2 18v2m4 23v2m0 3v11m8-56v3m12 18v1m2-28v4m4 4v2m4 0v3m6 13v2m4 6v4m4-11v3m4-12v2m0 13v4m4-27v3m12 39v3m14-53v4m8 25v3m8-7v4m0 21v2m2-15v5m4-13v2m0 23v2m2-83v3m6 25v3m14-37v2m0 11v3m2 36v2m18 10v24m8-58v2m2 22v7m2-5v4m4-69v2m2 2v2m4 11v5m4-17v2m2 7v2m2 15v4m2-117v8m0 29v3m6-8v4m4 20v5m4 40v2m4-92v2m0 22v3m10-21v3m4 27v1m0 31v6m2-73v2m0 44v4m2 8v1m16-100v3m2 65v3m6-81v8m0 33v2m2-3v3m4-1v3m2-2v3m0 51v3m2-29v4m0 4v3m2-9v3m10 40v3m2-38v4m6-57v4m2 34v3m0 27v2m2-29v6m2 17v2m0 25v3m2-50v2m2-4v2m0 3v2m6 36v3m6 1v2m10-132v38m0 9v3m2 50v2m0 11v3m2 15v3m2-36v3m0 15v2m2 19v2m6-41v2m0 82v2m4-47v2m2-15v2m10 10v2m0 37v51m2-25v5m4-24v10m2-11v12m2-34v3m0 23v42m2-142v3m0 100v18m2-60v2m2 40v61m6-56v32m4-25v17m2-19v2m8 5v41m2-79v3m0 53v2m2-15v2m4-55v2m0 53v29m2-82v6m0 47v17m2 6v19m4-39v26m4-22v6m2-35v3m0 35v10m12-13v6m4-22v3m2 18v2m2-6v5m2-7v2m4-9v2m0 9v22m2-27v3m0 6v12m4-13v1m2-103v2m6 103v35m8-30v3m0 9v2m0 12v5m4-59v3m0 22v22m2-16v3m2-43v2m4 22v2m0 9v17m2-19v23"/>
<path stroke="#F8E0E0" d="M1 843v17m0 65v2m6-49v2m2-23v3m4 10v2m0 10v3m0 5v1m0 30v3m14-71v2m2-10v3m2 62v5m12-167v68m2 12v5m0 27v3m6-54v16m2 34v1m4-6v3m2-23v2m4-18v3m16-63v10m0 18v1m4-147v70m0 57v3m4-49v3m4 66v2m2 26v1m10-52v2m2 49v1m10-120v3m0 39v4m2 34v3m2 24v2m2-43v4m0 44v3m2 29v3m2-78v3m0 14v2m2 25v4m0 19v2m0 3v1m2-47v2m0 16v3m0 13v3m4-51v3m6 0v3m4-36v2m2-101v2m2 63v5m0 60v4m2-28v4m2-37v3m0 41v2m2-50v5m18-78v7m0 42v3m0 66v3m2-24v3m4 2v2m0 133v2m4-134v3m2-2v1m0 70v3m2-64v3m4-64v2m2 12v2m2 57v3m10-2v2m2-44v2m0 132v3m4-139v2m0 5v3m0 42v3m0 18v3m12-22v3m2-31v2m4-108v2m0 148v3m4-64v12m0 90v1m6-73v3m0 37v2m8 42v3m2-25v3m0 6v2m2-89v5m0 82v3m0 18v5m4-102v2m0 45v2m0 20v3m2-1v2m2-78v3m0 4v4m0 12v2m0 39v2m2-73v2m0 41v2m0 36v5m6-29v2m0 86v3m2-88v2m0 10v3m2 22v2m2-3v2m2-22v2m0 24v2m0 5v3m2-47v2m4 25v3m2-45v4m0 53v4m2 0v3m6-101v3m0 30v2m4 47v2m4-7v3m8 10v2m0 5v2m0 18v2m0 12v2m2-113v2m2 103v2m4-90v27m0 10v5m2 43v2m6 5v4m4-23v3m2 12v3m6-32v3m4 24v3m6-37v2m0 7v4m2 37v3m2-41v3m14 13v2m0 16v3m2-15v2m2 13v3m4-11v3m4-8v3m0 8v3m4-76v2m6-2v4m0 31v2m0 38v2m2-76v2m16-27v3m4-2v3m0 6v4m2 1v2m2 48v3m4-41v5m0 28v2m2-48v4m0 40v2m8-37v2m4-38v3m2 35v2m4 19v2m2-39v2m4-41v2m4 8v3m4-40v2m0 7v2m0 22v2m0 42v2m4-43v2m2-30v4m2 24v2m6-20v3m0 68v2m4-101v19m2 15v4m0 54v2m2-67v2m0 8v4m2 6v2m4-26v2m0 5v2m4-7v2m2 6v3m2 12v2m2-40v3m6 39v2m2-25v4m2-27v2m0 40v3m2-37v3m4 38v2m2-44v2m2-55v3m2 95v2m2-84v2m10-98v2m0 2v3m2 144v2m12 10v3m2-16v2m2-4v3m2 6v3m0 50v2m2-83v4m6-7v3m2 2v2m4 49v3m2-101v3m0 52v2m0 23v2m6 5v3m0 35v2m2-44v3m4 28v2m0 23v2m6-194v47m0 60v3m0 11v3m0 9v6m2-66v36m6-98v2m6 138v2m6 22v3m0 6v2m4-16v3m2-25v3m2-8v5m0 4v2m2-19v1m0 17v2m0 27v2m8-11v2m4-6v2m2-26v4m6 81v3m6-88v7m0 50v3m2-103v2m4 73v5m2 9v4m0 39v4m0 4v5m0 1v2m8-86v2m0 37v3m6-17v4m0 10v2m2-79v2m0 58v2m12 28v2m2-6v2m0 27v2m2-23v2m4-84v33m4 18v2m0 42v4m10-33v2m2 38v4m2-13v3m4-7v3m2-12v4m0 21v2m0 4v2m4-69v3m16 23v4m0 49v2m2-88v2m0 36v2m0 5v2m0 34v2m10-8v4"/>
<path stroke="#DDF1EA" d="M1 860v3m2 30v2m2-15v3m2 6v3m2-11v5m4-27v7m8 3v3m0 5v3m0 21v2m2-72v2m0 16v3m0 22v2m2-8v2m6-51v14m4 7v3m0 6v3m0 12v2m2-36v3m2 9v2m0 6v3m4-17v3m0 11v2m2-29v2m0 33v2m0 22v4m0 0v7m2-22v2m0 11v2m6-85v2m0 42v3m2-38v2m2 16v4m0 2v3m4-30v5m2-14v2m4 31v3m2-41v4m0 20v3m0 5v4m0 3v1m2-40v8m0 48v2m2-24v3m4-2v2m2-34v3m4 11v3m4-28v2m4-18v3m0 40v2m4-17v2m2 0v2m2 51v2m6-94v3m4 15v4m0 32v3m6-152v2m0 61v3m0 69v2m2-119v4m2 41v3m0 69v2m2-24v3m2-23v3m2 21v5m2 39v2m2-3v3m2-63v3m0 39v2m0 17v3m0 32v3m4-98v2m4-7v3m0 30v3m0 29v3m6-189v3m0 142v3m2-14v3m2 60v2m4-105v2m0 7v2m4-7v2m0 23v3m10-18v2m0 18v2m2-26v2m0 26v5m2-49v2m0 7v3m0 32v2m2-37v2m2 31v2m2 17v4m2-36v4m6 12v3m2-5v2m8-23v2m4-13v2m0 18v2m2 21v2m2-9v3m0 2v2m0 79v2m2-76v3m2-41v2m6-26v6m0 42v2m0 5v3m2-56v3m8 42v3m0 8v2m2-10v6m2 2v3m2-3v3m2 57v2m2-85v2m0 28v3m0 2v1m4-33v7m0 45v5m2-28v2m0 2v3m0 20v3m0 56v2m2-88v2m0 20v3m0 5v2m4-40v2m0 46v4m0 9v2m2-63v2m0 60v3m2-35v2m2 42v2m2-110v2m0 88v2m2-65v3m0 34v1m2-35v3m0 14v3m0 13v2m0 23v3m2-50v2m0 49v2m2-106v16m0 0v2m0 67v2m2-26v2m0 3v2m0 5v2m2 16v2m0 31v2m0 19v2m0 38v1m2-93v3m0 42v5m4-63v3m4-31v2m0 43v2m2-143v3m0 9v2m0 49v2m0 107v2m2-88v3m0 63v2m0 28v3m0 3v3m2-75v2m0 13v3m0 39v2m0 19v2m2-37v2m2-77v2m0 48v3m0 10v2m2-24v2m2-67v2m0 118v2m2-25v2m0 11v2m2-50v2m2 34v2m0 14v2m2-36v2m2 36v2m2 7v3m2-32v4m2 1v2m0 5v2m2-92v2m0 91v3m0 11v2m0 5v2m0 11v4m2-31v3m0 19v3m2-61v4m6 25v2m2 1v3m0 20v3m4-33v4m0 28v2m6-23v2m2 2v2m0 19v2m2-45v2m0 5v2m0 5v2m0 9v3m2-16v2m2 31v2m0 9v4m4-35v2m2 19v3m2-49v2m6 46v2m6-33v4m2 2v3m0 17v2m4-44v3m4 30v3m2 11v3m8-37v2m4 2v2m2 5v3m0 8v3m2-52v4m2 11v3m2 20v3m2-33v5m0 27v2m6-27v2m2-15v2m0 21v2m2-65v3m0 3v3m0 14v5m2-4v3m0 13v2m0 4v2m0 16v2m4-80v12m0 39v3m0 17v2m2-20v2m4-4v3m0 28v2m2-59v6m0 35v4m6-2v3m4 2v2m2-27v5m0 13v3m2-32v3m2-29v4m0 49v2m0 8v2m2-68v3m2 23v2m0 9v2m2 4v1m0 3v2m0 2v2m2-80v4m0 26v2m0 13v3m2-31v4m0 7v2m0 13v2m6 9v2m2 4v2m2-86v3m0 30v6m0 9v3m0 4v3m2-65v3m0 108v2m4-21v2m4-4v2m2-73v3m0 9v3m0 4v3m2-14v2m0 30v1m2-31v2m0 8v3m0 17v4m0 12v3m2-27v3m2 32v3m0 9v3m4-10v3m6-77v2m2 36v2m6-54v5m0 19v2m2-13v4m0 34v2m2-38v3m0 31v8m2-52v3m4 26v3m4-23v2m0 20v2m2-73v2m0 7v3m2 33v4m0 31v2m2-54v3m0 46v2m0 0v4m2-75v2m2-15v2m0 41v3m2-51v2m2 58v4m2-171v2m0 106v4m0 31v2m2-34v3m4 36v2m0 15v2m2-25v3m0 3v2m0 23v4m2-19v4m0 12v2m2 7v3m2-26v2m2 12v3m2-22v2m2 6v3m0 56v2m2-84v1m0 29v4m6-39v2m0 73v2m6 0v3m2-80v3m2 51v2m4-18v2m2-8v2m2-42v3m2 36v3m0 67v2m0 8v2m0 0v2m2-85v2m0 0v2m4-43v1m0 42v4m2 52v2m4-104v2m0 66v2m2-165v3m0 156v3m2-8v2m0 25v3m0 7v2m4-44v4m2 36v2m0 2v2m2 0v3m2-86v2m2 124v1m2-81v2m0 25v2m4-21v5m6 10v5m6 27v2m2-25v2m0 4v3m4-19v2m0 29v2m2-34v4m2 0v1m0 15v2m0 41v2m0 19v2m2-88v4m0 3v2m0 14v3m4-7v2m2-52v3m0 63v3m2-28v2m2 9v4m2-11v2m14-23v4m0 64v2m2 13v3m2-42v2m0 15v5m6 20v4m4-33v2m2 21v2m0 4v3m6-44v2m0 33v2m4 29v3m2-50v3m2-22v2m10 46v2m2 7v2m2-40v5m2 40v4m2-24v2m2 6v2m6-18v3m6 10v4m2 47v3m2-34v3m4-7v2m0 2v3m0 15v2m6-61v2m0 24v2m2 11v2"/>
<path stroke="#C2E8DB" d="M1 890v4m0 5v2m0 6v3m0 2v2m4-51v9m0 0v2m4-5v2m0 9v1m0 5v3m2-25v2m2 0v2m2-19v5m0 2v3m2 4v3m4 29v2m2-70v4m2 21v2m0 24v2m2-38v4m0 5v2m0 4v2m2-3v3m2-6v3m2-34v3m0 2v1m0 28v2m0 5v3m0 7v3m2-22v6m2-32v2m0 44v4m2-34v2m2 0v3m2-15v2m0 12v2m0 27v7m4-72v4m0 14v2m0 44v2m4-49v2m4-33v2m0 12v2m0 2v3m0 26v3m2-39v2m2-4v3m0 5v2m0 11v2m2-7v3m2-18v2m2-20v2m0 4v4m0 27v3m2-22v6m2-23v2m0 12v6m0 9v3m2-15v4m0 5v2m2-30v7m4 16v2m0 0v1m0 10v3m2-5v3m2-65v2m0 24v2m2-72v2m2-51v2m0 110v5m0 21v2m2-101v2m0 5v3m0 75v2m0 11v3m4-13v4m0 1v4m0 14v3m2-23v3m0 69v2m0 4v1m4-87v3m2 28v2m0 21v3m4-30v2m2-108v4m0 81v3m2-25v2m0 21v2m0 25v3m6-49v5m0 4v1m0 26v3m0 0v2m2-117v2m0 56v2m2-9v2m4 71v2m0 9v4m2-32v4m4-5v6m0 33v1m0 0v3m2-64v3m2-9v3m0 58v3m12-147v3m0 88v2m0 6v3m2-94v2m2-38v5m0 41v2m0 9v2m2 20v3m0 49v3m0 31v2m4-105v2m0 5v1m0 139v11m2-144v4m2 16v3m4 2v2m6-50v2m2 5v1m6 26v2m2 138v6m4-197v2m4 172v5m4-190v5m0 65v2m2 10v3m4-43v7m0 18v4m4-51v3m4 39v3m2 0v3m0 2v5m2 13v4m4-71v3m0 20v3m0 16v3m0 20v3m2-44v3m4 0v2m0 128v11m6-140v2m0 20v2m2 15v3m0 2v4m2-38v3m2 7v3m2 37v3m0 26v2m6-53v2m0 11v3m2 69v5m0 8v3m2-89v2m4-1v4m2 50v4m2-37v3m2-28v1m0 68v3m2-9v2m2-149v3m0 24v4m0 79v4m2-43v2m0 8v2m0 45v3m0 5v2m2-1v3m2-67v2m0 20v2m0 21v2m2-3v2m2-11v4m0 77v1m2-101v18m2 4v10m2 8v4m0 14v2m2-26v2m0 8v3m0 51v1m2-138v30m0 0v3m2 78v2m2-62v2m0 11v3m0 41v3m0 4v2m2 7v3m2-24v2m2-39v2m2-159v57m0 9v5m2 56v2m0 5v2m0 21v2m0 26v2m0 18v3m0 4v2m2-18v2m0 2v4m2-35v2m0 28v2m2-2v3m0 6v1m2 3v2m2-27v2m0 3v2m0 28v3m6-41v3m2-89v2m0 73v2m0 18v2m2-36v3m2 14v2m2 4v2m0 18v2m2-5v3m2 5v3m2 1v2m0 4v2m0 20v2m4-25v2m2-9v4m2 18v2m6-9v4m8-53v2m0 36v2m4 6v4m8-36v2m8 25v4m2-31v2m0 40v2m2-13v2m2 10v3m2-24v2m0 2v3m4-31v4m0 20v5m0 21v2m4-27v2m4-14v8m2-22v2m2-15v2m0 23v4m2-7v3m0 12v2m8-1v5m2-30v3m2 15v2m6-66v3m2 36v3m0 16v5m2 14v2m2-17v2m2-25v2m2 21v2m2 2v3m4-90v14m0 28v3m0 27v2m2 17v4m2 1v4m2-58v2m0 15v2m2-36v3m0 6v2m0 2v2m0 27v6m2-41v3m0 10v1m0 21v3m2-40v4m0 30v3m0 7v2m0 35v9m4-155v16m0 0v3m0 39v2m2-24v3m0 47v4m2-78v2m2 81v3m2-63v1m0 40v4m0 17v2m2-105v4m0 34v2m2 13v3m0 54v2m4-106v3m0 57v2m4 40v2m0 0v2m2-93v4m0 16v2m2-74v38m0 16v2m0 40v3m4-48v6m0 9v3m2 29v2m2-71v3m0 12v2m2 18v5m0 41v3m0 6v2m0 10v2m2-61v2m0 39v2m2-50v2m4 35v3m2-115v16m0 82v3m0 0v2m6-31v2m2-21v2m0 16v2m0 11v3m0 9v2m2-22v2m0 24v3m0 19v2m2-145v19m0 11v2m0 9v3m4-12v4m0 61v2m2 36v1m2-147v15m0 58v2m2 10v2m2-84v3m0 12v3m0 57v3m0 14v3m2-17v2m0 40v3m2-36v4m0 5v3m2-84v3m0 58v2m2-15v3m0 2v5m2 38v3m0 2v3m4-96v3m0 19v2m0 16v2m0 9v3m2-53v2m6 39v3m0 19v2m2-40v3m0 16v3m0 36v2m0 15v3m4-78v3m0 6v3m0 57v2m2-7v2m2-31v3m0 13v5m0 14v2m0 9v1m2-90v5m0 140v2m2-123v2m4 47v4m2-30v3m2-16v3m2 15v4m4-48v2m2 74v2m0 9v3m4-2v3m2-104v8m0 57v4m0 20v4m2-79v2m0 18v2m0 80v3m0 5v4m0 0v2m2-2v2m0 18v4m2-74v3m2-38v3m0 31v3m2-63v2m2 50v3m0 14v3m0 14v6m4-66v2m0 17v2m2-140v2m0 136v2m2-30v2m0 89v2m2-105v4m2 71v2m2-54v4m0 7v4m0 19v1m0 0v3m0 20v2m2-16v2m0 0v2m0 9v3m0 11v2m2-98v2m0 12v2m0 49v2m0 3v4m2-15v3m0 4v3m0 59v2m4-68v3m10 14v2m0 31v4m2 23v2m2-34v3m2-4v2m0 14v2m2-23v2m2-24v2m2-12v2m0 65v1m2-44v2m0 28v2m6-42v3m2-45v4m2 15v2m0 60v2m2-14v2m10-5v2m0 5v2m0 16v3m2 50v6m2-49v2m0 7v2m0 16v2m2-94v4m0 2v2m0 4v3m0 50v3m2 14v2m4-44v2m4-6v4m0 0v2m4 28v4m8-58v3m6 61v2m2-20v3m4 27v3m2-6v2m2-22v2m4 13v3m6-31v2m0 24v2m0 8v2m2-18v4m12 3v3m0 18v3m2-26v3m0 13v2m2-18v3m2-18v3m2-4v6m0 39v4m2-49v2m0 30v2m2-53v3m0 22v2m0 18v4m2-16v2"/>
<path stroke="#A9DFCF" d="M3 860v3m0 28v2m0 10v2m2-27v2m2-16v4m0 3v2m0 14v2m2 9v3m2-78v28m0 44v2m2 17v2m2-54v2m0 24v3m2-41v9m0 16v3m2-35v10m2-1v3m0 9v2m0 24v2m2-49v2m0 39v2m2-43v2m0 5v2m2-6v2m2-15v2m0 13v2m6-15v3m0 14v2m2-29v3m4 23v1m0 0v2m2-15v2m2-137v103m0 26v7m2-22v3m0 39v2m4-37v2m0 18v2m2-30v4m0 12v2m2-35v1m0 13v2m0 8v3m2-16v4m0 53v5m2-41v2m2-13v2m0 12v2m2-23v2m0 5v2m0 12v2m2-22v2m2-23v4m0 32v1m2-34v2m2 13v5m0 2v3m0 31v3m4-61v2m2 12v3m4-56v2m0 22v7m0 17v3m2 6v1m2-6v2m2-16v3m4-9v2m2 29v2m6-34v4m0 32v3m0 6v3m0 4v2m4-94v4m2 30v2m0 33v2m4-15v2m0 5v4m6-140v2m2 73v2m2-44v10m0 0v3m0 34v2m0 60v4m4-13v2m2-8v4m2 38v4m2-64v4m2-14v2m0 9v2m2-12v2m0 32v3m12-174v3m0 148v2m2 27v2m2-150v11m0 153v2m0 4v3m2-124v8m0 46v2m0 40v2m2-54v4m2-33v2m0 9v2m0 17v2m2-25v3m4 1v4m0 25v2m10-60v3m0 12v5m0 35v2m2-50v3m0 16v3m0 106v2m2-93v2m0 3v3m0 8v2m14-18v2m0 2v2m2-63v5m0 68v2m8-40v2m0 15v5m2 19v4m0 90v4m2-170v25m0 54v2m4-17v2m0 15v3m2-6v2m0 3v2m2-12v2m0 3v2m4-21v2m4 24v2m2-18v13m2-36v3m2-10v3m0 33v2m2-4v2m2 8v2m2 9v4m2-56v8m0 86v2m4-46v2m0 33v5m2-62v3m0 15v2m2-11v3m2-7v3m2 2v3m2 24v2m0 25v2m2-77v2m4 44v4m0 41v2m2-161v2m0 39v4m0 38v2m2 1v3m4 21v2m2-79v27m0 84v2m2-36v2m0 49v2m0 37v4m2-52v3m2-24v2m0 3v2m0 26v2m4 24v2m2-79v3m2-141v19m2 173v1m4-3v3m0 13v3m0 7v3m2-118v5m0 23v6m0 7v2m2 38v2m2-144v37m0 131v3m4-60v2m2 15v3m2-16v7m0 5v2m2 39v3m4-6v3m8-50v2m2 6v2m0 21v2m0 7v3m0 9v2m2 5v2m2-28v4m6-19v3m2 42v3m2-9v4m2-15v2m4 1v2m0 23v2m2-3v4m2-4v3m4-35v2m2-30v4m0 0v2m0 41v2m2-23v3m0 24v2m2-38v2m2 10v2m2 12v3m4 20v2m2-7v2m0 7v2m2-61v21m0 17v1m4-42v2m2 14v4m0 11v2m0 21v2m2-46v5m0 7v2m2-1v3m4-20v2m4-22v2m6 19v2m6 34v5m2-37v4m0 26v2m4-37v4m4-33v2m4 13v2m0 26v1m2-22v2m2-4v2m0 3v3m6-68v29m0 6v6m0 46v2m2-1v1m6-55v3m4 31v3m0 17v2m8-59v2m0 23v2m2-60v3m4-88v64m0 11v2m0 26v2m2 18v2m4-91v26m0 88v2m2-65v3m0 5v2m2-56v26m0 68v2m0 9v2m0 4v3m2-75v2m0 8v2m2-77v17m0 35v2m2 39v3m0 21v2m2-51v3m2-18v1m0 10v2m2-20v2m0 50v2m2-78v5m0 78v1m0 5v2m2-57v2m0 53v3m2-17v5m2-26v2m2-2v2m0 8v2m2-51v8m0 48v3m2-109v26m0 34v3m0 51v2m4-13v3m2-77v2m2 32v4m0 43v2m0 14v2m2-55v2m4-90v43m0 20v2m0 48v2m6-35v1m2-57v2m0 24v2m2 53v3m0 7v3m2-90v2m0 9v2m4-20v2m2-4v2m2-2v2m0 24v2m2 9v2m0 60v2m4-69v1m0 55v5m2-22v4m2-112v3m0 75v2m2-48v3m0 17v2m0 26v2m0 28v2m4-50v2m0 32v3m0 25v2m2-70v4m4 68v2m2-78v3m0 33v4m0 12v2m4 25v2m0 23v1m2-42v4m0 11v3m0 39v2m0 22v2m2-139v2m0 50v6m0 3v3m0 2v2m8-71v2m0 64v3m4-34v3m0 0v2m2-32v2m2 23v3m4 68v2m0 2v4m4-81v3m0 24v3m2 2v2m2-26v2m0 31v2m0 13v2m2-37v3m8 4v2m2-195v29m0 0v3m0 29v2m2-12v83m0 113v2m2-82v4m2-16v26m0 12v2m0 20v2m2 23v5m2-82v4m0 58v2m0 26v4m2-115v2m2 104v4m2-108v13m0 16v3m2 44v6m4 9v3m4 26v1m0 18v4m2-105v30m0 44v4m2-51v4m0 12v3m0 46v2m8-21v3m4-12v2m0 33v3m0 5v3m2-74v3m4 5v2m2-30v2m0 50v2m6-116v28m8 77v2m2 51v2m2-25v3m0 6v2m2-67v2m2-27v3m0 48v2m8 49v2m4-67v8m2 15v16m12-2v2m0 42v3m2-23v3m6 13v2m2-28v2m2 30v2m4-57v2m0 34v2m0 3v2m2-20v2m2-14v2m2 29v2m6-29v3m0 0v2m8 26v4m0 37v2m4-87v2m0 44v3m2-28v2m2-38v11m0 73v2m2-16v3m0 9v1m0 9v4m2-35v3m2-4v2"/>
<path stroke="#91D4C7" d="M1 866v3m4 5v4m2-42v18m0 26v2m2-15v2m2-13v3m2-12v12m0 37v5m0 7v4m0 4v2m0 6v3m2-68v3m0 12v3m0 14v3m6-103v44m0 0v4m0 48v3m0 9v2m0 2v5m2-60v1m0 22v3m2-14v2m2-7v2m2 2v2m0 14v2m2-26v2m0 52v2m2-182v97m0 44v3m6-11v2m4-15v3m2-41v2m2 7v2m2 26v3m6-52v3m2 34v2m0 30v2m2-53v2m0 15v2m2-18v2m2 0v2m2-31v3m0 53v1m2-43v3m0 0v4m2 7v2m6 13v2m4-24v2m0 32v5m2-104v2m0 20v2m0 60v4m2-28v3m2-150v3m0 44v3m0 40v2m0 39v3m2-123v2m0 15v2m0 33v2m0 41v3m4-17v11m0 40v1m0 14v2m2 37v2m0 22v2m12-130v3m0 14v2m0 4v1m8 38v3m0 5v2m2-86v2m2-55v1m2 66v3m4 64v3m0 6v4m4 10v3m2-14v2m2-52v3m6-6v4m2-32v1m2-24v3m0 68v2m2-102v3m0 93v5m2 0v3m2-97v3m0 5v2m0 33v2m0 6v2m2 53v2m2-76v2m0 6v3m2 12v2m6-11v3m2-44v10m6-80v82m0 47v2m2 1v3m2-97v2m0 44v5m0 9v2m6 16v2m4-28v4m0 10v2m2 10v2m4 10v2m2-36v3m2-27v3m0 21v4m0 29v2m0 51v3m4-72v2m8 14v2m4 6v2m4-55v3m4 40v3m0 28v2m2-63v6m2 11v20m4-23v2m2-16v2m2-57v2m2 88v3m2 17v2m0 28v3m2-27v2m0 65v3m4-70v2m4-16v3m0 22v2m0 3v2m2-32v2m2 34v4m4-57v3m0 2v3m0 93v2m2-93v4m0 51v2m0 37v2m4-13v2m0 3v3m2-112v3m0 0v2m0 18v2m2 26v3m2-23v3m0 11v2m0 16v2m2-10v2m0 43v2m2-51v2m0 49v3m6-35v2m0 40v3m2-3v2m4-153v2m2 58v2m0 57v2m0 23v1m8-134v2m0 45v4m0 21v2m0 59v4m2-56v3m14 43v2m2-50v2m2 32v3m2-20v3m0 15v2m0 52v3m2-47v2m0 19v2m4 23v3m4 4v3m4-71v10m2 47v2m2 0v3m6-10v2m2 8v3m2-27v2m4 4v3m2-30v2m0 43v2m0 4v2m2 11v2m2-7v2m4-19v3m0 21v2m2-16v3m2 12v2m4-34v2m2-46v4m2 21v2m4 8v4m2 8v3m8-56v3m0 35v2m6-14v2m0 11v2m2 13v2m2-33v1m0 42v2m0 1v3m2-28v3m8-2v2m6-15v3m2-3v4m2-49v2m2 30v1m2 6v3m2 26v6m12-71v2m2 7v3m0 10v3m0 24v8m2-60v2m2-17v3m0 61v4m4-17v2m2-75v3m0 46v5m2-32v4m2-46v2m2-28v23m0 65v2m2 30v2m2-71v2m2 37v4m0 9v4m2-51v2m4-77v2m0 122v1m2 12v4m4-37v2m2-43v2m2 65v1m2-46v2m2-47v2m0 5v2m4 42v2m6-44v2m4-28v2m0 69v2m2-57v2m2-24v20m4-24v5m2 4v2m2-53v4m0 28v2m0 38v4m0 14v3m2-40v2m0 25v4m0 7v2m2-11v2m0 15v2m2-73v3m0 6v3m0 29v2m2-42v3m2-91v29m0 38v3m0 3v3m2-19v9m2 68v3m0 31v2m2-131v8m0 0v2m0 35v2m0 71v5m0 13v2m4-31v3m0 3v2m2-28v2m2-156v2m0 18v2m0 31v2m0 98v2m4-41v2m4 9v3m2 70v2m0 0v2m2-32v2m0 17v4m2-18v2m4 21v3m2-11v3m0 70v2m2-97v2m2-71v2m2 41v2m0 39v2m2-64v3m4 55v2m2 9v3m12 4v3m2-27v2m0 36v3m2-41v3m0 22v2m2-59v5m0 35v3m0 15v3m2-80v2m2 59v3m0 10v1m0 5v4m4-80v2m0 56v2m2-15v2m6 9v2m2 40v2m2-41v2m2-65v2m0 37v2m0 21v3m0 26v2m0 25v3m2-17v2m0 20v2m2-100v2m0 44v1m4-7v2m6 13v4m0 16v3m4 21v3m0 6v3m8-33v2m0 2v3m0 22v4m2-25v3m0 3v2m2-44v2m6 31v2m0 24v5m4-39v2m0 6v2m0 11v3m4-93v3m0 68v3m0 66v1m10-22v2m2-30v2m0 49v3m4-117v2m0 78v5m2-14v2m2-33v3m0 27v3m4 6v2m4-2v2m2 13v2m0 20v3m2-14v4m8 3v4m0 6v2m2-64v2m0 30v1m2-5v3m2-24v2m2 31v5m2-37v1m4 41v3m2-36v3m0 22v2m2-44v2m2 47v3m2-31v3m14 31v2m2 9v3m2-22v2m2-8v2m0 13v2m0 9v1m2-59v5m0 17v3m2-13v2m2 18v2m0 31v2m2-35v3m2-18v4"/>
<path stroke="#6EC5C5" d="M1 863v3m0 15v2m2-20v2m0 11v6m0 23v2m4-34v5m2 23v2m2-52v5m0 3v2m0 19v10m6-31v4m6-2v5m2-18v2m0 4v3m0 15v6m2 5v6m0 2v5m0 5v4m2-39v5m2-2v2m0 10v4m0 22v3m2-52v3m4-10v2m0 5v7m0 13v1m4-30v2m2 1v3m2-15v5m2-10v4m6-44v6m2 36v2m2 18v5m2-52v3m4-25v4m0 8v4m0 6v4m0 12v4m0 10v5m2-51v2m2 18v9m2-22v4m2 17v5m2-30v4m4-3v4m2-15v3m2-45v5m0 57v2m0 28v3m0 0v8m2-94v3m0 13v6m2-47v2m0 17v3m0 39v3m2-107v4m0 19v5m0 88v3m4-46v10m2 39v4m0 14v7m2-23v4m0 1v4m4-35v3m0 24v2m0 13v6m2-63v7m2-36v4m2 75v3m2-31v3m0 8v3m6-22v4m0 1v6m0 30v8m2-137v4m0 50v6m2-63v4m0 28v7m0 10v3m0 33v2m2-57v3m0 16v3m0 2v3m0 35v3m4-55v7m0 16v3m4 70v5m2-60v4m2 26v4m0 22v7m0 0v6m4-87v2m0 3v3m0 22v3m4-60v4m0 36v3m0 66v2m2-121v3m0 19v4m2-7v2m0 4v6m0 5v5m0 23v7m2-181v4m0 15v2m0 17v7m0 34v19m0 14v6m0 7v3m0 28v4m0 22v5m4-104v3m0 16v7m0 16v6m0 45v6m2-54v3m2 6v2m0 12v3m0 7v8m2-16v2m6-35v5m0 0v7m6 33v6m2-52v3m2-12v3m0 19v3m2-25v4m0 17v2m2-7v2m2-5v5m2-19v5m0 14v16m0 13v3m0 106v25m4-136v6m8-56v5m0 2v3m0 12v4m0 17v3m0 11v3m0 79v6m2-66v6m4-48v9m2-59v11m0 62v2m0 7v4m2-59v9m0 27v11m6 96v3m2-127v5m0 27v6m0 102v51m2-208v3m0 3v4m0 151v3m2-159v6m2-68v3m0 24v3m0 54v6m0 100v3m6-74v5m0 84v8m2-113v5m4-101v10m0 39v8m0 14v4m2-2v12m0 6v3m0 31v4m2-27v6m0 25v3m2-34v5m0 77v3m4-63v5m0 37v3m0 0v3m2-26v6m0 24v5m2-5v2m4-68v6m0 15v5m0 11v6m0 4v9m0 5v7m2-81v4m0 35v2m2-85v4m0 17v4m0 77v4m2-52v5m0 1v6m0 50v10m2-115v5m0 35v6m0 43v3m0 10v4m2-172v5m0 166v3m2-95v7m0 27v7m0 3v6m2 52v2m2-62v4m2-41v7m0 4v7m0 22v3m2 15v10m0 13v9m0 55v5m2-52v2m2-31v3m0 31v2m2 7v3m2-39v3m0 49v2m2-29v4m2-69v7m2-35v3m4 83v2m0 37v5m2-90v5m0 34v4m2 30v4m0 7v8m2-103v2m0 83v2m2-11v3m0 9v5m0 0v4m2-75v3m0 8v4m2 14v3m0 2v4m2-22v3m0 10v5m0 3v2m2 6v3m0 23v2m0 0v3m0 5v9m2-26v5m0 6v5m0 0v2m0 0v2m2-32v3m0 6v4m2-90v3m0 0v4m0 20v4m0 21v3m0 44v3m0 0v3m0 2v13m2-115v3m0 31v2m0 5v6m0 58v2m0 1v9m2-95v3m0 3v9m0 5v2m0 19v3m0 22v3m0 8v3m0 0v2m0 0v18m2-21v2m0 0v8m0 0v19m2-90v3m0 56v4m0 0v2m0 3v3m0 0v25m2-63v7m0 22v5m0 6v23m2-65v2m0 9v5m0 6v3m0 6v5m0 3v26m2-40v4m0 3v2m0 2v4m0 0v24m2-75v2m0 45v4m0 0v2m0 0v2m0 0v26m2-80v2m0 14v5m0 28v4m0 0v1m0 0v24m2-70v3m0 37v4m0 0v27m2-55v2m0 26v28m2-24v22m2-66v5m0 31v6m0 0v31m2-32v3m0 0v23m2-74v2m0 41v3m0 0v2m0 0v4m0 0v25m2-34v3m0 4v33m4-88v5m0 2v3m0 12v5m0 28v3m0 2v1m0 0v19m2-45v4m0 5v2m0 3v2m0 5v31m2-37v2m0 7v28m2-38v3m0 0v5m0 0v2m0 0v2m0 0v26m2-37v4m0 5v2m0 0v23m2-33v3m0 2v2m0 0v26m2-62v8m0 16v2m0 6v5m0 1v23m2-33v5m0 2v4m0 0v25m2-32v3m0 0v29m2-58v3m0 15v4m0 0v3m0 0v5m0 0v1m0 0v27m2-40v3m0 5v3m0 4v20m2-109v10m0 10v2m0 5v5m0 29v3m0 18v4m0 4v23m2-36v3m0 2v3m0 1v28m2-33v3m0 2v25m2-33v3m0 0v4m0 0v27m2-71v2m0 36v4m0 0v34m2-89v8m0 39v3m0 7v25m4-59v6m0 17v7m0 0v32m2-90v7m0 0v5m0 37v8m0 1v16m2-22v4m0 0v2m0 0v4m0 0v3m2-52v4m0 6v2m12-28v4m2-63v4m0 18v2m2 16v3m2 11v5m0 4v6m0 0v2m2-33v5m2 19v10m2-41v2m0 9v6m0 34v8m2-24v2m0 28v4m2-39v2m2-37v3m0 43v2m0 9v4m2-20v5m10-53v2m0 18v12m0 14v5m2-28v3m4 20v6m2-4v3m0 10v9m2-92v3m0 19v2m0 44v6m0 1v3m2-92v3m0 21v4m2-16v2m2-23v3m2-7v3m0 54v2m0 30v1m2-91v5m2 11v3m2-16v5m0 29v11m2-5v12m4-83v5m0 7v6m0 9v2m2-10v3m2 13v5m0 14v4m0 0v2m2-28v2m0 64v3m2-69v5m0 3v4m2 6v5m0 49v4m2-37v3m0 32v7m2-49v2m4-13v4m2 5v2m4-2v7m2-44v3m0 4v4m0 0v3m0 5v2m0 2v7m2-11v5m0 9v3m2 3v8m0 23v4m6-86v4m0 2v3m0 22v2m0 16v3m2-57v3m0 31v6m2-69v3m0 39v4m2 28v4m2-23v3m0 13v4m0 5v7m0 3v3m2-91v2m0 3v4m0 36v4m0 13v5m2-56v3m2-70v7m2 48v5m0 23v2m2-50v4m2 53v4m0 0v4m2-54v6m0 0v2m0 26v2m2-15v10m0 1v8m0 22v4m0 26v2m2-100v6m0 12v3m0 14v9m0 6v4m0 9v5m2-174v4m0 44v3m0 18v3m2 24v2m2 45v3m0 3v4m0 38v3m2-60v2m0 39v4m4-47v3m2 73v6m2-26v2m4-38v3m0 76v3m2-108v3m0 50v5m0 3v2m0 35v4m0 3v6m2-112v8m0 8v4m0 38v2m2-19v13m2-20v3m0 42v2m4-32v4m2 2v2m4-62v3m0 73v5m10-34v4m0 38v4m2 39v2m2-55v3m0 39v5m2-75v3m0 22v3m0 14v2m2-39v3m0 10v2m2-19v7m0 52v7m0 0v3m4-86v4m2-46v15m0 4v8m0 32v6m0 16v4m0 3v2m2-19v8m2 6v3m2 14v3m2-38v3m0 52v1m2-40v9m2-72v3m0 39v3m0 0v5m0 61v2m2-37v3m0 2v4m8-28v3m4 25v6m2 4v5m2-18v6m0 32v5m0 22v3m2-37v6m2-32v2m0 38v2m4-62v2m0 28v4m2-68v4m0 32v3m0 56v2m2-51v2m0 4v3m0 23v4m0 15v7m0 2v5m2-44v6m0 13v3m0 5v4m6-102v5m0 14v3m0 4v6m2 45v3m14 73v4m2-92v2m0 60v4m0 17v3m2-122v7m2 94v3m2-58v5m0 42v2m2-10v7m20-34v5m0 5v5m0 48v3m2-40v3m2 23v2m2-45v2m0 15v5m2-2v5m2-8v3m4 23v2m2-26v4m4-9v2m0 39v1m2-32v3m2-73v2m0 92v6m28-38v5m0 21v4m0 2v4"/>
<path stroke="#4BB3CA" d="M1 932v26m2-93v7m0 15v2m0 6v8m2-20v2m0 12v5m4-31v3m0 0v6m0 14v2m2-18v2m0 17v3m2-28v10m0 19v7m2-44v6m0 9v4m2-5v17m2-42v39m2-50v10m2-15v6m0 2v3m0 4v9m0 5v5m0 5v8m0 2v3m2-25v4m0 12v6m2-51v5m0 21v8m0 27v2m2-61v4m0 9v6m0 5v5m0 17v2m2-52v10m0 2v6m0 26v2m0 36v3m2-85v5m0 31v4m0 3v3m6-43v6m0 18v5m2-31v12m2-20v3m0 12v2m2-34v14m0 22v9m0 11v5m2-49v3m0 4v2m0 9v14m0 9v2m2-13v9m2-29v11m2-21v12m0 4v8m2-41v6m0 9v2m0 6v4m0 21v3m4-16v4m0 6v5m0 6v5m0 4v2m2-55v5m0 16v2m4-32v3m0 7v3m0 10v6m2-2v9m2-32v4m2 24v6m0 0v4m2-48v2m0 14v10m0 3v5m0 3v2m4-34v3m0 6v3m2-37v5m0 4v4m0 5v3m0 4v2m2-14v3m0 5v2m0 10v4m0 7v2m2-108v21m0 52v3m0 0v4m2-140v9m0 2v4m0 44v3m0 6v2m0 64v9m0 12v3m2-138v2m0 21v5m0 10v2m0 5v15m0 4v17m0 12v2m0 5v6m4-13v5m0 27v3m2-6v7m0 59v3m2-77v2m0 4v3m4 4v5m0 2v4m0 34v1m2-89v6m0 19v4m2-72v7m0 26v14m0 2v14m0 27v3m2-95v3m0 3v8m0 20v3m0 36v5m0 5v3m2-48v3m0 9v6m0 36v5m0 14v9m0 0v11m2-52v6m0 2v3m0 0v2m4-60v23m0 24v3m0 32v5m2-157v8m0 16v4m0 23v4m0 10v4m0 9v2m0 16v3m2-48v4m0 26v2m2-38v3m0 59v13m0 8v6m0 9v2m2-38v9m0 0v7m2-37v3m0 16v7m0 10v3m0 14v6m2-36v2m2 42v4m2-68v4m0 17v6m0 21v6m2-55v5m0 16v6m4-21v7m2-28v2m0 24v15m0 8v3m2-93v13m0 7v7m0 5v3m0 6v2m0 37v2m0 3v5m0 22v2m0 3v6m2-88v4m0 9v4m0 12v5m2-80v14m0 24v4m0 16v9m0 4v10m2-170v8m0 49v18m0 52v4m0 25v3m0 24v1m2-104v3m0 10v5m0 19v14m0 22v9m0 13v5m0 34v3m2-135v2m0 21v6m0 104v4m0 12v2m2-116v2m0 8v3m0 6v2m0 14v6m0 7v12m0 0v16m0 0v9m0 2v54m0 0v6m2-129v10m0 20v23m0 0v6m0 0v16m0 0v12m0 0v9m0 0v16m0 0v20m2-142v7m0 6v2m0 2v7m0 8v9m0 0v12m0 0v68m2-104v9m0 12v7m0 0v6m0 0v26m0 0v38m0 0v7m0 0v16m0 0v28m0 0v36m2-174v6m0 0v6m0 0v54m0 0v8m0 0v26m2-148v11m0 20v5m0 0v7m0 3v5m0 7v36m0 0v67m0 0v26m6-179v13m0 41v15m0 0v25m0 2v6m0 0v32m0 0v10m2-168v15m0 30v4m0 16v3m0 13v26m0 0v14m0 0v13m0 3v18m0 0v10m2-221v4m0 10v3m0 0v3m0 3v7m0 8v15m0 45v3m0 30v14m0 0v49m0 0v23m0 0v12m2-163v4m0 18v4m0 32v2m0 5v34m0 0v9m0 6v12m0 2v11m0 2v7m2-131v6m0 33v3m0 9v45m0 3v23m0 0v8m2-98v10m0 10v9m0 4v74m0 3v16m0 2v9m2-185v2m0 8v7m0 32v4m0 12v26m0 4v7m0 3v9m0 0v24m0 0v13m0 0v11m2-162v15m0 16v3m0 32v8m0 0v9m0 0v60m0 2v19m2-107v11m0 0v40m0 0v6m0 3v34m0 0v16m0 0v18m2-117v27m0 0v25m0 3v11m0 0v34m2-142v9m0 22v2m0 2v4m0 5v24m0 0v67m0 0v10m0 0v19m2-238v6m0 47v2m0 36v4m0 23v24m0 0v7m0 0v22m0 3v20m2-173v11m0 32v3m0 8v17m0 10v4m0 18v29m0 3v6m0 0v26m2-86v11m0 3v12m0 6v7m0 1v41m0 2v20m0 0v3m2-117v4m0 7v3m0 15v7m0 0v25m0 0v10m0 0v22m0 0v13m0 0v27m0 0v16m2-161v2m0 0v5m0 11v2m2-40v3m0 60v14m0 0v9m0 0v36m0 0v15m0 0v10m2-159v9m0 0v7m0 31v5m0 11v2m0 0v2m0 6v11m0 0v13m0 0v37m0 0v8m0 0v19m2-141v10m0 6v6m0 34v18m0 0v39m0 0v6m0 3v8m2-133v5m0 5v10m0 15v2m0 18v4m0 3v12m0 0v15m0 3v8m0 0v23m0 0v11m0 0v8m2-96v9m0 7v13m0 0v10m0 0v36m0 0v21m2-126v2m0 5v2m0 18v7m0 13v8m0 0v8m0 3v20m0 0v13m0 2v41m2-162v5m0 13v3m0 10v3m0 8v6m0 20v9m0 4v25m0 0v15m0 0v21m0 0v12m0 0v12m2-91v39m0 0v25m2-174v10m0 11v17m0 6v12m0 42v6m0 2v30m0 2v28m0 0v7m2-114v15m0 4v6m0 15v5m0 3v14m0 0v8m0 0v55m2-91v6m0 21v26m0 0v24m0 0v15m2-78v3m0 0v24m0 0v17m0 0v40m2-132v4m2-18v3m0 0v4m0 59v12m0 2v40m0 3v2m2-203v19m0 50v3m0 8v14m0 7v2m0 0v7m2-19v5m0 21v7m0 21v3m0 4v5m2-24v8m0 10v2m0 6v2m0 18v8m2-81v15m0 9v4m0 11v5m4-36v3m0 11v9m0 31v4m2-58v4m0 86v7m2-31v5m2-53v9m0 4v3m0 0v9m0 0v23m2-37v11m2-30v4m0 33v8m2-100v3m0 16v9m0 20v4m0 23v14m0 17v3m0 4v3m2-65v8m0 14v10m0 3v13m0 12v4m2-67v10m0 6v7m0 4v11m0 6v4m0 0v9m0 19v5m0 4v3m0 0v6m2-185v10m0 7v8m0 6v17m0 0v4m0 87v3m0 0v9m2-97v15m0 64v3m0 7v2m0 24v2m2-95v15m0 34v3m2-42v10m0 7v11m0 8v3m0 29v2m2-42v3m0 14v11m2 7v11m0 9v2m0 14v9m0 2v5m2-65v3m0 13v4m0 2v2m0 3v2m0 7v5m0 2v4m0 2v6m0 8v2m2-24v2m2-38v10m0 11v8m0 17v4m2-30v15m2-52v4m0 3v3m0 0v5m0 45v5m2-174v9m0 10v9m0 39v19m0 31v7m0 8v15m0 4v5m2-70v8m0 0v9m0 18v3m0 15v2m0 54v5m2-54v10m0 21v5m0 11v2m2-17v3m0 3v3m2-100v2m0 21v2m0 10v4m0 8v3m2-93v14m0 0v2m0 20v9m0 11v16m0 38v3m0 8v6m0 18v7m2-119v19m0 14v14m0 27v3m0 5v5m0 2v8m0 14v6m2-47v7m0 26v9m2-68v2m0 5v6m0 8v4m0 5v3m0 2v12m0 5v7m2-19v7m2-21v2m0 8v3m0 5v5m2 1v4m0 11v3m2-25v3m2-8v8m2-33v6m0 31v13m0 7v6m2-109v4m0 2v7m0 5v16m0 51v4m0 9v2m0 11v5m2-85v3m2 25v3m0 15v2m0 6v4m2-41v5m0 46v5m0 8v2m2-3v2m2-11v4m0 5v6m0 5v3m4-43v16m0 13v2m2-56v2m0 7v2m0 50v7m2-38v3m0 9v5m0 2v2m2-19v6m0 19v2m2-20v4m0 20v12m2-37v6m4-12v6m0 2v12m0 3v6m2-21v4m0 9v3m4-77v20m0 10v2m0 2v3m0 15v3m0 35v5m0 3v2m2-67v4m0 2v3m0 2v2m0 40v3m0 2v5m2-51v3m0 46v5m2-58v5m0 21v10m2-31v5m0 5v14m0 24v5m2-50v14m0 22v6m2-55v2m0 45v3m2-34v2m0 4v7m0 15v5m6-47v2m0 10v7m2-35v4m0 52v16m2-87v11m0 0v10m0 3v15m0 30v6m2-21v5m0 6v5m2 9v4m2-33v2m0 0v2m0 20v5m2-38v6m4-36v4m0 13v14m0 4v4m2-5v6m0 10v3m0 5v8m2-1v4m2-22v3m0 6v10m2-58v10m0 2v5m0 4v10m0 3v3m0 6v1m2-21v3m0 5v11m2-20v2m2-4v8m0 10v3m0 6v4m4-51v3m0 11v2m0 0v7m2-69v9m0 2v4m0 18v8m0 5v5m0 8v6m2-36v4m0 3v8m0 14v3m2-69v4m0 17v7m0 12v11m0 0v4m4-36v6m0 6v5m2-19v6m0 55v3m2-33v3m0 18v4m2-18v7m0 2v3m2-43v3m0 9v4m0 20v2m0 0v6m2 9v6m2-51v3m0 20v10m4-59v8m0 5v10m2-11v3m0 0v4m0 36v6m0 10v6m2-31v11m0 22v3m2-78v4m2 28v2m0 4v9m0 26v10m2-55v3m0 6v3m0 5v4m0 5v2m2-50v6m0 41v3m0 9v3m0 17v5m2-111v2m0 35v6m0 2v2m0 3v4m0 2v3m2-22v6m0 32v18m2-79v6m0 27v7m2-84v10m0 18v3m0 19v8m2-40v3m0 18v13m0 4v3m0 17v5m0 6v4m0 5v5m2-85v4m0 41v3m0 6v4m0 14v5m0 15v5m0 0v3m2-115v7m0 2v4m0 7v6m2-8v2m0 11v8m2 31v9m2-88v6m0 3v6m0 18v6m0 15v5m0 9v9m0 26v5m0 4v12m2-147v12m0 10v4m0 6v9m0 27v3m0 18v7m0 0v10m0 0v4m2-46v2m0 23v2m0 37v3m2-77v3m0 2v3m2-34v9m0 18v9m0 2v6m0 17v2m0 13v2m2-86v11m0 32v5m0 4v14m0 6v3m0 11v4m0 3v4m2-66v5m0 13v3m0 8v5m0 8v6m0 10v3m0 0v6m0 4v6m2-101v4m0 42v3m2-21v2m0 23v5m0 0v2m2 26v5m2-54v3m0 4v3m0 5v7m0 14v3m2-69v6m0 22v9m0 14v4m0 3v2m0 2v15m4-62v12m0 7v8m0 13v3m2-92v9m0 20v2m0 11v4m0 25v3m0 0v4m2-69v3m0 28v3m0 23v2m0 2v2m0 5v7m0 10v4m0 0v5m0 8v1m2-140v4m0 30v17m0 16v12m0 35v8m4-86v15m0 12v5m0 4v3m0 6v4m0 10v6m0 7v5m0 0v4m2-23v2m0 33v3m2-124v6m2-13v3m0 55v4m2-44v2m0 12v10m0 9v8m0 11v6m2-56v2m0 91v4m2-125v17m0 52v4m0 6v3m0 20v8m2-80v3m0 5v3m0 3v6m0 51v2m2-112v12m0 24v5m0 3v3m0 3v4m0 21v5m2-50v8m0 7v6m0 51v7m0 0v3m0 2v3m2-102v3m0 4v3m0 17v9m0 45v13m0 6v7m2-76v3m0 21v3m0 10v4m0 11v6m0 3v4m0 5v11m2-90v4m0 6v3m0 23v8m2-57v5m0 40v8m0 20v3m2-62v3m0 28v3m0 22v5m2-199v6m0 15v5m0 11v7m0 15v3m0 21v3m0 12v6m0 42v5m0 0v4m0 7v7m0 5v5m0 2v2m2-95v5m0 0v8m0 0v4m0 49v12m0 19v2m2-45v5m0 28v2m2-50v8m0 20v3m0 11v4m0 0v4m0 19v3m0 7v6m0 16v9m2-70v7m2-38v4m0 57v7m0 8v4m2-47v12m0 11v4m0 28v1m2-93v5m0 0v6m0 20v9m0 11v6m2 20v1m2 1v3m0 4v4m2-71v3m0 3v3m0 9v3m0 6v2m0 30v3m0 21v5m0 20v4m0 2v10m2-121v3m0 57v2m2-89v11m0 3v8m0 21v5m2 9v10m0 2v5m0 30v4m2-57v2m0 10v6m0 9v6m0 12v4m0 10v1m2-96v5m0 15v5m0 0v5m0 5v4m0 26v4m4-17v2m2-20v7m0 21v4m0 2v3m2-39v6m0 38v4m4-24v4m0 16v14m0 5v5m2-101v16m0 6v3m0 10v8m0 18v7m0 25v2m2-61v3m0 3v3m0 9v9m0 16v5m0 10v16m2-37v4m0 28v9m0 2v6m2-40v3m0 24v10m2-86v4m0 15v5m2-57v4m0 12v7m0 2v4m0 0v2m0 20v3m2 39v4m4-74v5m0 26v2m0 2v7m0 8v5m2-169v3m0 16v7m0 14v5m0 19v8m0 37v7m0 6v19m0 18v4m0 9v8m2-19v12m0 10v2m0 5v8m0 9v3m2-99v3m0 3v11m0 18v6m0 23v10m2-35v5m0 32v4m2-36v9m0 7v7m0 14v10m2-78v4m0 4v2m0 63v2m0 12v7m0 4v7m2-108v2m0 59v9m0 6v3m0 8v3m2-44v4m0 3v4m0 28v4m2-88v6m0 19v8m0 38v4m0 3v6m2-60v3m0 4v3m0 24v5m2-10v4m0 11v4m0 2v8m2-57v3m0 0v9m0 18v3m4 26v2m0 9v9m0 18v4m2-71v4m0 11v5m0 28v4m2-51v3m0 12v7m0 2v5m0 34v3m0 2v3m2-53v14m0 13v4m2-59v3m0 4v3m0 3v6m0 26v14m0 4v5m2-53v15m0 15v9m0 3v4m0 3v3m2-49v4m0 0v9m0 4v3m0 10v4m0 11v4m2-93v11m0 40v10m0 14v3m0 12v5m2-67v5m0 8v4m0 33v8m2 8v6m4-61v7m0 7v5m0 19v10m2-108v5m0 0v3m0 7v7m0 49v2m0 18v3m0 7v18m0 6v1m2-86v4m0 21v3m0 32v3m0 5v4m2-53v9m0 33v7m0 11v7m2-110v3m0 40v5m0 5v3m0 9v3m0 3v2m0 44v4m0 7v4m8-74v11m0 27v4m0 3v7m2-20v7m0 2v12m0 7v4m0 8v10m2-89v8m0 15v4m0 72v7m2-163v4m0 0v7m0 29v3m0 36v6m0 16v3m2-90v2m0 35v2m0 7v12m0 15v12m0 9v3m0 5v3m2-15v6m0 18v2m2-9v7m0 22v8m4-58v5m0 31v2m4-69v7m0 2v15m0 9v5m2-4v5m0 10v4m2-12v6m8 3v10m0 9v5m2-50v5m0 35v3m0 4v2m2-51v11m0 3v8m0 12v12m0 4v4m2-27v6m0 0v4m0 7v5m0 3v3m2-25v10m2-1v8m2 6v3m0 2v3m2-36v3m0 17v3m2-41v7m2 6v6m0 15v14m2-40v2m0 18v14m2-35v2m0 2v3m0 15v6m0 7v3m0 2v9m2-134v5m0 125v2m6-43v6m0 20v4m6-21v2m0 17v6m2 2v3m0 12v2m0 16v3m2-69v3m0 9v8m0 3v3m0 17v6m2-76v6m0 2v20m0 29v5m2-22v4m0 10v3m0 17v2m2-47v2m0 39v5m2-69v3m0 17v7m0 16v4m2 2v4m2-51v19"/>
<path stroke="#2A9DC6" d="M1 869v5m0 9v5m0 26v11m2-43v5m2-2v10m2-41v3m0 25v5m0 24v8m4-53v9m0 15v5m0 13v9m2-49v2m4 1v4m4-36v3m8 29v2m0 7v3m2-40v2m0 11v5m2-23v18m2-44v9m0 50v5m2-23v5m0 7v4m2-46v6m0 0v5m0 40v2m2-66v9m2 10v3m2-7v3m0 26v4m0 12v7m2-45v3m0 29v5m2-1v7m0 2v4m2-32v10m4-28v6m2-22v13m2-11v6m0 42v4m2-26v6m2-26v3m0 11v3m2-40v7m2-9v3m2 38v4m2-13v7m4-47v5m0 23v4m0 2v2m2-35v7m0 4v4m0 12v4m2-12v8m0 8v16m2-124v25m0 24v7m0 3v3m0 9v2m0 6v5m0 7v5m0 21v2m2-127v7m0 23v8m0 9v10m0 32v4m2-94v3m0 9v3m0 18v4m2-65v3m0 84v4m0 18v2m4 35v3m2-16v4m0 17v5m0 24v3m2-61v2m2-15v4m0 0v2m2-34v7m0 19v10m0 40v3m4-114v7m0 55v16m0 11v3m2-77v4m0 19v4m0 16v3m0 21v4m2-57v9m0 16v2m0 8v3m0 22v5m6-24v7m0 30v17m2-187v7m0 18v3m0 24v3m0 2v4m0 9v4m0 14v3m0 16v2m0 3v9m0 2v3m0 9v3m2-127v4m0 14v2m0 37v6m0 14v3m0 27v4m0 12v2m2-83v2m0 9v10m0 3v2m0 10v13m2-21v7m0 16v7m0 38v5m2-78v4m0 17v2m0 3v11m0 0v5m0 28v3m0 13v6m2-62v4m0 21v3m2-22v23m0 16v8m2-49v2m0 0v4m0 15v4m0 36v11m2-40v12m2-34v13m0 0v4m2-74v9m0 0v14m0 4v3m0 8v6m0 7v4m0 3v1m2-47v3m0 10v18m0 35v5m2-62v2m0 2v2m0 9v2m0 10v7m0 50v2m2-110v8m0 16v9m0 33v2m2-80v10m0 5v7m0 12v3m2-132v7m0 16v3m0 11v12m0 48v3m0 16v3m0 19v6m0 16v2m2-59v4m0 28v10m0 12v4m0 16v18m0 4v4m2-143v5m0 54v5m0 60v4m0 6v5m0 12v2m2-83v4m0 6v4m0 112v2m2-151v5m6 133v2m2-127v4m0 16v3m6-4v3m0 107v13m2-188v4m0 33v13m2-67v6m0 43v2m0 32v7m2-52v3m0 53v5m2-56v8m0 17v12m0 4v3m2-28v8m0 2v5m0 7v2m2-53v5m0 17v7m0 16v5m2-49v4m0 19v7m0 9v7m0 21v3m2-40v2m0 7v6m0 3v5m4-7v11m2-95v25m0 16v6m0 20v5m0 36v4m2-111v12m0 40v5m0 45v2m0 5v8m4-19v10m2-16v7m2-40v7m0 4v13m0 7v7m2-71v2m0 2v10m0 43v4m2-5v4m0 9v9m2-42v3m0 15v9m0 13v4m2-48v3m2 0v2m0 19v5m2-26v3m0 15v5m0 31v3m2-35v8m0 4v7m0 2v3m0 8v2m0 9v2m2-124v14m0 13v8m0 35v3m0 2v6m2 7v4m0 12v2m2-2v3m0 11v4m0 10v2m4-51v2m0 2v4m2-25v4m0 5v23m2-73v25m0 61v13m0 2v2m2-12v10m2 8v3m2-2v20m0 17v13m4-49v2m0 7v4m2-45v6m0 4v3m0 10v17m0 16v6m0 5v9m2-73v3m0 32v5m0 19v4m2-85v3m0 21v4m4 0v16m0 3v3m0 15v3m2-92v8m0 75v3m0 27v2m2-27v3m0 36v3m2-102v4m0 2v3m0 23v4m2-58v2m0 0v12m0 26v9m0 42v6m0 24v6m2-103v4m0 6v2m0 54v3m0 10v6m2-102v7m0 37v6m0 19v13m0 16v10m2-92v3m0 48v7m0 4v4m0 3v2m2-47v7m0 47v5m0 5v13m2 19v11m0 15v12m2-71v2m0 19v3m0 7v9m2-57v4m0 2v12m2-13v4m2 16v3m0 5v4m0 2v9m2-91v5m0 4v5m0 17v9m0 10v15m0 2v3m2-137v12m0 10v10m0 37v3m0 61v8m2-131v34m0 31v6m0 27v3m0 2v8m0 22v4m2-60v6m0 10v3m0 22v4m0 0v4m0 31v2m2-10v2m2-70v3m0 15v3m0 0v4m2-116v4m0 8v4m0 16v13m0 16v2m0 55v8m2-95v8m0 3v2m0 26v3m0 23v2m2 30v6m2-14v3m0 19v3m2-23v2m0 21v4m6-10v17m0 8v6m4-91v16m0 6v5m0 6v10m2-98v2m0 6v7m0 34v2m0 19v15m0 40v7m0 4v3m2-35v2m0 4v2m0 7v4m0 5v11m2-72v4m0 0v6m0 6v6m0 26v4m0 9v5m2-26v5m0 12v6m2-41v17m0 5v5m4-2v7m0 5v2m2 6v8m0 11v5m2-63v4m0 5v8m0 10v6m0 22v4m2-7v6m4-17v4m2 4v6m0 2v3m2-46v5m0 9v7m0 15v10m0 2v8m2-58v7m0 7v4m0 33v2m2-37v5m0 9v6m4-49v8m0 7v3m0 27v12m2-29v4m2 18v3m2-29v3m2 4v3m0 18v7m2-37v5m0 14v2m0 8v6m2-37v2m0 5v4m0 20v2m0 2v3m0 8v6m4-32v10m2 0v6m2-52v3m0 15v6m0 17v8m2-24v10m2-57v3m0 21v3m0 19v4m0 5v2m0 2v2m2-30v5m0 47v6m4-29v7m2-10v12m0 17v7m4-75v8m0 42v3m0 4v5m2-37v5m0 40v1m2-21v7m2-11v3m2-57v4m0 39v3m0 3v2m2 3v6m4-15v3m0 5v4m4-42v3m0 17v6m2-66v2m0 6v16m0 32v6m2-50v6m0 19v3m2-29v3m0 29v4m2-17v3m0 4v4m0 8v7m0 6v5m2-82v4m0 34v2m0 35v2m2-69v7m0 6v5m0 35v6m0 23v2m2-33v6m0 10v3m0 5v4m0 5v3m4-50v2m0 5v6m0 10v3m0 15v3m2-58v24m0 0v5m6-48v3m0 20v6m0 14v7m0 5v1m2-45v8m0 7v21m0 6v10m2-49v3m2 25v8m2-32v3m0 36v4m2-34v4m0 29v3m2-65v4m0 12v23m2-37v2m0 20v3m0 9v9m0 19v7m2-104v5m0 10v10m0 13v9m0 12v2m0 5v4m2-51v5m0 16v5m0 7v5m2-87v10m0 19v3m2-13v3m0 11v2m0 34v4m0 18v2m2-39v17m0 3v6m0 32v2m0 0v2m2-59v27m2-53v11m0 11v2m0 41v3m0 6v4m0 5v4m2-116v4m0 3v21m2 21v5m0 44v3m0 9v2m2-148v11m0 21v3m0 21v5m0 16v2m0 5v15m0 26v7m2-92v2m0 9v9m0 3v11m0 7v9m0 9v3m0 2v12m4-52v4m0 51v4m2-42v4m0 27v3m2-43v5m0 21v6m2-55v7m0 8v3m0 8v4m0 32v7m0 9v6m2-46v4m2-19v8m0 4v8m2-38v3m0 32v3m2-68v6m0 35v3m0 26v4m4 10v6m0 0v7m2-52v2m2-46v4m0 7v5m0 3v6m0 15v4m2-86v2m0 4v6m0 7v17m0 88v3m0 8v4m2-72v10m4-23v3m0 33v4m0 21v3m0 0v13m2-96v6m0 42v3m0 6v10m2-96v12m0 8v5m0 2v3m0 45v5m0 6v4m2-47v3m0 15v6m0 10v5m0 13v4m2-76v28m0 3v18m0 12v4m0 33v22m2-137v11m0 16v3m0 2v9m0 24v10m0 22v8m2-95v3m0 35v3m0 23v3m0 4v3m2-120v7m0 20v4m0 37v11m0 47v7m2-72v10m0 7v4m0 9v7m0 2v5m0 32v1m2-98v10m0 11v3m0 20v10m0 7v2m2-78v19m0 0v4m0 4v3m0 12v4m2-11v8m2-29v21m0 29v12m0 12v3m2-70v2m0 6v6m0 17v2m2-163v9m0 36v8m0 35v4m0 41v3m2-24v3m0 52v4m0 20v4m2-38v3m2-45v6m0 8v5m0 21v4m0 34v7m0 11v11m0 9v3m0 3v10m2-56v10m2-82v11m0 4v6m0 6v13m0 8v2m0 20v2m2-46v3m0 0v3m0 7v2m0 15v11m0 21v2m2-66v6m0 17v5m0 12v6m0 8v2m0 7v3m2-35v11m2-12v2m0 21v2m0 24v8m0 4v7m2-101v3m0 5v3m0 3v4m0 8v6m0 12v3m0 33v5m0 47v3m2-117v5m0 39v3m0 7v3m2-65v14m0 7v6m2 18v8m2-29v5m0 13v4m0 14v7m2-39v4m0 9v8m2-11v3m2-1v3m0 3v5m0 2v7m2-85v6m0 5v4m0 72v9m2-30v9m0 5v7m0 6v6m0 0v3m4-41v3m0 18v2m0 30v4m2-35v5m0 0v3m2-68v3m0 51v6m0 2v2m0 45v4m0 4v1m2 1v4m0 8v7m2-90v9m0 19v2m2-30v5m0 13v5m2-81v4m0 14v2m0 12v6m2 18v2m0 21v5m4-86v7m0 29v9m2-136v6m0 23v3m0 116v3m2-40v5m0 84v4m4-43v3m0 2v9m2-57v9m0 4v7m0 11v3m0 13v3m2-23v7m0 23v9m0 12v2m0 2v6m2 24v3m2-49v6m0 24v9m2-96v3m0 0v5m0 3v6m0 13v4m0 23v4m2-42v4m0 3v11m2 14v9m2-17v4m0 5v18m4 12v5m0 13v14m2-42v7m2-2v13m0 34v1m2-66v7m2-5v2m0 5v7m0 0v2m2-9v2m2-21v5m2-28v7m0 4v4m0 51v4m2-24v3m0 12v3m0 42v5m0 4v2m2-87v8m0 14v3m0 15v3m0 4v3m4-20v3m2-66v4m0 13v3m0 7v3m0 3v3m0 5v7m2-12v14m0 2v3m0 9v4m2-12v6m0 32v7m2-125v3m0 13v11m0 0v5m0 0v3m0 7v5m0 24v2m0 8v8m0 4v14m8-43v2m0 19v5m4-4v10m0 8v3m2-80v4m0 60v4m0 2v4m0 11v6m0 3v7m2-108v4m0 20v9m0 26v3m0 4v3m0 35v6m2-16v4m0 2v4m0 2v4m0 2v4m2-6v18m8-70v2m0 17v7m0 12v2m2 13v8m0 13v1m2-27v5m4-59v11m0 2v6m0 54v9m0 0v10m4-60v3m0 8v6m2-30v2m2 25v3m0 26v3m2-48v8m0 20v4m2 14v7m2-64v5m0 28v4m0 16v7m2-27v6m2-4v5m2-24v3m0 11v14m2-48v4m0 4v5m0 10v3m2 3v4m0 4v4m2-35v5m2-71v22m0 7v28m0 21v5m0 3v16m0 10v2m6-24v2m0 7v3m0 3v2m0 7v4m0 8v6m6-48v3m0 2v4m0 6v6m0 18v7m2-3v3m0 10v5m0 14v4m2-73v5m2-40v5m0 37v2m0 2v6m2-3v10m2-12v12m0 11v3m2-59v3m0 3v5m0 3v3m0 27v4m0 17v6m2-14v5"/>
<path stroke="#1187C5" d="M1 877v4m0 15v3m0 2v6m0 20v5m6-73v5m0 35v12m4-11v8m10-53v9m0 16v7m2-54v4m2 8v3m2 0v3m0 18v13m2-41v4m4-17v5m2-12v14m0 11v3m0 20v2m2-38v18m2-5v4m0 3v3m0 11v3m2-51v12m2-15v10m0 6v2m0 33v8m2-12v2m2-12v3m2-9v4m0 9v8m4-65v9m0 41v6m2-4v5m2-19v13m2-31v5m0 15v6m0 5v6m2-31v3m4-22v3m0 7v7m0 9v7m2-20v4m4 24v2m2-50v14m2-18v19m2-31v4m2-23v13m0 37v5m2-73v6m0 2v3m0 30v3m0 24v3m0 10v4m2-87v4m0 24v16m0 14v4m2-157v3m0 18v29m0 3v3m0 3v6m0 13v11m0 9v29m0 22v4m0 4v4m2-151v4m0 2v10m0 11v12m0 37v4m0 22v3m0 6v3m0 22v3m4-20v6m0 4v3m0 26v5m2-5v5m0 16v11m0 2v5m2-58v4m2-21v2m0 0v3m0 11v3m2-32v8m0 21v5m0 29v4m2-63v12m2-51v3m0 43v9m0 16v2m0 3v4m2-85v10m0 13v5m0 13v8m0 2v5m0 16v8m2-36v8m0 2v5m0 14v5m2-28v8m0 2v5m4-24v3m0 31v4m2-151v5m0 23v4m0 16v9m0 5v2m0 38v12m0 14v2m0 3v7m2-130v8m0 9v5m0 6v4m0 7v8m0 2v5m0 20v5m0 9v3m0 2v14m0 14v8m2-30v6m0 0v9m0 18v4m0 19v7m2-115v4m0 0v20m0 2v5m0 9v8m0 18v4m0 16v8m0 10v5m0 2v9m2-98v4m0 6v3m0 47v3m0 33v10m2-68v3m0 11v5m2-23v6m0 23v6m2-6v12m0 19v5m2-52v3m0 6v8m0 42v16m2-85v6m0 3v2m0 17v4m2-19v2m2-57v8m0 3v4m0 24v2m0 45v6m2-101v3m0 11v5m0 30v4m0 24v16m2-83v5m0 30v6m0 10v3m2-64v5m0 66v1m2-168v8m0 71v6m0 12v6m0 11v5m0 3v7m0 13v9m0 2v3m2-108v15m0 4v6m0 10v4m0 107v3m2-141v6m0 5v14m0 13v8m0 21v7m0 4v21m0 6v9m0 11v4m4-78v3m2-4v2m2 8v9m0 15v6m2-24v14m8-46v4m0 15v10m0 4v7m0 3v4m2-50v11m0 23v16m0 11v5m2-139v2m0 20v3m0 33v8m0 0v6m0 31v8m0 0v3m0 17v2m2-72v4m0 17v8m0 16v9m0 2v9m0 50v6m2-108v3m0 16v3m0 2v4m0 27v3m2-50v6m0 13v2m0 9v3m0 12v10m2-12v9m0 26v4m0 7v3m2-79v3m0 16v12m2-29v7m2 21v5m0 3v4m2-33v4m0 16v2m0 8v5m2-124v6m0 36v4m0 2v5m0 8v12m0 3v3m0 5v13m0 12v3m0 65v3m2-142v4m0 0v2m0 8v3m2 49v4m2-22v4m0 31v5m2-25v2m0 9v5m2-64v4m0 3v5m0 45v5m2-37v3m0 3v10m2-8v3m0 13v4m0 18v3m0 65v3m2-128v3m0 20v3m0 29v3m2-57v3m0 3v17m0 2v17m2-40v4m0 26v13m2-26v5m0 22v7m0 22v4m2-59v8m0 29v3m0 5v6m2-67v3m0 36v5m0 3v6m2-45v5m0 2v3m0 25v6m0 2v7m0 5v3m2-27v10m0 20v6m4-25v3m0 2v5m2-42v2m0 42v8m2-149v3m0 21v2m0 12v8m0 76v6m0 24v1m2-59v2m2 8v23m0 19v3m0 20v6m0 0v7m2-77v4m0 46v4m0 20v9m0 5v3m4-71v6m0 18v3m0 5v3m0 27v7m2-60v4m0 10v3m0 29v4m0 6v5m0 26v6m0 5v1m2-96v2m0 6v6m0 22v9m0 15v7m2-92v16m2 43v4m2-16v3m0 15v7m0 3v2m2-112v4m0 38v3m0 8v7m0 3v9m0 25v6m0 16v2m0 2v6m2-73v2m0 43v4m0 7v8m2-96v12m0 78v3m2-153v5m0 59v21m0 17v18m0 29v3m2-35v4m0 5v7m0 34v6m2-92v18m0 19v8m0 13v6m0 20v1m2-102v9m0 13v2m0 29v3m2-44v4m0 7v10m0 19v3m0 19v11m2-49v8m0 4v3m0 57v3m2-46v7m0 37v2m4-11v7m0 3v3m4-72v4m2-110v3m0 14v4m0 25v10m0 12v5m0 19v11m0 10v10m0 7v8m0 27v2m0 12v10m2-106v6m0 26v2m0 2v8m0 8v3m0 22v5m0 1v7m0 21v7m2-74v4m0 12v9m0 26v2m0 0v3m2-34v7m0 3v3m0 12v2m0 3v5m0 16v3m0 7v3m2-124v4m0 2v15m0 24v3m2-54v3m0 11v7m0 18v6m0 2v18m0 29v6m0 0v8m2-133v5m0 10v3m0 61v13m0 12v3m2 14v4m4-31v4m2-6v3m0 15v3m0 5v11m2-15v2m0 9v6m0 6v2m0 12v1m4-37v6m2-9v3m0 17v3m2-139v4m0 2v6m0 9v8m0 2v6m0 71v6m0 2v6m0 25v4m2-85v2m0 31v9m0 2v4m2-33v4m0 19v13m0 20v19m2-47v2m0 10v2m0 21v8m2-26v2m0 7v9m0 9v4m0 5v6m2-53v3m0 15v4m2 3v8m2-31v5m0 27v2m2-29v4m0 26v2m4 2v12m2-35v3m0 8v14m0 0v2m2-15v3m0 11v5m2-23v4m4-25v5m0 7v5m4 18v11m2-36v12m2-26v5m0 6v15m0 11v10m2-33v13m0 12v2m2-37v2m0 38v6m4-52v4m0 2v3m0 6v9m2-8v3m0 8v4m0 16v3m2-29v3m0 10v9m2-27v4m0 22v6m2-63v3m0 3v5m0 23v4m0 14v6m0 8v5m0 3v4m2-75v4m0 16v5m0 10v2m0 0v6m0 29v4m2-35v9m0 6v2m0 8v2m2-49v7m0 33v2m2-16v7m2-17v3m0 7v10m0 5v5m2-13v4m4-13v3m0 3v4m2-21v10m2-13v15m0 9v4m2-68v12m0 14v5m4-28v18m0 7v6m0 3v3m0 19v5m2-29v3m0 10v10m2-35v3m0 13v5m6-82v3m0 54v3m0 14v5m2-20v2m0 3v6m0 4v5m2-80v8m0 19v4m2 25v4m2-57v6m0 23v2m0 9v10m0 2v4m2-27v7m2 12v5m0 13v4m2-27v5m0 15v5m2 16v5m4-61v7m0 5v8m0 10v14m4-62v2m0 24v14m2-24v5m2-13v3m0 8v4m0 33v10m2-78v5m0 4v13m0 9v4m0 31v9m2-60v4m0 20v4m0 17v6m0 4v5m2-64v5m0 6v10m0 13v3m2 0v3m0 15v4m2-84v2m0 8v13m0 2v4m0 37v7m2-88v3m0 8v4m0 15v2m0 4v3m2-43v7m0 8v6m0 24v2m2-46v2m0 6v6m0 3v3m0 0v3m0 4v7m0 17v7m2-57v3m0 7v11m0 16v4m0 7v2m2-56v2m0 13v9m0 8v3m0 37v7m0 11v3m2-106v3m0 15v7m2 38v17m2-56v2m0 2v3m0 12v3m2-63v4m0 0v6m0 22v3m0 2v3m0 0v6m0 6v7m0 13v7m0 11v6m0 2v13m2-137v3m0 25v2m0 36v14m0 55v3m2-104v9m0 50v5m0 24v6m0 2v14m2-64v4m2-27v3m0 28v14m0 9v7m0 13v4m2-88v8m0 47v6m0 18v3m2-41v7m0 12v2m0 8v3m0 3v2m2-78v3m0 9v6m0 27v3m0 26v7m2-90v5m0 3v4m0 6v3m0 6v6m0 6v8m2 12v12m0 2v5m0 3v3m0 17v1m2-86v3m0 7v14m0 29v4m2-89v5m0 6v4m0 2v11m0 23v5m0 16v3m0 8v3m4-31v7m0 40v2m2-114v4m0 11v14m0 8v4m0 32v2m2-55v5m0 29v2m0 4v2m0 5v3m0 20v4m0 13v3m0 2v3m2-129v7m0 34v4m0 7v3m0 24v17m0 22v5m2-58v5m0 4v7m2-23v4m0 14v6m0 9v3m2-60v6m0 9v2m0 7v12m0 54v2m2-122v5m0 4v7m0 27v2m0 10v8m2-43v20m0 13v2m0 7v3m0 15v2m2-71v8m0 57v5m2-40v3m0 23v4m2-45v2m0 13v7m0 30v3m2-79v4m0 9v2m0 12v15m0 9v17m2-53v3m0 30v6m0 9v21m0 7v5m2-104v4m0 67v3m2-40v2m0 3v6m0 55v1m0 0v5m2-127v9m0 37v8m0 30v6m2-52v6m2 30v2m0 32v2m0 10v8m2-102v7m0 14v6m0 21v3m2-152v9m0 25v3m0 3v11m0 10v2m0 13v4m0 4v8m0 7v12m2-34v8m0 2v3m0 11v14m0 2v4m0 19v3m0 9v5m0 2v8m2-48v10m0 20v30m2-67v11m0 26v5m2-28v5m0 15v2m0 2v4m2-12v3m0 11v4m0 28v3m2-53v3m0 38v3m2-52v5m0 36v2m2-5v13m2-25v8m0 3v2m2-33v3m0 16v5m0 0v2m0 3v3m0 17v3m0 69v2m2-118v4m0 9v3m2-36v7m0 19v2m0 19v15m2-32v5m0 33v4m0 2v8m2-81v2m0 2v16m0 3v5m0 10v2m0 21v3m0 15v8m2-88v13m0 43v2m2 2v2m2-24v7m0 25v7m2-86v2m0 6v4m0 5v19m0 13v15m2-12v5m4-2v3m0 4v11m0 29v3m0 4v2m2-94v6m0 3v8m0 12v12m0 33v3m2-85v5m0 3v8m0 6v4m0 13v5m0 59v5m2-76v2m0 3v4m0 0v6m0 5v9m0 6v21m0 55v16m2-120v11m0 37v12m2-66v6m0 8v3m0 19v2m2-98v17m0 13v3m0 15v6m0 25v5m2-22v5m0 16v4m0 3v4m0 28v4m4-94v8m0 25v6m0 11v2m2-147v8m0 16v3m0 7v6m0 0v13m0 10v8m0 17v2m0 15v6m2-23v15m0 11v26m0 22v5m0 20v5m2-75v4m0 4v10m0 12v9m0 5v3m2-8v2m2-24v4m0 31v6m2-52v14m0 10v5m2-74v11m0 11v8m0 4v4m0 0v12m0 2v3m0 10v8m0 17v3m0 11v4m0 8v3m0 7v3m0 3v10m0 7v3m2-104v3m0 3v21m0 29v9m0 26v5m2-69v3m0 4v3m0 1v7m0 24v1m0 0v6m2-43v5m4-12v10m0 30v6m4-16v5m0 10v4m0 40v2m2-68v4m0 19v8m2 13v6m0 16v2m4-76v3m2-5v7m0 17v6m0 23v3m2-61v6m2-14v4m0 20v3m0 13v9m0 14v4m2-40v6m0 11v4m0 38v5m0 13v4m0 2v12m0 0v4m2-111v3m0 30v10m4-21v6m0 26v5m2-72v5m0 3v7m0 3v3m0 3v3m0 9v8m0 8v5m0 18v6m2-79v17m0 29v4m2-28v6m0 6v3m0 13v3m0 9v4m0 2v3m2-98v5m0 19v7m0 5v4m0 5v3m0 5v7m0 36v10m0 0v6m0 6v3m8-37v4m0 19v9m2-32v3m0 23v3m0 28v3m2-86v13m0 38v7m0 10v8m0 20v4m2-156v14m0 18v6m0 10v4m0 3v13m2-46v9m0 13v5m2 12v3m0 41v2m2-44v14m0 5v4m0 2v2m0 3v7m0 35v4m4-57v7m0 5v5m0 5v7m4-6v5m0 9v12m2-32v3m0 26v8m2-14v3m4-47v14m0 2v2m0 5v4m0 2v6m0 3v14m4-49v5m0 11v5m0 23v2m2-53v2m0 0v2m0 16v8m0 6v4m0 4v4m0 5v4m0 5v3m2-89v4m0 0v9m0 2v7m0 2v8m2 49v3m2-5v5m2-49v5m0 7v7m0 3v4m0 6v4m2-12v2m0 8v4m0 2v3m2 12v3m2-60v6m0 13v4m0 27v8m2-33v8m0 24v6m4-68v4m0 24v2m0 18v5m2-93v3m0 35v16m0 7v3m6 9v4m0 3v3m0 13v8m6-31v4m0 19v3m2-7v2m0 14v2m0 13v4m2-54v4m0 16v10m0 3v2m0 8v1m2-15v5m2-49v7m0 2v2m0 37v6m2-72v17m0 6v2m0 6v7m0 14v9m0 5v2m2-31v8m0 17v9m0 9v1m2-57v13m0 20v5m2-58v2m0 28v15m0 21v1"/>
</g>
<path d="M162.0 891.4L169.1 888.5L176.2 885.4L183.3 882.1L190.4 878.5L197.5 874.8L204.6 870.9L211.7 867.0L218.8 862.8L225.9 858.6L233.0 854.3L240.2 850.0L247.3 845.6L254.4 841.2L261.5 836.8L268.6 832.4L275.7 828.1L282.8 823.8L289.9 819.6L297.0 815.5L304.1 811.5L311.2 807.6L318.3 803.9L325.4 800.3L332.5 796.9L339.6 793.7L346.7 790.6L353.8 787.8L360.9 785.1L368.0 782.6L375.1 780.3L382.2 778.1L389.3 776.2L396.5 774.5L403.6 773.0L410.7 771.7L417.8 770.6L424.9 769.7L432.0 769.1L439.1 768.6L446.2 768.4L453.3 768.5L460.4 768.7L467.5 769.2L474.6 770.0L481.7 770.9L488.8 772.1L495.9 773.5L503.0 775.0L510.1 776.8L517.2 778.8L524.3 780.9L531.4 783.2L538.5 785.7L545.7 788.3L552.8 791.1L559.9 794.0L567.0 797.1L574.1 800.3L581.2 803.6L588.3 807.1L595.4 810.6L602.5 814.3L609.6 818.1L616.7 821.9L623.8 825.9L630.9 829.9L638.0 834.0L645.1 838.1L652.2 842.2L659.3 846.2L666.4 850.1L673.5 853.8L680.6 857.4L687.7 860.7L694.8 863.8L702.0 866.7L709.1 869.3L716.2 871.8L723.3 874.0L730.4 875.9L737.5 877.7L744.6 879.2L751.7 880.5L758.8 881.5L765.9 882.4L773.0 883.0L780.1 883.4L787.2 883.6L794.3 883.6L801.4 883.4L808.5 882.9L815.6 882.2L822.7 881.2L829.8 879.9L836.9 878.3L844.0 876.4L851.2 874.1L858.3 871.5L865.4 868.5L872.5 865.2L879.6 861.5L886.7 857.4L893.8 853.1L900.9 848.6L908.0 843.8L915.1 838.9L922.2 833.9L929.3 828.7L936.4 823.5L943.5 818.3L950.6 813.1L957.7 807.9L964.8 802.8L971.9 797.8L979.0 793.0L986.1 788.5L993.2 784.1L1000.3 780.1L1007.5 776.3L1014.6 772.9L1021.7 769.9L1028.8 767.4L1035.9 765.3L1043.0 763.6L1050.1 762.3L1057.2 761.4L1064.3 760.9L1071.4 760.7L1078.5 760.9L1085.6 761.4L1092.7 762.1L1099.8 763.2L1106.9 764.5L1114.0 766.0L1121.1 767.8L1128.2 769.7L1135.3 771.9L1142.4 774.3L1149.5 776.9L1156.7 779.7L1163.8 782.7L1170.9 785.8L1178.0 789.1L1185.1 792.6L1192.2 796.3L1199.3 800.1L1206.4 804.0L1213.5 808.0L1220.6 812.0L1227.7 816.1L1234.8 820.1L1241.9 824.1L1249.0 828.1L1256.1 832.0L1263.2 835.8L1270.3 839.5L1277.4 843.0L1284.5 846.3L1291.6 849.5L1298.7 852.6L1305.8 855.5L1313.0 858.3L1320.1 860.9L1327.2 863.4L1334.3 865.7L1341.4 867.9L1348.5 869.9L1355.6 871.9L1362.7 873.7L1369.8 875.3L1376.9 876.8L1384.0 878.2L1391.1 879.5L1398.2 880.7L1405.3 881.7L1412.4 882.6L1419.5 883.4L1426.6 884.0L1433.7 884.5L1440.8 885.0L1447.9 885.3L1455.0 885.5L1458.6 885.5" fill="none" stroke="#fff" stroke-width="5" stroke-linejoin="round"/>
<rect x="100.1" y="3.25" width="1421.2" height="477.85" fill="none" stroke="#000" stroke-width="1.7"/>
<rect x="100.1" y="499.9" width="1421.2" height="478.4" fill="none" stroke="#000" stroke-width="1.7"/>
<g stroke="#000" stroke-width="1.6" fill="none"><path d="M92.1 16.2H100.1"/><path d="M92.1 164.7H100.1"/><path d="M92.1 313.3H100.1"/><path d="M92.1 461.8H100.1"/><path d="M92.1 521.3H100.1"/><path d="M92.1 667.9H100.1"/><path d="M92.1 814.9H100.1"/><path d="M92.1 963.6H100.1"/><path d="M161.8 481.1V487.6"/><path d="M161.8 978.3V984.2"/><path d="M810.4 481.1V487.6"/><path d="M810.4 978.3V984.2"/><path d="M1458.8 481.1V487.6"/><path d="M1458.8 978.3V984.2"/></g>
<g><text x="37.26" y="28.80" font-size="32.5" textLength="50.35" lengthAdjust="spacingAndGlyphs">600</text><text x="36.62" y="177.30" font-size="32.5" textLength="51.00" lengthAdjust="spacingAndGlyphs">400</text><text x="35.92" y="325.90" font-size="32.5" textLength="51.71" lengthAdjust="spacingAndGlyphs">200</text><text x="70.70" y="474.40" font-size="32.5" textLength="16.59" lengthAdjust="spacingAndGlyphs">0</text><text x="37.26" y="533.90" font-size="32.5" textLength="50.35" lengthAdjust="spacingAndGlyphs">300</text><text x="35.92" y="680.50" font-size="32.5" textLength="51.71" lengthAdjust="spacingAndGlyphs">200</text><text x="38.08" y="827.50" font-size="32.5" textLength="49.21" lengthAdjust="spacingAndGlyphs">100</text><text x="70.70" y="976.20" font-size="32.5" textLength="16.59" lengthAdjust="spacingAndGlyphs">0</text><text x="82.67" y="1013.90" font-size="32.5" textLength="154.99" lengthAdjust="spacingAndGlyphs">2015-01-01</text><text x="730.57" y="1013.90" font-size="32.5" textLength="155.40" lengthAdjust="spacingAndGlyphs">2016-01-01</text><text x="1379.07" y="1013.90" font-size="32.5" textLength="154.69" lengthAdjust="spacingAndGlyphs">2017-01-01</text><text transform="translate(27.70 361.80) rotate(-90)" x="-0.68" y="0" font-size="33.5" textLength="239.62" lengthAdjust="spacingAndGlyphs">Daily distribution</text><text transform="translate(27.70 858.70) rotate(-90)" x="-0.68" y="0" font-size="33.5" textLength="239.62" lengthAdjust="spacingAndGlyphs">Daily distribution</text><text x="117.90" y="48.30" font-size="34.2" textLength="38.80" lengthAdjust="spacingAndGlyphs">(a)</text><text x="117.92" y="543.20" font-size="34.2" textLength="40.33" lengthAdjust="spacingAndGlyphs">(b)</text></g>
<g stroke-width="3" fill="none"><path d="M362.7 1073.2h29.6" stroke="#FDC591"/><path d="M362.7 1111h29.6" stroke="#F0A078"/><path d="M362.7 1148.8h29.6" stroke="#E27A5E"/><path d="M362.7 1186.6h29.6" stroke="#D24F42"/><path d="M551.3 1073.2h29.6" stroke="#C5282B"/><path d="M551.3 1111h29.6" stroke="#CC4145"/><path d="M551.3 1148.8h29.6" stroke="#DC7677"/><path d="M551.3 1186.6h29.6" stroke="#EBACAD"/><path d="M755.3 1073.2h29.6" stroke="#F8E0E0"/><path d="M755.3 1111h29.6" stroke="#DDF1EA"/><path d="M755.3 1148.8h29.6" stroke="#C2E8DB"/><path d="M755.3 1186.6h29.6" stroke="#A9DFCF"/><path d="M969.3 1073.2h29.6" stroke="#91D4C7"/><path d="M969.3 1111h29.6" stroke="#6EC5C5"/><path d="M969.3 1148.8h29.6" stroke="#4BB3CA"/><path d="M969.3 1186.6h29.6" stroke="#2A9DC6"/><path d="M1138.5 1073.2h29.6" stroke="#1187C5"/></g>
<g><text x="408.24" y="1086.00" font-size="32.3" textLength="106.55" lengthAdjust="spacingAndGlyphs">Changyi</text><text x="408.24" y="1123.80" font-size="32.3" textLength="127.42" lengthAdjust="spacingAndGlyphs">Chaoyang</text><text x="408.86" y="1161.60" font-size="32.3" textLength="77.88" lengthAdjust="spacingAndGlyphs">Dehui</text><text x="408.85" y="1199.40" font-size="32.3" textLength="120.88" lengthAdjust="spacingAndGlyphs">Dongliao</text><text x="596.53" y="1086.00" font-size="32.3" textLength="79.94" lengthAdjust="spacingAndGlyphs">Erdao</text><text x="596.58" y="1123.80" font-size="32.3" textLength="115.79" lengthAdjust="spacingAndGlyphs">Fengman</text><text x="596.54" y="1161.60" font-size="32.3" textLength="71.41" lengthAdjust="spacingAndGlyphs">Jiutai</text><text x="596.57" y="1199.40" font-size="32.3" textLength="142.66" lengthAdjust="spacingAndGlyphs">Kuancheng</text><text x="800.18" y="1086.00" font-size="32.3" textLength="103.82" lengthAdjust="spacingAndGlyphs">Longtan</text><text x="800.18" y="1123.80" font-size="32.3" textLength="94.57" lengthAdjust="spacingAndGlyphs">Luyuan</text><text x="800.16" y="1161.60" font-size="32.3" textLength="106.76" lengthAdjust="spacingAndGlyphs">Nong'an</text><text x="800.44" y="1199.40" font-size="32.3" textLength="152.89" lengthAdjust="spacingAndGlyphs">Shuangyang</text><text x="1016.78" y="1086.00" font-size="32.3" textLength="106.59" lengthAdjust="spacingAndGlyphs">Tiedong</text><text x="1016.77" y="1123.80" font-size="32.3" textLength="68.23" lengthAdjust="spacingAndGlyphs">Tiexi</text><text x="1015.24" y="1161.60" font-size="32.3" textLength="69.72" lengthAdjust="spacingAndGlyphs">Xi'an</text><text x="1017.08" y="1199.40" font-size="32.3" textLength="86.02" lengthAdjust="spacingAndGlyphs">Yitong</text><text x="1183.66" y="1086.00" font-size="32.3" textLength="89.73" lengthAdjust="spacingAndGlyphs">Yongji</text></g>
</svg>
</body></html>
